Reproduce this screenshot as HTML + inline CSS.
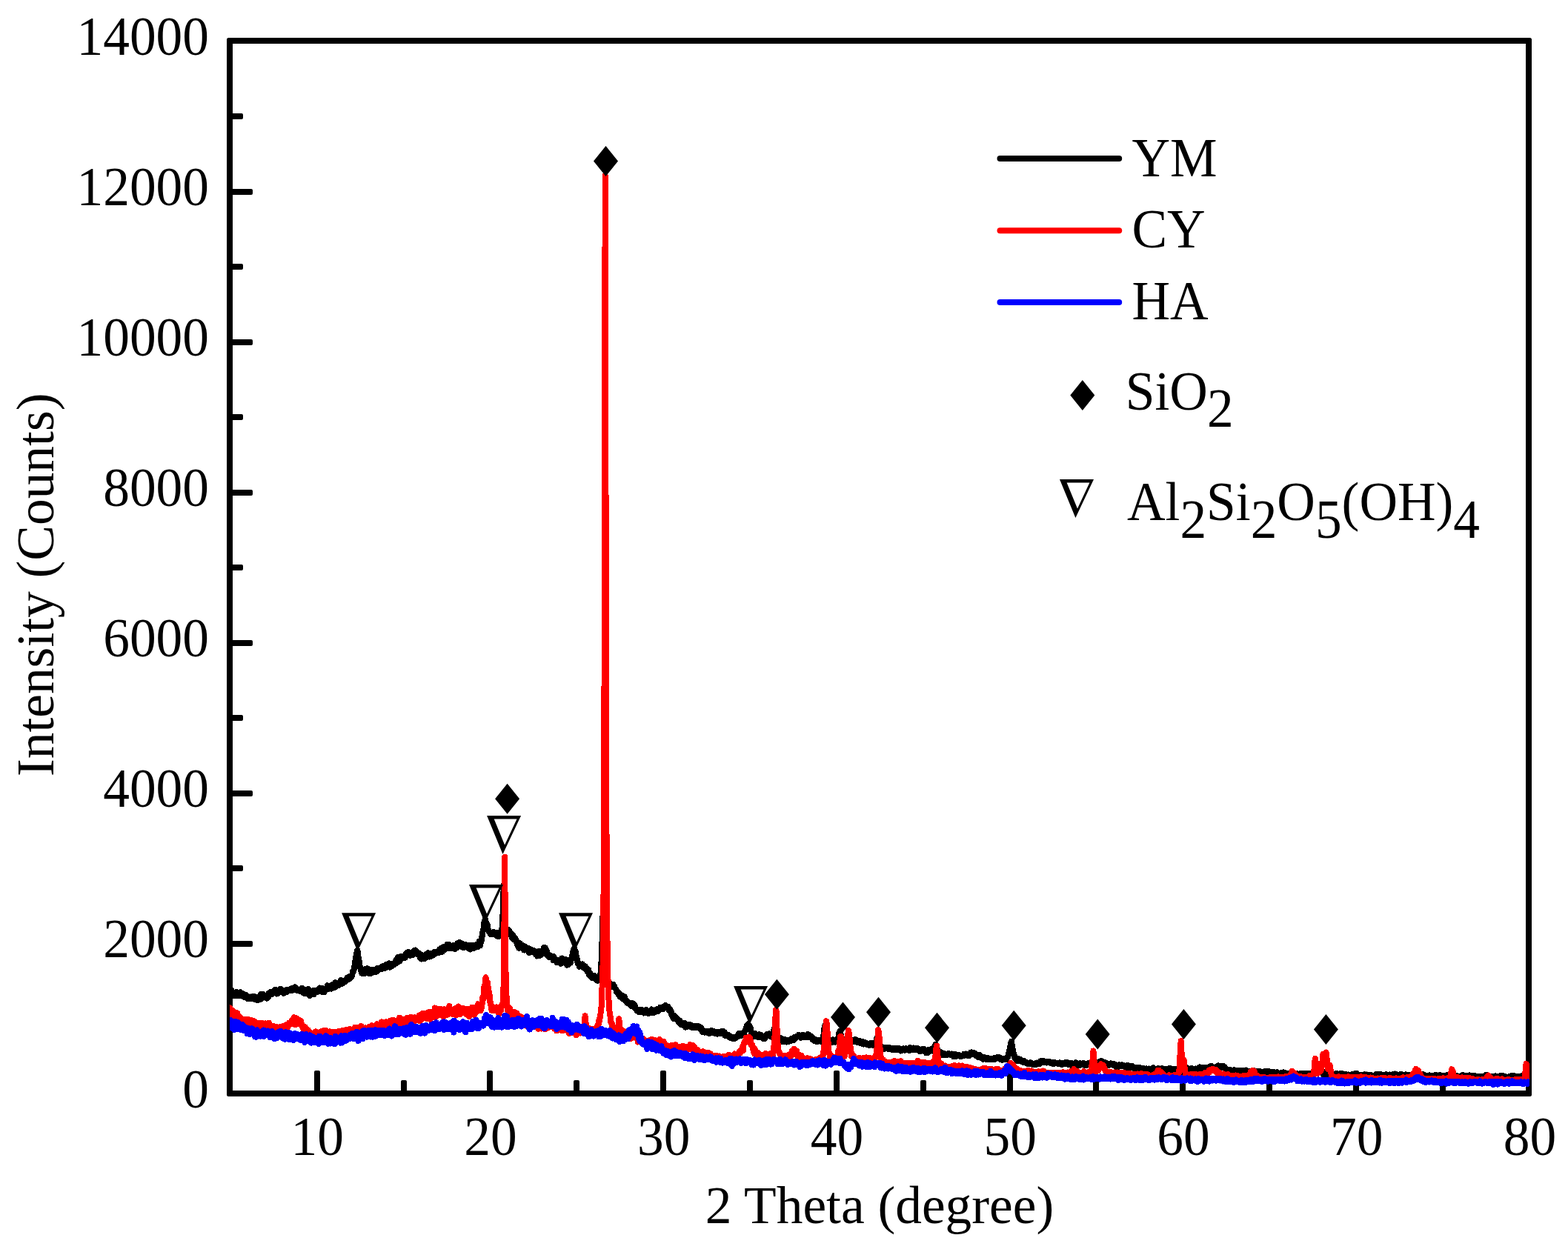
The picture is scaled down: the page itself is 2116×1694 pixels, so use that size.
<!DOCTYPE html>
<html lang="en">
<head>
<meta charset="utf-8">
<title>XRD patterns of YM, CY and HA</title>
<style>
html,body{margin:0;padding:0;background:#fff;}
body{width:2116px;height:1694px;overflow:hidden;}
svg{display:block;}
text{font-family:"Liberation Serif", serif;font-size:71.4px;fill:#000;}
.curve{fill:none;stroke-width:8.0;stroke-linejoin:round;stroke-linecap:round;}
</style>
</head>
<body>
<svg width="2116" height="1694" viewBox="0 0 2116 1694" role="img" aria-label="XRD patterns of YM, CY and HA">
<rect x="0" y="0" width="2116" height="1694" fill="#fff"/>
<g fill="#000">
<path fill-rule="evenodd" d="M308.5,51 H2064.5 Q2067,51 2067,53.5 V1477.5 Q2067,1480 2064.5,1480 H308.5 Q306,1480 306,1477.5 V53.5 Q306,51 308.5,51 Z M314,59 V1472 H2059 V59 Z"/>
<rect x="311" y="1371" width="17" height="8" rx="2"/>
<rect x="311" y="1270" width="30" height="8" rx="2"/>
<rect x="311" y="1168" width="17" height="8" rx="2"/>
<rect x="311" y="1067" width="30" height="8" rx="2"/>
<rect x="311" y="965" width="17" height="8" rx="2"/>
<rect x="311" y="864" width="30" height="8" rx="2"/>
<rect x="311" y="762" width="17" height="8" rx="2"/>
<rect x="311" y="661" width="30" height="8" rx="2"/>
<rect x="311" y="559" width="17" height="8" rx="2"/>
<rect x="311" y="458" width="30" height="8" rx="2"/>
<rect x="311" y="356" width="17" height="8" rx="2"/>
<rect x="311" y="255" width="30" height="8" rx="2"/>
<rect x="311" y="153" width="17" height="8" rx="2"/>
<rect x="424" y="1445" width="8" height="30" rx="2"/>
<rect x="541" y="1458" width="8" height="17" rx="2"/>
<rect x="657" y="1445" width="8" height="30" rx="2"/>
<rect x="774" y="1458" width="8" height="17" rx="2"/>
<rect x="891" y="1445" width="8" height="30" rx="2"/>
<rect x="1008" y="1458" width="8" height="17" rx="2"/>
<rect x="1125" y="1445" width="8" height="30" rx="2"/>
<rect x="1242" y="1458" width="8" height="17" rx="2"/>
<rect x="1359" y="1445" width="8" height="30" rx="2"/>
<rect x="1475" y="1458" width="8" height="17" rx="2"/>
<rect x="1592" y="1445" width="8" height="30" rx="2"/>
<rect x="1709" y="1458" width="8" height="17" rx="2"/>
<rect x="1826" y="1445" width="8" height="30" rx="2"/>
<rect x="1943" y="1458" width="8" height="17" rx="2"/>
</g>
<g text-anchor="end">
<text transform="translate(282.0,1495.3) scale(1,1.035)">0</text>
<text transform="translate(282.0,1292.3) scale(1,1.035)">2000</text>
<text transform="translate(282.0,1089.3) scale(1,1.035)">4000</text>
<text transform="translate(282.0,886.3) scale(1,1.035)">6000</text>
<text transform="translate(282.0,683.3) scale(1,1.035)">8000</text>
<text transform="translate(282.0,480.3) scale(1,1.035)">10000</text>
<text transform="translate(282.0,277.3) scale(1,1.035)">12000</text>
<text transform="translate(282.0,74.3) scale(1,1.035)">14000</text>
</g>
<g text-anchor="middle">
<text transform="translate(428.3,1559.0) scale(1,1.035)">10</text>
<text transform="translate(662.0,1559.0) scale(1,1.035)">20</text>
<text transform="translate(895.7,1559.0) scale(1,1.035)">30</text>
<text transform="translate(1129.5,1559.0) scale(1,1.035)">40</text>
<text transform="translate(1363.2,1559.0) scale(1,1.035)">50</text>
<text transform="translate(1596.9,1559.0) scale(1,1.035)">60</text>
<text transform="translate(1830.7,1559.0) scale(1,1.035)">70</text>
<text transform="translate(2064.4,1559.0) scale(1,1.035)">80</text>
<text transform="translate(1187.0,1651.0) scale(1,1.015)">2 Theta (degree)</text>
<text transform="translate(71.9,789.3) rotate(-90) scale(1,1.015)">Intensity (Counts)</text>
</g>
<clipPath id="plotclip"><rect x="310.0" y="55.0" width="1753.9" height="1421.0"/></clipPath>
<g clip-path="url(#plotclip)" shape-rendering="crispEdges">
<path class="curve" stroke="#000" d="M310.0,1338.7L310.5,1337.3 310.9,1337.5 311.4,1338.6 311.9,1335.6 312.3,1337.4 312.8,1337.8 313.3,1339.2 313.7,1340.5 314.2,1339.0 314.7,1341.0 315.1,1339.2 315.6,1343.0 316.1,1341.8 316.5,1344.3 317.0,1339.8 317.5,1340.6 317.9,1341.9 318.4,1339.3 318.9,1339.0 319.3,1340.8 319.8,1339.4 320.3,1341.6 320.8,1340.0 321.2,1340.4 321.7,1341.8 322.2,1344.4 322.6,1342.2 323.1,1342.2 323.6,1341.7 324.0,1340.0 324.5,1339.3 325.0,1339.9 325.4,1340.6 325.9,1341.9 326.4,1341.0 326.8,1344.5 327.3,1341.0 327.8,1341.4 328.2,1342.9 328.7,1342.2 329.2,1344.4 329.6,1342.6 330.1,1344.1 330.6,1346.3 331.0,1344.2 331.5,1344.0 332.0,1342.7 332.4,1346.6 332.9,1343.7 333.4,1344.8 333.8,1346.2 334.3,1347.9 334.8,1346.8 335.2,1347.1 335.7,1348.1 336.2,1346.8 336.6,1346.7 337.1,1346.2 337.6,1345.7 338.0,1346.5 338.5,1346.9 339.0,1348.3 339.5,1345.5 339.9,1347.7 340.4,1348.1 340.9,1346.7 341.3,1345.4 341.8,1345.3 342.3,1347.1 342.7,1346.7 343.2,1344.8 343.7,1348.1 344.1,1347.7 344.6,1349.3 345.1,1348.7 345.5,1345.6 346.0,1345.5 346.5,1346.2 346.9,1348.1 347.4,1347.2 347.9,1350.1 348.3,1348.6 348.8,1347.3 349.3,1348.2 349.7,1346.9 350.2,1348.2 350.7,1349.2 351.1,1346.7 351.6,1347.4 352.1,1342.3 352.5,1348.3 353.0,1346.3 353.5,1346.4 353.9,1345.6 354.4,1344.1 354.9,1345.8 355.3,1341.9 355.8,1342.7 356.3,1344.6 356.7,1343.4 357.2,1343.5 357.7,1346.0 358.1,1343.9 358.6,1344.5 359.1,1347.0 359.6,1346.9 360.0,1345.1 360.5,1347.6 361.0,1343.3 361.4,1344.8 361.9,1346.5 362.4,1343.9 362.8,1340.5 363.3,1343.2 363.8,1341.6 364.2,1340.3 364.7,1341.7 365.2,1340.6 365.6,1338.9 366.1,1338.9 366.6,1338.7 367.0,1339.9 367.5,1341.8 368.0,1340.4 368.4,1339.0 368.9,1339.8 369.4,1340.3 369.8,1337.3 370.3,1337.6 370.8,1337.4 371.2,1337.2 371.7,1336.0 372.2,1338.6 372.6,1338.3 373.1,1338.3 373.6,1338.8 374.0,1341.5 374.5,1339.8 375.0,1339.1 375.4,1340.3 375.9,1339.7 376.4,1337.1 376.8,1337.6 377.3,1337.6 377.8,1337.9 378.3,1338.8 378.7,1335.0 379.2,1335.9 379.7,1337.3 380.1,1336.7 380.6,1336.4 381.1,1337.5 381.5,1336.4 382.0,1339.2 382.5,1340.3 382.9,1340.8 383.4,1337.1 383.9,1337.2 384.3,1338.7 384.8,1337.3 385.3,1339.1 385.7,1339.4 386.2,1339.4 386.7,1336.5 387.1,1338.4 387.6,1335.9 388.1,1338.3 388.5,1336.4 389.0,1336.8 389.5,1336.0 389.9,1335.7 390.4,1336.4 390.9,1335.6 391.3,1336.5 391.8,1336.4 392.3,1336.4 392.7,1335.8 393.2,1336.3 393.7,1337.0 394.1,1335.1 394.6,1333.7 395.1,1334.3 395.5,1334.9 396.0,1334.3 396.5,1334.8 396.9,1335.0 397.4,1332.8 397.9,1336.2 398.4,1332.3 398.8,1333.3 399.3,1334.8 399.8,1334.8 400.2,1335.2 400.7,1337.1 401.2,1337.3 401.6,1336.9 402.1,1335.4 402.6,1336.4 403.0,1336.8 403.5,1335.6 404.0,1337.5 404.4,1337.1 404.9,1338.1 405.4,1336.5 405.8,1336.3 406.3,1334.7 406.8,1336.4 407.2,1334.2 407.7,1334.8 408.2,1334.3 408.6,1335.8 409.1,1335.5 409.6,1335.4 410.0,1340.6 410.5,1337.5 411.0,1340.7 411.4,1339.1 411.9,1336.8 412.4,1337.1 412.8,1340.8 413.3,1338.8 413.8,1340.8 414.2,1339.4 414.7,1339.5 415.2,1339.2 415.6,1338.6 416.1,1335.2 416.6,1340.3 417.0,1338.4 417.5,1340.4 418.0,1344.1 418.5,1343.2 418.9,1341.0 419.4,1341.6 419.9,1339.4 420.3,1341.8 420.8,1339.6 421.3,1340.1 421.7,1338.3 422.2,1338.7 422.7,1339.3 423.1,1339.5 423.6,1342.0 424.1,1336.6 424.5,1337.8 425.0,1337.6 425.5,1337.9 425.9,1338.8 426.4,1339.0 426.9,1338.6 427.3,1338.0 427.8,1337.8 428.3,1338.8 428.7,1336.9 429.2,1336.9 429.7,1335.8 430.1,1334.9 430.6,1337.4 431.1,1334.1 431.5,1333.6 432.0,1336.6 432.5,1336.7 432.9,1337.5 433.4,1334.0 433.9,1335.0 434.3,1338.7 434.8,1336.9 435.3,1335.1 435.7,1334.1 436.2,1335.5 436.7,1336.4 437.2,1337.7 437.6,1339.4 438.1,1336.4 438.6,1337.2 439.0,1335.3 439.5,1335.2 440.0,1336.0 440.4,1333.9 440.9,1334.9 441.4,1334.8 441.8,1330.3 442.3,1334.4 442.8,1331.4 443.2,1334.3 443.7,1334.7 444.2,1333.0 444.6,1333.8 445.1,1333.1 445.6,1331.7 446.0,1333.8 446.5,1332.7 447.0,1332.4 447.4,1334.6 447.9,1331.5 448.4,1329.4 448.8,1329.9 449.3,1332.9 449.8,1330.1 450.2,1331.1 450.7,1329.8 451.2,1329.6 451.6,1332.9 452.1,1328.9 452.6,1326.2 453.0,1329.1 453.5,1331.8 454.0,1327.7 454.4,1328.9 454.9,1330.2 455.4,1328.4 455.8,1329.0 456.3,1328.0 456.8,1327.3 457.3,1329.4 457.7,1329.6 458.2,1328.8 458.7,1326.8 459.1,1328.7 459.6,1326.9 460.1,1322.9 460.5,1324.3 461.0,1325.8 461.5,1327.3 461.9,1325.2 462.4,1327.5 462.9,1325.8 463.3,1325.7 463.8,1326.5 464.3,1323.7 464.7,1324.6 465.2,1325.6 465.7,1324.1 466.1,1323.4 466.6,1323.3 467.1,1323.3 467.5,1321.4 468.0,1322.6 468.5,1320.2 468.9,1321.1 469.4,1320.4 469.9,1321.9 470.3,1319.1 470.8,1319.9 471.3,1321.7 471.7,1321.5 472.2,1319.0 472.7,1320.3 473.1,1317.8 473.6,1318.6 474.1,1318.4 474.5,1318.2 475.0,1317.0 475.5,1315.1 476.0,1311.2 476.4,1313.0 476.9,1310.8 477.4,1309.3 477.8,1308.3 478.3,1304.4 478.8,1302.7 479.2,1298.7 479.7,1295.2 480.2,1292.4 480.6,1290.4 481.1,1287.3 481.6,1289.0 482.0,1283.3 482.5,1283.3 483.0,1288.0 483.4,1291.2 483.9,1292.7 484.4,1297.2 484.8,1297.8 485.3,1300.7 485.8,1305.9 486.2,1305.4 486.7,1308.6 487.2,1310.9 487.6,1310.3 488.1,1313.6 488.6,1313.8 489.0,1311.8 489.5,1312.4 490.0,1313.4 490.4,1312.0 490.9,1311.9 491.4,1311.1 491.8,1310.6 492.3,1314.2 492.8,1313.6 493.2,1309.0 493.7,1307.7 494.2,1308.5 494.6,1310.2 495.1,1310.9 495.6,1307.2 496.1,1309.9 496.5,1309.5 497.0,1311.3 497.5,1310.8 497.9,1313.0 498.4,1311.5 498.9,1311.2 499.3,1314.5 499.8,1313.6 500.3,1313.5 500.7,1308.6 501.2,1313.0 501.7,1313.0 502.1,1312.4 502.6,1310.5 503.1,1312.2 503.5,1310.4 504.0,1308.6 504.5,1311.3 504.9,1310.7 505.4,1310.9 505.9,1309.3 506.3,1312.1 506.8,1311.0 507.3,1308.4 507.7,1308.6 508.2,1311.7 508.7,1310.1 509.1,1310.3 509.6,1306.7 510.1,1310.3 510.5,1309.6 511.0,1307.0 511.5,1307.1 511.9,1308.4 512.4,1307.3 512.9,1308.3 513.3,1306.7 513.8,1307.0 514.3,1308.2 514.8,1307.7 515.2,1307.9 515.7,1304.4 516.2,1304.3 516.6,1306.7 517.1,1306.5 517.6,1306.0 518.0,1304.2 518.5,1304.8 519.0,1305.1 519.4,1307.2 519.9,1304.2 520.4,1305.3 520.8,1302.3 521.3,1302.5 521.8,1305.9 522.2,1304.1 522.7,1302.4 523.2,1302.8 523.6,1305.1 524.1,1301.9 524.6,1300.9 525.0,1300.6 525.5,1304.0 526.0,1305.6 526.4,1304.0 526.9,1301.7 527.4,1302.5 527.8,1303.2 528.3,1300.8 528.8,1302.1 529.2,1304.1 529.7,1303.1 530.2,1302.4 530.6,1302.8 531.1,1302.1 531.6,1301.9 532.0,1302.2 532.5,1301.0 533.0,1299.5 533.4,1299.2 533.9,1297.6 534.4,1295.7 534.9,1299.9 535.3,1297.6 535.8,1295.1 536.3,1297.0 536.7,1296.4 537.2,1292.0 537.7,1297.3 538.1,1295.0 538.6,1294.0 539.1,1297.7 539.5,1296.6 540.0,1296.4 540.5,1293.0 540.9,1294.1 541.4,1290.8 541.9,1292.8 542.3,1293.7 542.8,1292.4 543.3,1291.5 543.7,1293.1 544.2,1292.3 544.7,1293.3 545.1,1292.7 545.6,1291.4 546.1,1290.7 546.5,1293.1 547.0,1291.5 547.5,1291.0 547.9,1287.7 548.4,1286.3 548.9,1288.6 549.3,1287.3 549.8,1287.2 550.3,1287.7 550.7,1286.6 551.2,1285.0 551.7,1285.2 552.1,1288.0 552.6,1287.6 553.1,1287.8 553.6,1289.8 554.0,1289.0 554.5,1287.2 555.0,1287.9 555.4,1288.0 555.9,1288.0 556.4,1288.8 556.8,1289.1 557.3,1286.5 557.8,1286.0 558.2,1285.4 558.7,1283.6 559.2,1283.0 559.6,1283.2 560.1,1284.5 560.6,1282.5 561.0,1286.0 561.5,1285.8 562.0,1285.0 562.4,1284.3 562.9,1286.3 563.4,1285.3 563.8,1288.6 564.3,1286.5 564.8,1287.2 565.2,1286.5 565.7,1287.7 566.2,1290.0 566.6,1289.4 567.1,1292.7 567.6,1289.5 568.0,1293.8 568.5,1294.5 569.0,1290.4 569.4,1289.1 569.9,1291.3 570.4,1290.4 570.8,1291.0 571.3,1291.6 571.8,1292.1 572.2,1294.3 572.7,1290.9 573.2,1294.0 573.7,1290.2 574.1,1289.8 574.6,1290.1 575.1,1288.2 575.5,1292.1 576.0,1287.8 576.5,1289.5 576.9,1288.6 577.4,1287.2 577.9,1286.3 578.3,1291.1 578.8,1290.1 579.3,1291.5 579.7,1287.5 580.2,1289.8 580.7,1288.6 581.1,1291.0 581.6,1289.8 582.1,1290.1 582.5,1289.3 583.0,1289.7 583.5,1288.1 583.9,1286.8 584.4,1288.3 584.9,1289.2 585.3,1288.5 585.8,1286.6 586.3,1285.2 586.7,1284.8 587.2,1287.8 587.7,1286.4 588.1,1285.4 588.6,1285.9 589.1,1285.9 589.5,1285.9 590.0,1284.9 590.5,1284.2 590.9,1285.5 591.4,1284.2 591.9,1283.4 592.3,1286.2 592.8,1284.2 593.3,1281.5 593.8,1283.3 594.2,1284.5 594.7,1281.3 595.2,1283.6 595.6,1282.9 596.1,1279.8 596.6,1284.8 597.0,1282.3 597.5,1281.6 598.0,1280.8 598.4,1278.4 598.9,1282.5 599.4,1277.9 599.8,1282.3 600.3,1279.6 600.8,1278.4 601.2,1277.5 601.7,1279.7 602.2,1280.0 602.6,1279.3 603.1,1278.3 603.6,1275.0 604.0,1278.8 604.5,1277.2 605.0,1279.8 605.4,1276.4 605.9,1274.9 606.4,1276.7 606.8,1279.1 607.3,1280.0 607.8,1278.4 608.2,1280.0 608.7,1280.2 609.2,1277.2 609.6,1279.9 610.1,1278.9 610.6,1279.4 611.0,1277.5 611.5,1276.2 612.0,1279.3 612.5,1276.4 612.9,1279.9 613.4,1278.2 613.9,1278.6 614.3,1280.8 614.8,1276.2 615.3,1279.0 615.7,1276.8 616.2,1279.6 616.7,1278.9 617.1,1278.8 617.6,1273.3 618.1,1277.2 618.5,1274.4 619.0,1272.7 619.5,1272.4 619.9,1277.0 620.4,1274.2 620.9,1272.2 621.3,1275.5 621.8,1275.3 622.3,1274.4 622.7,1277.0 623.2,1276.2 623.7,1273.9 624.1,1278.7 624.6,1277.6 625.1,1274.9 625.5,1276.9 626.0,1279.1 626.5,1277.0 626.9,1276.6 627.4,1276.0 627.9,1274.7 628.3,1277.1 628.8,1275.5 629.3,1277.4 629.7,1275.9 630.2,1276.4 630.7,1276.4 631.1,1278.5 631.6,1276.3 632.1,1279.7 632.6,1279.3 633.0,1276.0 633.5,1279.2 634.0,1280.0 634.4,1280.6 634.9,1281.4 635.4,1277.2 635.8,1276.4 636.3,1277.6 636.8,1277.2 637.2,1278.9 637.7,1279.8 638.2,1278.7 638.6,1275.8 639.1,1277.9 639.6,1277.5 640.0,1279.7 640.5,1278.0 641.0,1277.2 641.4,1278.2 641.9,1276.4 642.4,1276.7 642.8,1276.6 643.3,1274.8 643.8,1275.0 644.2,1278.4 644.7,1275.5 645.2,1275.1 645.6,1273.8 646.1,1275.2 646.6,1271.0 647.0,1275.3 647.5,1273.9 648.0,1276.5 648.4,1273.6 648.9,1271.3 649.4,1271.4 649.8,1269.3 650.3,1263.8 650.8,1263.1 651.3,1258.2 651.7,1256.8 652.2,1254.6 652.7,1253.7 653.1,1249.0 653.6,1243.8 654.1,1243.9 654.5,1240.8 655.0,1241.2 655.5,1243.2 655.9,1245.4 656.4,1246.4 656.9,1246.5 657.3,1249.8 657.8,1248.6 658.3,1253.2 658.7,1254.7 659.2,1256.5 659.7,1256.7 660.1,1257.8 660.6,1259.0 661.1,1257.6 661.5,1259.8 662.0,1260.7 662.5,1260.4 662.9,1261.0 663.4,1261.2 663.9,1259.8 664.3,1260.1 664.8,1259.9 665.3,1261.1 665.7,1259.4 666.2,1258.1 666.7,1260.5 667.1,1259.8 667.6,1261.4 668.1,1261.1 668.5,1260.5 669.0,1260.8 669.5,1259.3 669.9,1262.9 670.4,1258.7 670.9,1259.9 671.4,1263.7 671.8,1261.8 672.3,1261.3 672.8,1264.1 673.2,1259.5 673.7,1261.5 674.2,1262.3 674.6,1260.8 675.1,1260.7 675.6,1258.5 676.0,1258.6 676.5,1257.6 677.0,1256.3 677.4,1254.3 677.9,1245.3 678.4,1237.8 678.8,1224.3 679.3,1208.7 679.8,1194.9 680.2,1209.5 680.7,1224.8 681.2,1235.3 681.6,1247.4 682.1,1250.9 682.6,1258.4 683.0,1259.1 683.5,1258.5 684.0,1255.8 684.4,1257.5 684.9,1257.4 685.4,1257.2 685.8,1256.9 686.3,1255.1 686.8,1258.5 687.2,1258.2 687.7,1256.5 688.2,1259.8 688.6,1261.8 689.1,1259.3 689.6,1260.7 690.1,1261.5 690.5,1265.0 691.0,1265.9 691.5,1266.2 691.9,1262.0 692.4,1266.1 692.9,1266.9 693.3,1264.9 693.8,1268.4 694.3,1267.6 694.7,1268.5 695.2,1266.0 695.7,1267.7 696.1,1268.4 696.6,1269.9 697.1,1270.0 697.5,1273.6 698.0,1274.6 698.5,1275.8 698.9,1275.5 699.4,1277.8 699.9,1276.4 700.3,1279.6 700.8,1277.3 701.3,1279.6 701.7,1273.2 702.2,1277.5 702.7,1276.8 703.1,1276.0 703.6,1277.9 704.1,1276.3 704.5,1278.8 705.0,1277.6 705.5,1276.0 705.9,1278.0 706.4,1280.9 706.9,1280.5 707.3,1282.5 707.8,1278.8 708.3,1279.6 708.7,1280.5 709.2,1278.1 709.7,1278.9 710.2,1279.6 710.6,1279.6 711.1,1281.2 711.6,1280.5 712.0,1282.3 712.5,1281.4 713.0,1279.7 713.4,1282.5 713.9,1285.8 714.4,1281.9 714.8,1285.8 715.3,1283.3 715.8,1284.6 716.2,1284.5 716.7,1281.5 717.2,1284.1 717.6,1283.7 718.1,1284.0 718.6,1283.6 719.0,1283.3 719.5,1285.5 720.0,1285.4 720.4,1284.9 720.9,1285.1 721.4,1283.4 721.8,1284.4 722.3,1284.7 722.8,1284.4 723.2,1288.7 723.7,1288.3 724.2,1287.5 724.6,1287.7 725.1,1290.5 725.6,1288.0 726.0,1288.7 726.5,1287.0 727.0,1284.2 727.4,1288.0 727.9,1285.3 728.4,1286.5 728.9,1287.1 729.3,1289.6 729.8,1286.6 730.3,1285.9 730.7,1288.4 731.2,1287.3 731.7,1284.2 732.1,1285.1 732.6,1286.2 733.1,1282.1 733.5,1283.9 734.0,1279.1 734.5,1278.9 734.9,1278.7 735.4,1279.7 735.9,1279.6 736.3,1281.3 736.8,1283.2 737.3,1282.4 737.7,1282.9 738.2,1289.0 738.7,1288.2 739.1,1288.0 739.6,1287.9 740.1,1289.7 740.5,1289.9 741.0,1291.9 741.5,1290.9 741.9,1289.7 742.4,1289.5 742.9,1289.8 743.3,1292.2 743.8,1290.8 744.3,1290.5 744.7,1291.7 745.2,1293.0 745.7,1292.1 746.1,1293.5 746.6,1296.4 747.1,1291.1 747.5,1296.0 748.0,1294.6 748.5,1295.6 749.0,1296.6 749.4,1296.7 749.9,1296.1 750.4,1295.6 750.8,1296.5 751.3,1295.4 751.8,1299.3 752.2,1296.0 752.7,1295.7 753.2,1296.1 753.6,1296.3 754.1,1296.8 754.6,1299.1 755.0,1296.1 755.5,1296.8 756.0,1296.4 756.4,1298.6 756.9,1300.8 757.4,1296.9 757.8,1297.0 758.3,1293.5 758.8,1295.6 759.2,1297.1 759.7,1297.4 760.2,1298.4 760.6,1295.0 761.1,1296.5 761.6,1296.8 762.0,1299.5 762.5,1298.4 763.0,1298.9 763.4,1295.0 763.9,1297.3 764.4,1297.9 764.8,1299.3 765.3,1302.7 765.8,1301.1 766.2,1298.9 766.7,1300.4 767.2,1302.3 767.6,1299.5 768.1,1300.1 768.6,1298.6 769.1,1299.3 769.5,1295.3 770.0,1299.6 770.5,1296.9 770.9,1295.0 771.4,1293.4 771.9,1290.7 772.3,1289.6 772.8,1287.6 773.3,1284.0 773.7,1282.6 774.2,1282.4 774.7,1281.8 775.1,1280.0 775.6,1282.8 776.1,1284.0 776.5,1283.8 777.0,1286.0 777.5,1292.2 777.9,1290.3 778.4,1291.8 778.9,1295.9 779.3,1299.2 779.8,1299.9 780.3,1301.5 780.7,1301.7 781.2,1301.1 781.7,1302.8 782.1,1304.8 782.6,1302.0 783.1,1302.2 783.5,1301.6 784.0,1303.7 784.5,1301.7 784.9,1302.3 785.4,1304.7 785.9,1301.4 786.3,1303.2 786.8,1303.0 787.3,1306.2 787.8,1304.0 788.2,1303.3 788.7,1305.8 789.2,1307.0 789.6,1307.5 790.1,1304.5 790.6,1307.2 791.0,1308.4 791.5,1307.0 792.0,1308.7 792.4,1308.3 792.9,1311.7 793.4,1311.2 793.8,1310.7 794.3,1308.7 794.8,1313.3 795.2,1316.2 795.7,1313.9 796.2,1313.3 796.6,1314.6 797.1,1314.8 797.6,1316.8 798.0,1319.2 798.5,1319.8 799.0,1319.0 799.4,1316.5 799.9,1317.9 800.4,1318.4 800.8,1318.9 801.3,1318.1 801.8,1317.9 802.2,1317.0 802.7,1319.1 803.2,1320.9 803.6,1318.8 804.1,1319.8 804.6,1322.7 805.0,1322.5 805.5,1322.0 806.0,1323.0 806.4,1323.7 806.9,1320.1 807.4,1322.7 807.9,1320.7 808.3,1319.7 808.8,1321.5 809.3,1322.4 809.7,1321.0 810.2,1315.8 810.7,1312.1 811.1,1304.7 811.6,1296.5 812.1,1286.0 812.5,1271.3 813.0,1247.2 813.5,1236.5 813.9,1248.3 814.4,1268.9 814.9,1286.5 815.3,1300.3 815.8,1309.3 816.3,1315.5 816.7,1320.9 817.2,1322.1 817.7,1322.2 818.1,1321.5 818.6,1325.5 819.1,1327.1 819.5,1325.3 820.0,1327.4 820.5,1328.7 820.9,1330.2 821.4,1326.1 821.9,1331.0 822.3,1326.0 822.8,1329.8 823.3,1332.7 823.7,1329.6 824.2,1331.4 824.7,1328.2 825.1,1330.2 825.6,1329.6 826.1,1330.6 826.6,1330.1 827.0,1329.8 827.5,1328.6 828.0,1330.0 828.4,1330.6 828.9,1331.1 829.4,1333.4 829.8,1333.3 830.3,1333.9 830.8,1335.3 831.2,1335.3 831.7,1338.0 832.2,1337.9 832.6,1339.3 833.1,1337.8 833.6,1338.5 834.0,1339.1 834.5,1340.6 835.0,1342.7 835.4,1342.6 835.9,1341.1 836.4,1343.0 836.8,1345.6 837.3,1342.7 837.8,1344.0 838.2,1345.1 838.7,1345.9 839.2,1345.0 839.6,1343.7 840.1,1345.7 840.6,1348.0 841.0,1347.6 841.5,1348.0 842.0,1348.2 842.4,1348.4 842.9,1345.0 843.4,1348.1 843.8,1350.9 844.3,1350.1 844.8,1350.9 845.2,1351.3 845.7,1350.7 846.2,1353.4 846.7,1352.4 847.1,1354.1 847.6,1354.4 848.1,1352.9 848.5,1354.8 849.0,1355.1 849.5,1355.7 849.9,1353.9 850.4,1353.9 850.9,1355.4 851.3,1356.7 851.8,1356.4 852.3,1358.2 852.7,1355.1 853.2,1358.1 853.7,1354.4 854.1,1357.0 854.6,1355.5 855.1,1356.8 855.5,1355.9 856.0,1356.9 856.5,1359.9 856.9,1357.5 857.4,1361.0 857.9,1361.0 858.3,1361.4 858.8,1361.5 859.3,1363.5 859.7,1362.9 860.2,1364.6 860.7,1363.6 861.1,1364.3 861.6,1365.7 862.1,1363.0 862.5,1364.8 863.0,1365.9 863.5,1363.9 863.9,1363.8 864.4,1363.4 864.9,1364.0 865.4,1362.7 865.8,1363.0 866.3,1365.3 866.8,1365.8 867.2,1366.0 867.7,1365.4 868.2,1365.2 868.6,1366.4 869.1,1367.4 869.6,1364.7 870.0,1364.5 870.5,1364.8 871.0,1366.7 871.4,1366.0 871.9,1363.0 872.4,1364.7 872.8,1363.7 873.3,1365.8 873.8,1366.3 874.2,1364.6 874.7,1366.9 875.2,1367.9 875.6,1367.3 876.1,1366.4 876.6,1366.3 877.0,1366.3 877.5,1366.3 878.0,1366.6 878.4,1364.8 878.9,1364.6 879.4,1362.5 879.8,1364.4 880.3,1365.6 880.8,1367.2 881.2,1367.2 881.7,1366.5 882.2,1367.0 882.6,1366.2 883.1,1366.6 883.6,1364.8 884.0,1363.7 884.5,1365.7 885.0,1363.6 885.5,1364.9 885.9,1362.9 886.4,1364.4 886.9,1362.2 887.3,1364.3 887.8,1364.7 888.3,1364.8 888.7,1363.1 889.2,1362.6 889.7,1362.8 890.1,1361.1 890.6,1361.0 891.1,1359.6 891.5,1361.4 892.0,1359.6 892.5,1361.7 892.9,1359.7 893.4,1360.0 893.9,1361.9 894.3,1359.5 894.8,1359.2 895.3,1361.9 895.7,1359.4 896.2,1360.1 896.7,1359.2 897.1,1358.4 897.6,1357.6 898.1,1357.0 898.5,1359.2 899.0,1358.0 899.5,1358.8 899.9,1359.3 900.4,1359.9 900.9,1359.7 901.3,1358.6 901.8,1360.2 902.3,1362.4 902.7,1360.6 903.2,1362.3 903.7,1364.2 904.2,1362.4 904.6,1364.3 905.1,1364.7 905.6,1365.1 906.0,1367.9 906.5,1370.2 907.0,1371.3 907.4,1370.8 907.9,1372.4 908.4,1374.2 908.8,1374.1 909.3,1375.0 909.8,1370.7 910.2,1373.9 910.7,1374.4 911.2,1374.6 911.6,1372.9 912.1,1373.4 912.6,1374.5 913.0,1376.0 913.5,1376.3 914.0,1376.3 914.4,1377.0 914.9,1375.7 915.4,1378.1 915.8,1380.0 916.3,1380.0 916.8,1378.8 917.2,1377.3 917.7,1380.3 918.2,1381.4 918.6,1382.4 919.1,1382.9 919.6,1382.1 920.0,1381.5 920.5,1382.2 921.0,1381.9 921.4,1382.5 921.9,1381.1 922.4,1384.1 922.8,1383.8 923.3,1381.6 923.8,1381.1 924.3,1381.9 924.7,1382.7 925.2,1386.7 925.7,1384.6 926.1,1383.0 926.6,1383.5 927.1,1383.2 927.5,1385.7 928.0,1385.7 928.5,1384.3 928.9,1385.2 929.4,1384.2 929.9,1383.6 930.3,1383.3 930.8,1382.8 931.3,1384.9 931.7,1383.9 932.2,1385.7 932.7,1384.8 933.1,1386.1 933.6,1384.6 934.1,1384.5 934.5,1385.5 935.0,1387.3 935.5,1385.2 935.9,1384.8 936.4,1384.8 936.9,1385.9 937.3,1386.3 937.8,1385.8 938.3,1387.1 938.7,1386.7 939.2,1385.1 939.7,1386.6 940.1,1386.0 940.6,1387.0 941.1,1386.4 941.5,1384.7 942.0,1387.0 942.5,1387.0 942.9,1387.6 943.4,1385.3 943.9,1386.2 944.4,1387.5 944.8,1387.9 945.3,1387.3 945.8,1386.8 946.2,1389.4 946.7,1387.9 947.2,1389.5 947.6,1389.7 948.1,1392.9 948.6,1390.9 949.0,1391.0 949.5,1391.3 950.0,1392.3 950.4,1391.9 950.9,1392.6 951.4,1393.5 951.8,1393.0 952.3,1392.1 952.8,1393.2 953.2,1392.2 953.7,1393.6 954.2,1392.2 954.6,1392.7 955.1,1393.8 955.6,1393.1 956.0,1392.5 956.5,1393.0 957.0,1394.9 957.4,1393.0 957.9,1394.7 958.4,1393.0 958.8,1391.8 959.3,1392.7 959.8,1393.2 960.2,1393.5 960.7,1391.0 961.2,1392.9 961.6,1393.2 962.1,1391.6 962.6,1391.6 963.1,1393.9 963.5,1392.6 964.0,1392.9 964.5,1393.6 964.9,1392.8 965.4,1395.0 965.9,1393.0 966.3,1394.0 966.8,1394.7 967.3,1393.9 967.7,1394.1 968.2,1395.5 968.7,1393.1 969.1,1394.6 969.6,1393.6 970.1,1394.5 970.5,1394.8 971.0,1394.1 971.5,1393.4 971.9,1394.0 972.4,1393.5 972.9,1394.8 973.3,1393.9 973.8,1393.8 974.3,1394.4 974.7,1394.4 975.2,1391.6 975.7,1393.3 976.1,1393.7 976.6,1395.1 977.1,1393.8 977.5,1393.0 978.0,1394.8 978.5,1397.7 978.9,1397.0 979.4,1395.9 979.9,1397.1 980.3,1397.7 980.8,1397.0 981.3,1398.2 981.7,1397.6 982.2,1396.7 982.7,1398.2 983.2,1398.8 983.6,1398.6 984.1,1397.6 984.6,1399.7 985.0,1400.6 985.5,1400.5 986.0,1399.9 986.4,1400.4 986.9,1399.3 987.4,1400.2 987.8,1399.8 988.3,1399.8 988.8,1400.2 989.2,1400.7 989.7,1402.3 990.2,1401.1 990.6,1400.2 991.1,1400.8 991.6,1402.0 992.0,1400.9 992.5,1399.9 993.0,1400.3 993.4,1399.4 993.9,1399.4 994.4,1399.1 994.8,1399.6 995.3,1398.5 995.8,1399.0 996.2,1396.5 996.7,1395.1 997.2,1398.6 997.6,1397.0 998.1,1395.5 998.6,1395.4 999.0,1395.8 999.5,1396.0 1000.0,1396.1 1000.4,1394.9 1000.9,1396.8 1001.4,1397.5 1001.9,1396.9 1002.3,1396.5 1002.8,1396.4 1003.3,1394.7 1003.7,1395.3 1004.2,1395.2 1004.7,1392.9 1005.1,1392.3 1005.6,1390.2 1006.1,1389.8 1006.5,1389.1 1007.0,1387.1 1007.5,1387.6 1007.9,1384.4 1008.4,1385.0 1008.9,1383.6 1009.3,1382.4 1009.8,1382.0 1010.3,1384.3 1010.7,1384.2 1011.2,1384.7 1011.7,1385.1 1012.1,1386.9 1012.6,1387.1 1013.1,1390.4 1013.5,1392.1 1014.0,1393.6 1014.5,1395.7 1014.9,1393.6 1015.4,1395.1 1015.9,1396.3 1016.3,1396.5 1016.8,1397.4 1017.3,1396.3 1017.7,1398.9 1018.2,1396.8 1018.7,1398.1 1019.1,1395.0 1019.6,1396.9 1020.1,1397.4 1020.5,1397.4 1021.0,1397.6 1021.5,1398.0 1022.0,1399.8 1022.4,1399.9 1022.9,1397.7 1023.4,1397.2 1023.8,1396.7 1024.3,1397.8 1024.8,1398.3 1025.2,1396.4 1025.7,1399.9 1026.2,1397.3 1026.6,1396.7 1027.1,1399.1 1027.6,1399.3 1028.0,1399.9 1028.5,1401.1 1029.0,1401.3 1029.4,1400.7 1029.9,1402.2 1030.4,1402.4 1030.8,1402.2 1031.3,1400.7 1031.8,1401.6 1032.2,1401.8 1032.7,1399.5 1033.2,1399.9 1033.6,1397.8 1034.1,1397.9 1034.6,1398.2 1035.0,1396.2 1035.5,1398.4 1036.0,1396.2 1036.4,1396.1 1036.9,1396.1 1037.4,1397.0 1037.8,1397.6 1038.3,1395.5 1038.8,1397.2 1039.2,1396.9 1039.7,1397.6 1040.2,1398.3 1040.7,1399.2 1041.1,1399.5 1041.6,1397.8 1042.1,1399.2 1042.5,1397.8 1043.0,1397.7 1043.5,1396.6 1043.9,1391.0 1044.4,1391.3 1044.9,1388.2 1045.3,1387.5 1045.8,1387.7 1046.3,1389.4 1046.7,1395.6 1047.2,1396.5 1047.7,1400.1 1048.1,1401.4 1048.6,1402.0 1049.1,1402.5 1049.5,1401.5 1050.0,1401.5 1050.5,1402.6 1050.9,1401.6 1051.4,1400.1 1051.9,1402.2 1052.3,1401.9 1052.8,1401.7 1053.3,1400.8 1053.7,1401.6 1054.2,1402.6 1054.7,1404.9 1055.1,1403.5 1055.6,1404.5 1056.1,1405.3 1056.5,1406.4 1057.0,1405.6 1057.5,1405.1 1057.9,1405.7 1058.4,1406.3 1058.9,1405.9 1059.3,1403.1 1059.8,1404.3 1060.3,1405.6 1060.8,1405.2 1061.2,1403.8 1061.7,1406.5 1062.2,1404.9 1062.6,1405.7 1063.1,1406.0 1063.6,1406.1 1064.0,1404.7 1064.5,1405.6 1065.0,1405.6 1065.4,1404.2 1065.9,1403.4 1066.4,1404.6 1066.8,1404.8 1067.3,1403.1 1067.8,1403.6 1068.2,1402.1 1068.7,1402.2 1069.2,1403.1 1069.6,1402.3 1070.1,1402.5 1070.6,1404.2 1071.0,1401.2 1071.5,1402.2 1072.0,1400.1 1072.4,1401.4 1072.9,1401.8 1073.4,1401.3 1073.8,1400.9 1074.3,1399.3 1074.8,1399.3 1075.2,1398.6 1075.7,1399.6 1076.2,1399.0 1076.6,1398.6 1077.1,1398.4 1077.6,1399.0 1078.0,1396.7 1078.5,1397.2 1079.0,1398.1 1079.5,1399.2 1079.9,1398.3 1080.4,1397.7 1080.9,1400.9 1081.3,1400.0 1081.8,1399.1 1082.3,1397.8 1082.7,1398.0 1083.2,1396.6 1083.7,1398.5 1084.1,1398.0 1084.6,1397.1 1085.1,1398.5 1085.5,1398.7 1086.0,1400.3 1086.5,1398.4 1086.9,1398.6 1087.4,1398.3 1087.9,1400.3 1088.3,1399.3 1088.8,1398.7 1089.3,1399.0 1089.7,1398.3 1090.2,1396.1 1090.7,1399.0 1091.1,1397.9 1091.6,1397.3 1092.1,1399.9 1092.5,1397.1 1093.0,1398.1 1093.5,1398.1 1093.9,1398.6 1094.4,1400.3 1094.9,1399.4 1095.3,1399.2 1095.8,1401.8 1096.3,1403.1 1096.7,1402.8 1097.2,1402.3 1097.7,1402.0 1098.1,1403.6 1098.6,1404.2 1099.1,1402.4 1099.6,1405.1 1100.0,1403.9 1100.5,1403.5 1101.0,1403.3 1101.4,1404.2 1101.9,1405.4 1102.4,1404.8 1102.8,1406.2 1103.3,1404.7 1103.8,1404.5 1104.2,1405.0 1104.7,1404.1 1105.2,1404.2 1105.6,1404.8 1106.1,1404.6 1106.6,1405.0 1107.0,1404.3 1107.5,1403.8 1108.0,1405.8 1108.4,1403.5 1108.9,1403.6 1109.4,1404.0 1109.8,1403.9 1110.3,1404.3 1110.8,1401.4 1111.2,1398.7 1111.7,1394.2 1112.2,1391.0 1112.6,1385.6 1113.1,1384.2 1113.6,1386.1 1114.0,1389.9 1114.5,1393.0 1115.0,1395.6 1115.4,1398.4 1115.9,1403.9 1116.4,1404.6 1116.8,1405.7 1117.3,1404.1 1117.8,1403.9 1118.2,1404.6 1118.7,1403.7 1119.2,1405.0 1119.7,1407.0 1120.1,1405.8 1120.6,1406.5 1121.1,1406.4 1121.5,1405.5 1122.0,1405.7 1122.5,1403.6 1122.9,1406.0 1123.4,1407.1 1123.9,1403.4 1124.3,1405.1 1124.8,1404.5 1125.3,1405.6 1125.7,1405.3 1126.2,1405.6 1126.7,1406.6 1127.1,1405.5 1127.6,1404.7 1128.1,1405.0 1128.5,1405.9 1129.0,1404.6 1129.5,1404.0 1129.9,1405.1 1130.4,1402.2 1130.9,1401.5 1131.3,1401.2 1131.8,1397.5 1132.3,1393.9 1132.7,1393.9 1133.2,1392.1 1133.7,1393.5 1134.1,1394.6 1134.6,1395.8 1135.1,1397.7 1135.5,1400.2 1136.0,1401.9 1136.5,1404.5 1136.9,1405.1 1137.4,1404.6 1137.9,1405.8 1138.4,1405.8 1138.8,1404.5 1139.3,1405.2 1139.8,1403.6 1140.2,1403.4 1140.7,1402.8 1141.2,1404.6 1141.6,1404.1 1142.1,1404.6 1142.6,1405.9 1143.0,1404.4 1143.5,1403.8 1144.0,1405.1 1144.4,1403.4 1144.9,1404.4 1145.4,1406.4 1145.8,1405.8 1146.3,1405.2 1146.8,1405.1 1147.2,1405.7 1147.7,1405.2 1148.2,1405.3 1148.6,1404.2 1149.1,1406.2 1149.6,1405.4 1150.0,1403.8 1150.5,1404.6 1151.0,1405.6 1151.4,1404.5 1151.9,1404.7 1152.4,1405.3 1152.8,1405.9 1153.3,1404.4 1153.8,1403.3 1154.2,1405.0 1154.7,1404.9 1155.2,1404.4 1155.6,1403.6 1156.1,1406.0 1156.6,1404.8 1157.0,1405.0 1157.5,1407.1 1158.0,1405.2 1158.5,1406.0 1158.9,1407.3 1159.4,1407.5 1159.9,1406.8 1160.3,1405.0 1160.8,1407.5 1161.3,1406.0 1161.7,1407.3 1162.2,1407.6 1162.7,1406.6 1163.1,1405.9 1163.6,1405.8 1164.1,1407.7 1164.5,1409.3 1165.0,1408.8 1165.5,1409.3 1165.9,1408.1 1166.4,1408.9 1166.9,1406.7 1167.3,1408.6 1167.8,1409.3 1168.3,1409.3 1168.7,1409.3 1169.2,1408.8 1169.7,1409.0 1170.1,1409.2 1170.6,1408.6 1171.1,1410.4 1171.5,1410.4 1172.0,1409.4 1172.5,1410.0 1172.9,1411.0 1173.4,1409.3 1173.9,1408.5 1174.3,1409.7 1174.8,1408.2 1175.3,1408.5 1175.7,1409.4 1176.2,1408.4 1176.7,1407.8 1177.2,1409.8 1177.6,1409.6 1178.1,1409.5 1178.6,1411.4 1179.0,1410.4 1179.5,1411.3 1180.0,1411.6 1180.4,1412.0 1180.9,1411.7 1181.4,1411.0 1181.8,1408.1 1182.3,1405.9 1182.8,1402.0 1183.2,1401.4 1183.7,1400.3 1184.2,1401.5 1184.6,1404.0 1185.1,1406.1 1185.6,1409.8 1186.0,1410.4 1186.5,1411.1 1187.0,1412.9 1187.4,1414.0 1187.9,1413.3 1188.4,1412.6 1188.8,1412.5 1189.3,1414.6 1189.8,1413.4 1190.2,1412.8 1190.7,1413.8 1191.2,1414.9 1191.6,1414.1 1192.1,1413.9 1192.6,1415.8 1193.0,1415.2 1193.5,1414.4 1194.0,1415.5 1194.4,1414.2 1194.9,1414.3 1195.4,1415.2 1195.8,1414.5 1196.3,1414.8 1196.8,1414.8 1197.3,1414.9 1197.7,1415.1 1198.2,1413.8 1198.7,1415.6 1199.1,1415.2 1199.6,1413.8 1200.1,1415.0 1200.5,1415.0 1201.0,1415.6 1201.5,1415.2 1201.9,1414.6 1202.4,1416.1 1202.9,1416.5 1203.3,1416.6 1203.8,1414.9 1204.3,1416.9 1204.7,1416.6 1205.2,1416.4 1205.7,1417.3 1206.1,1414.9 1206.6,1416.4 1207.1,1416.9 1207.5,1416.3 1208.0,1415.1 1208.5,1417.4 1208.9,1415.2 1209.4,1416.3 1209.9,1415.8 1210.3,1416.7 1210.8,1415.6 1211.3,1415.0 1211.7,1416.6 1212.2,1417.0 1212.7,1416.8 1213.1,1414.8 1213.6,1415.6 1214.1,1417.5 1214.5,1417.2 1215.0,1416.6 1215.5,1417.5 1216.0,1418.4 1216.4,1416.6 1216.9,1415.9 1217.4,1417.1 1217.8,1417.6 1218.3,1417.5 1218.8,1416.2 1219.2,1415.5 1219.7,1416.3 1220.2,1415.8 1220.6,1417.1 1221.1,1417.5 1221.6,1416.9 1222.0,1416.5 1222.5,1415.2 1223.0,1416.0 1223.4,1416.5 1223.9,1416.3 1224.4,1416.1 1224.8,1415.9 1225.3,1416.4 1225.8,1416.4 1226.2,1416.1 1226.7,1416.5 1227.2,1416.2 1227.6,1417.9 1228.1,1416.3 1228.6,1414.1 1229.0,1415.7 1229.5,1415.3 1230.0,1414.6 1230.4,1414.6 1230.9,1416.3 1231.4,1415.4 1231.8,1415.8 1232.3,1416.9 1232.8,1414.5 1233.2,1415.4 1233.7,1416.0 1234.2,1415.0 1234.6,1416.7 1235.1,1416.3 1235.6,1415.1 1236.1,1414.9 1236.5,1415.6 1237.0,1415.5 1237.5,1414.7 1237.9,1415.6 1238.4,1415.2 1238.9,1415.3 1239.3,1417.4 1239.8,1417.3 1240.3,1418.1 1240.7,1417.4 1241.2,1417.8 1241.7,1419.0 1242.1,1418.4 1242.6,1418.0 1243.1,1417.5 1243.5,1417.2 1244.0,1416.9 1244.5,1416.4 1244.9,1416.8 1245.4,1417.2 1245.9,1418.4 1246.3,1417.2 1246.8,1416.1 1247.3,1417.4 1247.7,1416.9 1248.2,1417.4 1248.7,1418.7 1249.1,1417.3 1249.6,1419.1 1250.1,1421.4 1250.5,1419.9 1251.0,1418.4 1251.5,1418.1 1251.9,1419.7 1252.4,1420.8 1252.9,1418.3 1253.3,1416.9 1253.8,1418.5 1254.3,1419.5 1254.8,1417.7 1255.2,1418.4 1255.7,1418.3 1256.2,1416.5 1256.6,1417.9 1257.1,1416.7 1257.6,1418.2 1258.0,1415.8 1258.5,1418.5 1259.0,1417.4 1259.4,1417.7 1259.9,1417.6 1260.4,1416.6 1260.8,1414.9 1261.3,1412.2 1261.8,1411.7 1262.2,1412.0 1262.7,1409.6 1263.2,1411.0 1263.6,1411.7 1264.1,1414.2 1264.6,1414.8 1265.0,1417.0 1265.5,1418.0 1266.0,1419.5 1266.4,1421.1 1266.9,1420.0 1267.4,1420.1 1267.8,1421.0 1268.3,1420.9 1268.8,1420.5 1269.2,1419.8 1269.7,1420.5 1270.2,1421.2 1270.6,1420.9 1271.1,1421.8 1271.6,1422.3 1272.0,1422.3 1272.5,1422.9 1273.0,1424.3 1273.4,1422.6 1273.9,1422.0 1274.4,1422.6 1274.9,1423.3 1275.3,1424.3 1275.8,1422.8 1276.3,1422.8 1276.7,1422.7 1277.2,1423.1 1277.7,1423.4 1278.1,1423.8 1278.6,1423.2 1279.1,1422.3 1279.5,1422.1 1280.0,1423.0 1280.5,1423.2 1280.9,1423.3 1281.4,1423.1 1281.9,1423.6 1282.3,1423.9 1282.8,1422.7 1283.3,1422.6 1283.7,1423.3 1284.2,1424.3 1284.7,1422.5 1285.1,1424.3 1285.6,1422.9 1286.1,1423.2 1286.5,1423.5 1287.0,1426.3 1287.5,1423.2 1287.9,1423.9 1288.4,1423.2 1288.9,1425.6 1289.3,1422.9 1289.8,1423.4 1290.3,1426.0 1290.7,1425.1 1291.2,1424.2 1291.7,1424.8 1292.1,1425.2 1292.6,1425.4 1293.1,1425.3 1293.5,1423.7 1294.0,1424.1 1294.5,1424.9 1295.0,1424.7 1295.4,1425.9 1295.9,1426.0 1296.4,1426.2 1296.8,1425.9 1297.3,1425.6 1297.8,1425.2 1298.2,1425.2 1298.7,1424.6 1299.2,1425.0 1299.6,1424.2 1300.1,1424.7 1300.6,1424.4 1301.0,1422.9 1301.5,1425.0 1302.0,1423.8 1302.4,1422.7 1302.9,1422.8 1303.4,1422.5 1303.8,1423.0 1304.3,1423.4 1304.8,1423.2 1305.2,1424.5 1305.7,1425.0 1306.2,1424.7 1306.6,1423.7 1307.1,1424.1 1307.6,1424.1 1308.0,1425.0 1308.5,1423.2 1309.0,1422.6 1309.4,1421.8 1309.9,1420.8 1310.4,1422.1 1310.8,1421.1 1311.3,1420.5 1311.8,1421.8 1312.2,1421.0 1312.7,1421.6 1313.2,1420.9 1313.7,1422.9 1314.1,1422.0 1314.6,1423.0 1315.1,1421.3 1315.5,1422.7 1316.0,1423.7 1316.5,1424.2 1316.9,1424.1 1317.4,1424.6 1317.9,1424.7 1318.3,1425.7 1318.8,1423.9 1319.3,1423.8 1319.7,1425.3 1320.2,1424.9 1320.7,1427.0 1321.1,1426.1 1321.6,1425.0 1322.1,1425.7 1322.5,1424.2 1323.0,1425.9 1323.5,1425.6 1323.9,1427.8 1324.4,1427.3 1324.9,1428.6 1325.3,1428.6 1325.8,1428.9 1326.3,1429.2 1326.7,1427.7 1327.2,1429.7 1327.7,1426.9 1328.1,1428.7 1328.6,1428.7 1329.1,1428.0 1329.5,1428.7 1330.0,1427.7 1330.5,1429.6 1330.9,1428.0 1331.4,1430.3 1331.9,1429.6 1332.3,1429.6 1332.8,1429.4 1333.3,1428.1 1333.8,1428.9 1334.2,1430.3 1334.7,1429.5 1335.2,1429.8 1335.6,1429.7 1336.1,1429.8 1336.6,1429.1 1337.0,1429.7 1337.5,1429.1 1338.0,1429.8 1338.4,1430.0 1338.9,1430.0 1339.4,1429.5 1339.8,1428.8 1340.3,1428.5 1340.8,1428.4 1341.2,1428.6 1341.7,1430.1 1342.2,1430.2 1342.6,1429.8 1343.1,1428.8 1343.6,1428.2 1344.0,1429.2 1344.5,1429.0 1345.0,1427.7 1345.4,1428.4 1345.9,1427.0 1346.4,1428.3 1346.8,1427.6 1347.3,1428.4 1347.8,1427.5 1348.2,1427.1 1348.7,1427.3 1349.2,1429.2 1349.6,1428.4 1350.1,1429.4 1350.6,1430.2 1351.0,1429.5 1351.5,1429.8 1352.0,1429.8 1352.5,1430.6 1352.9,1429.0 1353.4,1429.6 1353.9,1429.6 1354.3,1429.9 1354.8,1430.2 1355.3,1430.1 1355.7,1430.2 1356.2,1428.7 1356.7,1429.2 1357.1,1429.6 1357.6,1430.1 1358.1,1428.2 1358.5,1427.7 1359.0,1426.7 1359.5,1426.3 1359.9,1427.1 1360.4,1425.1 1360.9,1424.4 1361.3,1421.4 1361.8,1420.7 1362.3,1417.4 1362.7,1415.0 1363.2,1413.2 1363.7,1410.0 1364.1,1408.2 1364.6,1407.1 1365.1,1405.7 1365.5,1408.9 1366.0,1411.6 1366.5,1414.9 1366.9,1417.6 1367.4,1420.6 1367.9,1422.2 1368.3,1425.2 1368.8,1424.4 1369.3,1427.8 1369.7,1428.7 1370.2,1428.9 1370.7,1430.1 1371.1,1429.0 1371.6,1430.3 1372.1,1430.4 1372.6,1431.8 1373.0,1431.3 1373.5,1428.7 1374.0,1430.0 1374.4,1430.4 1374.9,1430.6 1375.4,1431.8 1375.8,1430.2 1376.3,1430.6 1376.8,1430.3 1377.2,1430.3 1377.7,1432.4 1378.2,1431.7 1378.6,1432.7 1379.1,1432.2 1379.6,1433.2 1380.0,1432.8 1380.5,1433.7 1381.0,1432.9 1381.4,1433.4 1381.9,1431.8 1382.4,1432.8 1382.8,1433.8 1383.3,1433.4 1383.8,1434.6 1384.2,1434.3 1384.7,1433.8 1385.2,1434.2 1385.6,1435.1 1386.1,1434.7 1386.6,1435.0 1387.0,1435.1 1387.5,1434.9 1388.0,1436.2 1388.4,1435.0 1388.9,1435.9 1389.4,1434.9 1389.8,1434.6 1390.3,1434.3 1390.8,1435.9 1391.3,1436.0 1391.7,1434.6 1392.2,1436.1 1392.7,1436.5 1393.1,1436.6 1393.6,1436.1 1394.1,1436.0 1394.5,1436.7 1395.0,1437.3 1395.5,1436.0 1395.9,1437.0 1396.4,1435.5 1396.9,1436.2 1397.3,1435.9 1397.8,1435.1 1398.3,1435.7 1398.7,1435.0 1399.2,1436.5 1399.7,1434.5 1400.1,1435.1 1400.6,1435.8 1401.1,1435.2 1401.5,1435.9 1402.0,1434.6 1402.5,1436.2 1402.9,1434.3 1403.4,1434.5 1403.9,1434.2 1404.3,1432.5 1404.8,1433.4 1405.3,1432.4 1405.7,1432.2 1406.2,1433.1 1406.7,1433.5 1407.1,1432.9 1407.6,1433.2 1408.1,1433.6 1408.5,1434.0 1409.0,1432.2 1409.5,1434.1 1409.9,1433.8 1410.4,1434.3 1410.9,1434.2 1411.4,1433.3 1411.8,1434.3 1412.3,1434.3 1412.8,1434.5 1413.2,1433.8 1413.7,1432.9 1414.2,1433.0 1414.6,1433.9 1415.1,1434.1 1415.6,1433.4 1416.0,1433.7 1416.5,1433.3 1417.0,1433.3 1417.4,1434.4 1417.9,1433.8 1418.4,1434.1 1418.8,1435.4 1419.3,1434.7 1419.8,1435.2 1420.2,1435.5 1420.7,1433.9 1421.2,1435.2 1421.6,1434.9 1422.1,1434.7 1422.6,1434.8 1423.0,1435.8 1423.5,1434.9 1424.0,1434.3 1424.4,1434.6 1424.9,1435.3 1425.4,1435.3 1425.8,1435.4 1426.3,1435.5 1426.8,1434.7 1427.2,1434.7 1427.7,1435.5 1428.2,1434.8 1428.6,1435.8 1429.1,1435.9 1429.6,1435.8 1430.1,1434.4 1430.5,1435.5 1431.0,1434.9 1431.5,1435.7 1431.9,1436.7 1432.4,1436.8 1432.9,1437.1 1433.3,1435.3 1433.8,1435.0 1434.3,1435.7 1434.7,1436.1 1435.2,1435.2 1435.7,1435.4 1436.1,1435.3 1436.6,1436.0 1437.1,1435.3 1437.5,1434.9 1438.0,1434.2 1438.5,1436.0 1438.9,1435.6 1439.4,1435.1 1439.9,1434.7 1440.3,1435.8 1440.8,1435.3 1441.3,1434.5 1441.7,1436.7 1442.2,1435.0 1442.7,1436.1 1443.1,1435.0 1443.6,1436.5 1444.1,1435.1 1444.5,1436.3 1445.0,1435.0 1445.5,1435.0 1445.9,1437.7 1446.4,1436.8 1446.9,1435.5 1447.3,1436.0 1447.8,1437.1 1448.3,1435.8 1448.7,1437.1 1449.2,1435.7 1449.7,1435.9 1450.2,1435.7 1450.6,1435.5 1451.1,1435.0 1451.6,1436.2 1452.0,1434.3 1452.5,1435.5 1453.0,1437.7 1453.4,1436.6 1453.9,1436.7 1454.4,1437.6 1454.8,1437.0 1455.3,1438.5 1455.8,1435.9 1456.2,1437.7 1456.7,1437.2 1457.2,1437.6 1457.6,1437.7 1458.1,1435.4 1458.6,1436.6 1459.0,1436.0 1459.5,1436.1 1460.0,1435.6 1460.4,1435.5 1460.9,1436.0 1461.4,1435.6 1461.8,1436.5 1462.3,1436.5 1462.8,1436.7 1463.2,1435.5 1463.7,1437.6 1464.2,1436.3 1464.6,1436.2 1465.1,1436.7 1465.6,1438.4 1466.0,1436.1 1466.5,1435.9 1467.0,1436.1 1467.4,1436.5 1467.9,1435.8 1468.4,1436.5 1468.8,1437.0 1469.3,1435.2 1469.8,1437.0 1470.3,1436.4 1470.7,1435.2 1471.2,1437.3 1471.7,1436.4 1472.1,1435.7 1472.6,1435.1 1473.1,1435.2 1473.5,1435.6 1474.0,1436.3 1474.5,1435.4 1474.9,1434.5 1475.4,1435.0 1475.9,1434.2 1476.3,1434.5 1476.8,1434.4 1477.3,1435.0 1477.7,1433.9 1478.2,1434.3 1478.7,1435.4 1479.1,1434.1 1479.6,1435.6 1480.1,1435.1 1480.5,1434.2 1481.0,1434.8 1481.5,1435.3 1481.9,1435.2 1482.4,1434.2 1482.9,1433.4 1483.3,1434.3 1483.8,1434.3 1484.3,1432.9 1484.7,1434.0 1485.2,1433.4 1485.7,1432.3 1486.1,1433.0 1486.6,1433.5 1487.1,1433.7 1487.5,1432.5 1488.0,1433.3 1488.5,1434.5 1489.0,1434.9 1489.4,1433.6 1489.9,1433.9 1490.4,1434.4 1490.8,1434.9 1491.3,1436.6 1491.8,1434.3 1492.2,1436.3 1492.7,1435.2 1493.2,1436.2 1493.6,1436.4 1494.1,1436.4 1494.6,1436.5 1495.0,1436.2 1495.5,1436.0 1496.0,1437.7 1496.4,1437.9 1496.9,1437.5 1497.4,1436.5 1497.8,1436.1 1498.3,1436.6 1498.8,1435.4 1499.2,1436.1 1499.7,1436.4 1500.2,1436.9 1500.6,1436.8 1501.1,1436.4 1501.6,1436.5 1502.0,1436.6 1502.5,1436.7 1503.0,1437.2 1503.4,1436.3 1503.9,1438.3 1504.4,1437.8 1504.8,1436.6 1505.3,1436.9 1505.8,1439.7 1506.2,1439.0 1506.7,1439.3 1507.2,1439.3 1507.6,1438.3 1508.1,1439.6 1508.6,1439.2 1509.1,1439.8 1509.5,1439.6 1510.0,1439.5 1510.5,1438.8 1510.9,1437.3 1511.4,1437.7 1511.9,1438.1 1512.3,1437.8 1512.8,1437.6 1513.3,1437.8 1513.7,1437.5 1514.2,1438.4 1514.7,1439.3 1515.1,1437.9 1515.6,1438.6 1516.1,1438.7 1516.5,1439.1 1517.0,1439.5 1517.5,1438.4 1517.9,1438.9 1518.4,1438.9 1518.9,1440.5 1519.3,1440.0 1519.8,1440.5 1520.3,1438.8 1520.7,1440.1 1521.2,1439.1 1521.7,1438.0 1522.1,1439.6 1522.6,1439.9 1523.1,1441.1 1523.5,1439.4 1524.0,1440.9 1524.5,1440.4 1524.9,1439.8 1525.4,1439.9 1525.9,1439.5 1526.3,1440.4 1526.8,1440.5 1527.3,1441.1 1527.8,1438.7 1528.2,1440.6 1528.7,1440.7 1529.2,1441.5 1529.6,1441.1 1530.1,1441.2 1530.6,1442.7 1531.0,1440.5 1531.5,1441.7 1532.0,1441.7 1532.4,1442.4 1532.9,1442.2 1533.4,1440.7 1533.8,1441.7 1534.3,1442.1 1534.8,1440.9 1535.2,1442.0 1535.7,1441.4 1536.2,1441.1 1536.6,1442.4 1537.1,1442.0 1537.6,1442.3 1538.0,1440.9 1538.5,1441.8 1539.0,1441.5 1539.4,1441.8 1539.9,1441.5 1540.4,1441.7 1540.8,1444.0 1541.3,1443.1 1541.8,1442.4 1542.2,1442.9 1542.7,1442.0 1543.2,1442.7 1543.6,1443.9 1544.1,1443.4 1544.6,1443.2 1545.0,1442.6 1545.5,1442.7 1546.0,1443.4 1546.4,1443.2 1546.9,1442.5 1547.4,1443.8 1547.9,1443.9 1548.3,1442.9 1548.8,1442.9 1549.3,1443.5 1549.7,1444.0 1550.2,1444.1 1550.7,1442.4 1551.1,1442.4 1551.6,1443.8 1552.1,1444.3 1552.5,1442.7 1553.0,1443.6 1553.5,1443.2 1553.9,1443.8 1554.4,1442.2 1554.9,1442.1 1555.3,1442.8 1555.8,1441.8 1556.3,1441.3 1556.7,1443.3 1557.2,1443.6 1557.7,1444.0 1558.1,1443.4 1558.6,1442.7 1559.1,1442.6 1559.5,1443.2 1560.0,1442.8 1560.5,1443.4 1560.9,1443.5 1561.4,1443.0 1561.9,1443.8 1562.3,1443.3 1562.8,1443.2 1563.3,1441.8 1563.7,1442.8 1564.2,1443.5 1564.7,1443.1 1565.1,1443.1 1565.6,1442.7 1566.1,1443.2 1566.6,1442.9 1567.0,1444.0 1567.5,1443.6 1568.0,1442.0 1568.4,1443.8 1568.9,1443.4 1569.4,1443.7 1569.8,1443.1 1570.3,1442.9 1570.8,1443.1 1571.2,1443.2 1571.7,1443.8 1572.2,1442.7 1572.6,1444.4 1573.1,1443.5 1573.6,1443.7 1574.0,1443.9 1574.5,1444.3 1575.0,1443.1 1575.4,1443.8 1575.9,1443.0 1576.4,1444.1 1576.8,1443.0 1577.3,1443.1 1577.8,1442.7 1578.2,1441.7 1578.7,1442.6 1579.2,1443.2 1579.6,1442.7 1580.1,1443.4 1580.6,1442.8 1581.0,1443.5 1581.5,1444.4 1582.0,1444.9 1582.4,1443.9 1582.9,1444.7 1583.4,1443.4 1583.8,1443.4 1584.3,1443.6 1584.8,1444.1 1585.2,1444.0 1585.7,1443.2 1586.2,1444.1 1586.7,1443.0 1587.1,1443.3 1587.6,1444.2 1588.1,1443.5 1588.5,1443.6 1589.0,1443.1 1589.5,1444.1 1589.9,1444.9 1590.4,1444.5 1590.9,1445.0 1591.3,1443.9 1591.8,1444.4 1592.3,1444.1 1592.7,1444.2 1593.2,1444.7 1593.7,1443.8 1594.1,1443.6 1594.6,1443.5 1595.1,1443.9 1595.5,1443.0 1596.0,1442.6 1596.5,1443.6 1596.9,1443.4 1597.4,1444.9 1597.9,1443.8 1598.3,1443.6 1598.8,1443.2 1599.3,1445.7 1599.7,1443.2 1600.2,1443.2 1600.7,1444.5 1601.1,1443.9 1601.6,1444.2 1602.1,1443.5 1602.5,1441.4 1603.0,1443.0 1603.5,1443.3 1603.9,1443.1 1604.4,1444.1 1604.9,1443.9 1605.4,1443.7 1605.8,1442.8 1606.3,1442.7 1606.8,1442.9 1607.2,1443.6 1607.7,1442.1 1608.2,1442.1 1608.6,1443.6 1609.1,1444.6 1609.6,1443.7 1610.0,1443.2 1610.5,1445.3 1611.0,1444.2 1611.4,1443.1 1611.9,1443.4 1612.4,1443.3 1612.8,1443.1 1613.3,1442.6 1613.8,1443.5 1614.2,1443.1 1614.7,1444.1 1615.2,1442.6 1615.6,1442.5 1616.1,1443.6 1616.6,1442.8 1617.0,1442.6 1617.5,1441.6 1618.0,1442.9 1618.4,1441.5 1618.9,1440.5 1619.4,1441.0 1619.8,1441.9 1620.3,1440.6 1620.8,1441.7 1621.2,1442.9 1621.7,1441.9 1622.2,1440.7 1622.6,1442.8 1623.1,1443.2 1623.6,1441.8 1624.0,1442.4 1624.5,1441.8 1625.0,1442.5 1625.5,1443.0 1625.9,1440.8 1626.4,1442.2 1626.9,1441.9 1627.3,1442.4 1627.8,1442.9 1628.3,1441.9 1628.7,1441.5 1629.2,1443.0 1629.7,1444.2 1630.1,1443.1 1630.6,1441.3 1631.1,1441.0 1631.5,1440.5 1632.0,1440.9 1632.5,1440.2 1632.9,1440.6 1633.4,1440.2 1633.9,1439.8 1634.3,1438.9 1634.8,1439.3 1635.3,1438.9 1635.7,1440.7 1636.2,1440.9 1636.7,1440.7 1637.1,1440.5 1637.6,1440.5 1638.1,1440.6 1638.5,1441.6 1639.0,1442.1 1639.5,1440.7 1639.9,1440.8 1640.4,1440.5 1640.9,1440.0 1641.3,1440.3 1641.8,1440.0 1642.3,1440.3 1642.7,1440.4 1643.2,1439.2 1643.7,1438.9 1644.1,1438.4 1644.6,1439.4 1645.1,1440.6 1645.6,1439.3 1646.0,1439.4 1646.5,1440.0 1647.0,1439.4 1647.4,1439.8 1647.9,1439.6 1648.4,1439.0 1648.8,1440.6 1649.3,1440.7 1649.8,1440.0 1650.2,1440.4 1650.7,1440.4 1651.2,1439.1 1651.6,1440.7 1652.1,1441.8 1652.6,1440.5 1653.0,1440.4 1653.5,1442.0 1654.0,1443.2 1654.4,1443.1 1654.9,1444.3 1655.4,1443.7 1655.8,1444.5 1656.3,1445.3 1656.8,1445.6 1657.2,1446.1 1657.7,1444.7 1658.2,1445.3 1658.6,1444.0 1659.1,1444.6 1659.6,1444.6 1660.0,1444.3 1660.5,1445.1 1661.0,1445.1 1661.4,1444.7 1661.9,1446.2 1662.4,1445.6 1662.8,1445.6 1663.3,1445.9 1663.8,1444.7 1664.3,1444.5 1664.7,1445.3 1665.2,1445.3 1665.7,1444.3 1666.1,1445.8 1666.6,1445.0 1667.1,1446.4 1667.5,1444.8 1668.0,1445.8 1668.5,1445.5 1668.9,1445.6 1669.4,1446.0 1669.9,1445.5 1670.3,1446.6 1670.8,1445.5 1671.3,1445.3 1671.7,1446.1 1672.2,1445.0 1672.7,1444.9 1673.1,1445.0 1673.6,1445.4 1674.1,1446.0 1674.5,1447.3 1675.0,1446.3 1675.5,1445.3 1675.9,1445.6 1676.4,1447.4 1676.9,1446.0 1677.3,1445.6 1677.8,1445.9 1678.3,1446.2 1678.7,1444.6 1679.2,1444.9 1679.7,1445.1 1680.1,1445.6 1680.6,1445.7 1681.1,1446.2 1681.5,1444.5 1682.0,1446.0 1682.5,1445.6 1682.9,1445.8 1683.4,1445.7 1683.9,1446.3 1684.4,1446.6 1684.8,1447.1 1685.3,1447.4 1685.8,1447.7 1686.2,1448.8 1686.7,1447.4 1687.2,1448.3 1687.6,1448.0 1688.1,1447.9 1688.6,1446.1 1689.0,1446.8 1689.5,1446.5 1690.0,1446.0 1690.4,1446.4 1690.9,1445.9 1691.4,1446.1 1691.8,1446.4 1692.3,1447.4 1692.8,1446.5 1693.2,1445.5 1693.7,1446.5 1694.2,1448.2 1694.6,1446.4 1695.1,1446.9 1695.6,1446.1 1696.0,1446.3 1696.5,1446.1 1697.0,1446.1 1697.4,1446.9 1697.9,1447.4 1698.4,1447.2 1698.8,1446.4 1699.3,1446.5 1699.8,1446.7 1700.2,1446.4 1700.7,1447.3 1701.2,1446.8 1701.6,1448.2 1702.1,1446.7 1702.6,1446.9 1703.1,1447.7 1703.5,1447.0 1704.0,1447.7 1704.5,1448.0 1704.9,1448.2 1705.4,1448.0 1705.9,1448.4 1706.3,1446.9 1706.8,1446.8 1707.3,1446.7 1707.7,1445.9 1708.2,1446.9 1708.7,1446.1 1709.1,1447.5 1709.6,1446.7 1710.1,1446.4 1710.5,1447.7 1711.0,1447.3 1711.5,1446.9 1711.9,1447.9 1712.4,1447.4 1712.9,1446.3 1713.3,1447.5 1713.8,1447.6 1714.3,1448.3 1714.7,1447.6 1715.2,1448.4 1715.7,1447.7 1716.1,1448.5 1716.6,1447.6 1717.1,1447.0 1717.5,1447.6 1718.0,1447.1 1718.5,1447.5 1718.9,1447.3 1719.4,1447.1 1719.9,1447.8 1720.3,1448.0 1720.8,1448.6 1721.3,1447.6 1721.7,1448.9 1722.2,1448.8 1722.7,1448.8 1723.2,1447.3 1723.6,1447.2 1724.1,1448.4 1724.6,1448.3 1725.0,1448.3 1725.5,1449.7 1726.0,1448.8 1726.4,1448.8 1726.9,1449.0 1727.4,1449.4 1727.8,1449.6 1728.3,1450.7 1728.8,1450.0 1729.2,1448.2 1729.7,1449.6 1730.2,1448.3 1730.6,1448.3 1731.1,1448.0 1731.6,1447.9 1732.0,1447.4 1732.5,1448.1 1733.0,1448.2 1733.4,1447.8 1733.9,1448.6 1734.4,1447.9 1734.8,1448.2 1735.3,1448.7 1735.8,1448.9 1736.2,1448.9 1736.7,1450.1 1737.2,1448.8 1737.6,1449.8 1738.1,1449.3 1738.6,1448.8 1739.0,1449.4 1739.5,1450.1 1740.0,1450.2 1740.4,1449.9 1740.9,1449.5 1741.4,1448.9 1741.9,1447.9 1742.3,1448.4 1742.8,1448.0 1743.3,1449.0 1743.7,1448.9 1744.2,1448.6 1744.7,1448.0 1745.1,1448.8 1745.6,1448.2 1746.1,1449.3 1746.5,1448.6 1747.0,1449.1 1747.5,1448.9 1747.9,1448.8 1748.4,1449.4 1748.9,1449.4 1749.3,1448.8 1749.8,1449.9 1750.3,1449.8 1750.7,1449.5 1751.2,1449.5 1751.7,1449.4 1752.1,1450.0 1752.6,1450.3 1753.1,1450.0 1753.5,1450.5 1754.0,1450.0 1754.5,1449.3 1754.9,1449.3 1755.4,1449.0 1755.9,1449.4 1756.3,1450.8 1756.8,1448.9 1757.3,1450.4 1757.7,1449.1 1758.2,1449.8 1758.7,1449.1 1759.1,1449.3 1759.6,1449.1 1760.1,1449.3 1760.5,1449.7 1761.0,1450.1 1761.5,1449.1 1762.0,1450.2 1762.4,1449.9 1762.9,1449.3 1763.4,1449.8 1763.8,1450.9 1764.3,1450.0 1764.8,1449.4 1765.2,1450.0 1765.7,1450.2 1766.2,1450.8 1766.6,1450.3 1767.1,1449.2 1767.6,1450.1 1768.0,1449.8 1768.5,1449.3 1769.0,1449.9 1769.4,1449.1 1769.9,1450.4 1770.4,1449.2 1770.8,1449.9 1771.3,1450.0 1771.8,1450.7 1772.2,1449.1 1772.7,1449.5 1773.2,1449.5 1773.6,1449.3 1774.1,1448.9 1774.6,1449.0 1775.0,1449.6 1775.5,1448.7 1776.0,1448.9 1776.4,1449.1 1776.9,1448.3 1777.4,1448.4 1777.8,1449.1 1778.3,1447.1 1778.8,1447.4 1779.2,1445.7 1779.7,1446.4 1780.2,1445.3 1780.7,1443.7 1781.1,1443.2 1781.6,1443.2 1782.1,1442.8 1782.5,1442.5 1783.0,1443.3 1783.5,1444.6 1783.9,1444.8 1784.4,1446.1 1784.9,1446.5 1785.3,1448.0 1785.8,1450.4 1786.3,1450.0 1786.7,1448.9 1787.2,1449.9 1787.7,1449.2 1788.1,1450.1 1788.6,1450.1 1789.1,1450.1 1789.5,1450.1 1790.0,1450.0 1790.5,1450.2 1790.9,1449.9 1791.4,1450.4 1791.9,1449.5 1792.3,1450.4 1792.8,1451.3 1793.3,1451.0 1793.7,1450.4 1794.2,1449.7 1794.7,1449.9 1795.1,1449.9 1795.6,1450.3 1796.1,1450.8 1796.5,1450.5 1797.0,1449.5 1797.5,1449.9 1797.9,1450.3 1798.4,1450.4 1798.9,1451.4 1799.3,1450.3 1799.8,1450.6 1800.3,1450.1 1800.8,1450.4 1801.2,1449.7 1801.7,1450.4 1802.2,1450.2 1802.6,1451.4 1803.1,1449.4 1803.6,1449.6 1804.0,1448.9 1804.5,1449.6 1805.0,1450.2 1805.4,1450.0 1805.9,1450.3 1806.4,1450.2 1806.8,1450.0 1807.3,1449.6 1807.8,1450.6 1808.2,1449.9 1808.7,1450.2 1809.2,1450.7 1809.6,1450.2 1810.1,1449.2 1810.6,1450.3 1811.0,1451.2 1811.5,1449.4 1812.0,1450.3 1812.4,1449.4 1812.9,1450.2 1813.4,1450.4 1813.8,1450.1 1814.3,1450.2 1814.8,1451.0 1815.2,1449.6 1815.7,1451.1 1816.2,1450.4 1816.6,1451.2 1817.1,1451.5 1817.6,1451.1 1818.0,1450.9 1818.5,1451.0 1819.0,1451.1 1819.4,1450.6 1819.9,1451.4 1820.4,1452.0 1820.9,1451.8 1821.3,1451.7 1821.8,1451.2 1822.3,1451.2 1822.7,1450.6 1823.2,1450.5 1823.7,1451.1 1824.1,1450.7 1824.6,1450.2 1825.1,1450.6 1825.5,1451.0 1826.0,1451.0 1826.5,1451.1 1826.9,1451.8 1827.4,1450.8 1827.9,1451.6 1828.3,1451.5 1828.8,1451.0 1829.3,1451.7 1829.7,1452.0 1830.2,1451.1 1830.7,1452.7 1831.1,1451.8 1831.6,1451.7 1832.1,1451.6 1832.5,1451.6 1833.0,1451.2 1833.5,1451.2 1833.9,1452.0 1834.4,1450.7 1834.9,1451.8 1835.3,1452.2 1835.8,1451.8 1836.3,1452.9 1836.7,1450.8 1837.2,1451.5 1837.7,1453.2 1838.1,1452.7 1838.6,1452.8 1839.1,1451.9 1839.6,1452.2 1840.0,1451.8 1840.5,1450.6 1841.0,1450.3 1841.4,1450.6 1841.9,1450.4 1842.4,1451.2 1842.8,1450.6 1843.3,1450.6 1843.8,1451.2 1844.2,1451.0 1844.7,1450.6 1845.2,1452.5 1845.6,1452.2 1846.1,1452.8 1846.6,1451.5 1847.0,1451.1 1847.5,1452.4 1848.0,1451.8 1848.4,1451.5 1848.9,1451.4 1849.4,1453.0 1849.8,1451.6 1850.3,1451.3 1850.8,1451.9 1851.2,1451.7 1851.7,1451.5 1852.2,1451.7 1852.6,1451.7 1853.1,1452.2 1853.6,1452.0 1854.0,1451.9 1854.5,1451.5 1855.0,1451.9 1855.4,1451.2 1855.9,1451.4 1856.4,1450.7 1856.8,1451.2 1857.3,1450.2 1857.8,1450.9 1858.2,1450.8 1858.7,1451.2 1859.2,1451.9 1859.7,1451.7 1860.1,1452.1 1860.6,1450.1 1861.1,1451.0 1861.5,1451.2 1862.0,1451.9 1862.5,1452.2 1862.9,1451.3 1863.4,1450.2 1863.9,1451.9 1864.3,1451.7 1864.8,1452.1 1865.3,1451.5 1865.7,1451.3 1866.2,1450.7 1866.7,1451.9 1867.1,1451.3 1867.6,1452.6 1868.1,1452.8 1868.5,1451.6 1869.0,1451.3 1869.5,1450.7 1869.9,1450.9 1870.4,1450.8 1870.9,1452.2 1871.3,1450.3 1871.8,1451.7 1872.3,1451.7 1872.7,1451.6 1873.2,1452.3 1873.7,1451.2 1874.1,1451.4 1874.6,1451.9 1875.1,1451.2 1875.5,1450.5 1876.0,1450.9 1876.5,1451.0 1876.9,1451.7 1877.4,1451.4 1877.9,1451.3 1878.4,1450.9 1878.8,1451.7 1879.3,1451.0 1879.8,1450.2 1880.2,1451.0 1880.7,1451.1 1881.2,1450.9 1881.6,1450.5 1882.1,1450.5 1882.6,1449.6 1883.0,1450.7 1883.5,1451.9 1884.0,1449.7 1884.4,1451.7 1884.9,1451.3 1885.4,1451.5 1885.8,1452.3 1886.3,1452.1 1886.8,1452.7 1887.2,1451.0 1887.7,1452.2 1888.2,1451.4 1888.6,1450.9 1889.1,1450.4 1889.6,1451.6 1890.0,1451.7 1890.5,1451.7 1891.0,1450.8 1891.4,1452.4 1891.9,1450.3 1892.4,1450.9 1892.8,1452.0 1893.3,1451.6 1893.8,1451.8 1894.2,1452.1 1894.7,1452.2 1895.2,1451.7 1895.6,1452.1 1896.1,1450.7 1896.6,1451.0 1897.0,1450.5 1897.5,1450.9 1898.0,1451.9 1898.5,1450.8 1898.9,1450.6 1899.4,1451.0 1899.9,1451.1 1900.3,1452.0 1900.8,1451.5 1901.3,1451.6 1901.7,1450.9 1902.2,1451.0 1902.7,1450.7 1903.1,1452.3 1903.6,1451.4 1904.1,1451.7 1904.5,1452.0 1905.0,1451.6 1905.5,1452.5 1905.9,1452.1 1906.4,1452.7 1906.9,1452.7 1907.3,1452.0 1907.8,1452.5 1908.3,1452.1 1908.7,1452.3 1909.2,1452.2 1909.7,1452.3 1910.1,1452.1 1910.6,1451.5 1911.1,1452.0 1911.5,1452.0 1912.0,1451.8 1912.5,1451.4 1912.9,1451.7 1913.4,1451.8 1913.9,1451.8 1914.3,1451.1 1914.8,1451.3 1915.3,1451.7 1915.7,1452.1 1916.2,1451.9 1916.7,1452.9 1917.2,1451.5 1917.6,1452.1 1918.1,1451.5 1918.6,1451.3 1919.0,1451.2 1919.5,1451.3 1920.0,1451.5 1920.4,1450.2 1920.9,1451.0 1921.4,1451.0 1921.8,1451.1 1922.3,1451.2 1922.8,1451.8 1923.2,1452.0 1923.7,1451.9 1924.2,1452.5 1924.6,1452.2 1925.1,1451.7 1925.6,1453.1 1926.0,1453.1 1926.5,1453.5 1927.0,1453.5 1927.4,1452.9 1927.9,1452.7 1928.4,1453.5 1928.8,1453.3 1929.3,1451.4 1929.8,1452.1 1930.2,1452.9 1930.7,1452.1 1931.2,1452.5 1931.6,1452.7 1932.1,1452.8 1932.6,1451.8 1933.0,1452.0 1933.5,1453.0 1934.0,1452.7 1934.4,1451.6 1934.9,1452.1 1935.4,1452.4 1935.8,1452.1 1936.3,1451.5 1936.8,1450.9 1937.3,1450.7 1937.7,1451.1 1938.2,1451.8 1938.7,1451.4 1939.1,1451.6 1939.6,1452.5 1940.1,1451.9 1940.5,1451.6 1941.0,1451.7 1941.5,1452.4 1941.9,1452.3 1942.4,1451.9 1942.9,1451.1 1943.3,1451.8 1943.8,1451.3 1944.3,1452.3 1944.7,1452.1 1945.2,1451.7 1945.7,1452.0 1946.1,1452.7 1946.6,1452.7 1947.1,1452.7 1947.5,1453.2 1948.0,1452.9 1948.5,1453.1 1948.9,1452.2 1949.4,1452.7 1949.9,1453.0 1950.3,1452.1 1950.8,1452.0 1951.3,1452.9 1951.7,1451.8 1952.2,1451.8 1952.7,1452.5 1953.1,1451.1 1953.6,1452.9 1954.1,1453.3 1954.5,1452.0 1955.0,1452.1 1955.5,1452.2 1956.0,1451.6 1956.4,1452.2 1956.9,1452.3 1957.4,1452.2 1957.8,1452.6 1958.3,1452.4 1958.8,1452.6 1959.2,1452.3 1959.7,1452.2 1960.2,1452.7 1960.6,1452.6 1961.1,1452.1 1961.6,1452.5 1962.0,1452.1 1962.5,1452.3 1963.0,1451.8 1963.4,1451.2 1963.9,1451.9 1964.4,1452.6 1964.8,1452.2 1965.3,1453.0 1965.8,1452.8 1966.2,1453.0 1966.7,1452.4 1967.2,1453.3 1967.6,1453.6 1968.1,1453.9 1968.6,1453.2 1969.0,1453.6 1969.5,1453.4 1970.0,1453.0 1970.4,1452.7 1970.9,1453.1 1971.4,1453.6 1971.8,1452.7 1972.3,1452.0 1972.8,1452.2 1973.2,1452.0 1973.7,1451.8 1974.2,1451.9 1974.6,1451.1 1975.1,1452.8 1975.6,1452.0 1976.1,1452.4 1976.5,1452.6 1977.0,1452.6 1977.5,1452.7 1977.9,1452.7 1978.4,1451.6 1978.9,1452.1 1979.3,1452.7 1979.8,1452.2 1980.3,1452.5 1980.7,1452.0 1981.2,1452.2 1981.7,1453.6 1982.1,1452.4 1982.6,1451.7 1983.1,1452.2 1983.5,1451.6 1984.0,1453.4 1984.5,1452.9 1984.9,1452.0 1985.4,1453.3 1985.9,1452.6 1986.3,1452.1 1986.8,1453.3 1987.3,1453.1 1987.7,1453.2 1988.2,1452.9 1988.7,1452.0 1989.1,1452.7 1989.6,1452.1 1990.1,1453.0 1990.5,1452.4 1991.0,1453.1 1991.5,1453.0 1991.9,1453.1 1992.4,1454.1 1992.9,1453.5 1993.3,1454.5 1993.8,1452.6 1994.3,1453.9 1994.7,1452.7 1995.2,1452.9 1995.7,1453.1 1996.2,1453.6 1996.6,1453.3 1997.1,1454.3 1997.6,1453.0 1998.0,1454.3 1998.5,1454.1 1999.0,1454.7 1999.4,1452.8 1999.9,1453.8 2000.4,1453.7 2000.8,1454.2 2001.3,1453.0 2001.8,1452.6 2002.2,1452.5 2002.7,1452.6 2003.2,1452.2 2003.6,1452.5 2004.1,1452.0 2004.6,1453.2 2005.0,1451.3 2005.5,1451.7 2006.0,1452.4 2006.4,1452.6 2006.9,1451.1 2007.4,1452.0 2007.8,1452.9 2008.3,1452.8 2008.8,1453.1 2009.2,1452.6 2009.7,1452.7 2010.2,1453.3 2010.6,1452.9 2011.1,1453.5 2011.6,1453.4 2012.0,1454.7 2012.5,1454.4 2013.0,1454.8 2013.4,1454.6 2013.9,1453.2 2014.4,1454.6 2014.9,1453.5 2015.3,1454.4 2015.8,1454.0 2016.3,1453.7 2016.7,1453.8 2017.2,1453.4 2017.7,1452.5 2018.1,1453.2 2018.6,1453.6 2019.1,1454.9 2019.5,1454.1 2020.0,1454.0 2020.5,1454.2 2020.9,1453.6 2021.4,1454.5 2021.9,1453.0 2022.3,1453.2 2022.8,1454.4 2023.3,1453.4 2023.7,1453.0 2024.2,1454.0 2024.7,1453.4 2025.1,1453.3 2025.6,1453.2 2026.1,1451.7 2026.5,1453.0 2027.0,1453.3 2027.5,1452.7 2027.9,1453.6 2028.4,1453.7 2028.9,1452.4 2029.3,1453.7 2029.8,1453.3 2030.3,1454.5 2030.7,1454.1 2031.2,1454.3 2031.7,1453.9 2032.1,1453.6 2032.6,1454.9 2033.1,1454.1 2033.5,1453.9 2034.0,1453.7 2034.5,1455.0 2035.0,1454.8 2035.4,1454.2 2035.9,1454.7 2036.4,1453.5 2036.8,1454.1 2037.3,1453.1 2037.8,1453.9 2038.2,1452.8 2038.7,1453.0 2039.2,1452.7 2039.6,1452.9 2040.1,1452.1 2040.6,1452.4 2041.0,1452.5 2041.5,1453.2 2042.0,1452.5 2042.4,1452.5 2042.9,1452.2 2043.4,1453.4 2043.8,1452.7 2044.3,1453.6 2044.8,1453.2 2045.2,1453.3 2045.7,1453.5 2046.2,1453.1 2046.6,1453.9 2047.1,1453.4 2047.6,1454.0 2048.0,1454.4 2048.5,1453.5 2049.0,1453.9 2049.4,1453.8 2049.9,1454.5 2050.4,1453.0 2050.8,1453.2 2051.3,1453.1 2051.8,1453.4 2052.2,1453.8 2052.7,1453.0 2053.2,1453.7 2053.7,1452.3 2054.1,1453.3 2054.6,1453.4 2055.1,1453.6 2055.5,1453.5 2056.0,1453.8 2056.5,1453.6 2056.9,1453.6 2057.4,1453.9 2057.9,1452.5 2058.3,1453.1 2058.8,1453.0 2059.3,1453.6 2059.7,1453.2 2060.2,1453.3 2060.7,1452.8 2061.1,1453.1 2061.6,1454.3 2062.1,1452.9 2062.5,1452.9 2063.0,1453.4"/>
<path class="curve" stroke="#f00" d="M310.0,1364.8L310.5,1360.4 310.9,1369.0 311.4,1366.0 311.9,1362.9 312.3,1369.8 312.8,1369.7 313.3,1363.5 313.7,1370.9 314.2,1366.6 314.7,1366.0 315.1,1371.1 315.6,1367.5 316.1,1366.0 316.5,1368.7 317.0,1369.6 317.5,1371.1 317.9,1369.5 318.4,1372.7 318.9,1373.4 319.3,1373.0 319.8,1373.5 320.3,1367.3 320.8,1375.1 321.2,1372.4 321.7,1371.2 322.2,1375.4 322.6,1371.8 323.1,1376.8 323.6,1381.3 324.0,1380.0 324.5,1376.2 325.0,1373.9 325.4,1377.9 325.9,1376.7 326.4,1379.9 326.8,1375.8 327.3,1376.2 327.8,1376.7 328.2,1381.2 328.7,1381.1 329.2,1377.9 329.6,1380.5 330.1,1377.4 330.6,1379.5 331.0,1376.3 331.5,1379.5 332.0,1378.4 332.4,1379.9 332.9,1378.9 333.4,1378.4 333.8,1382.5 334.3,1377.9 334.8,1375.7 335.2,1380.7 335.7,1377.6 336.2,1379.0 336.6,1381.0 337.1,1378.7 337.6,1378.6 338.0,1380.3 338.5,1383.7 339.0,1376.8 339.5,1382.2 339.9,1382.0 340.4,1381.8 340.9,1381.5 341.3,1377.6 341.8,1380.8 342.3,1379.8 342.7,1382.0 343.2,1381.4 343.7,1379.0 344.1,1379.0 344.6,1379.7 345.1,1385.2 345.5,1385.5 346.0,1385.4 346.5,1383.7 346.9,1383.8 347.4,1384.5 347.9,1385.3 348.3,1383.5 348.8,1385.6 349.3,1385.7 349.7,1381.5 350.2,1380.9 350.7,1383.0 351.1,1383.0 351.6,1384.4 352.1,1387.5 352.5,1383.3 353.0,1389.8 353.5,1381.9 353.9,1384.7 354.4,1380.9 354.9,1382.8 355.3,1385.3 355.8,1387.2 356.3,1387.0 356.7,1382.6 357.2,1385.4 357.7,1389.7 358.1,1381.4 358.6,1382.0 359.1,1385.5 359.6,1384.5 360.0,1384.8 360.5,1384.2 361.0,1387.4 361.4,1386.6 361.9,1385.4 362.4,1389.2 362.8,1380.6 363.3,1387.9 363.8,1385.3 364.2,1386.0 364.7,1385.5 365.2,1387.1 365.6,1384.8 366.1,1386.8 366.6,1388.1 367.0,1387.5 367.5,1388.7 368.0,1387.2 368.4,1387.5 368.9,1386.4 369.4,1385.3 369.8,1386.7 370.3,1388.2 370.8,1388.0 371.2,1388.3 371.7,1387.6 372.2,1387.4 372.6,1386.7 373.1,1388.4 373.6,1386.4 374.0,1387.4 374.5,1386.4 375.0,1390.8 375.4,1388.5 375.9,1388.7 376.4,1390.1 376.8,1387.5 377.3,1391.1 377.8,1387.8 378.3,1391.4 378.7,1385.6 379.2,1389.9 379.7,1386.7 380.1,1389.8 380.6,1387.2 381.1,1389.4 381.5,1386.2 382.0,1385.3 382.5,1390.5 382.9,1391.6 383.4,1387.9 383.9,1386.1 384.3,1384.5 384.8,1385.0 385.3,1386.3 385.7,1387.3 386.2,1383.1 386.7,1382.9 387.1,1388.8 387.6,1385.4 388.1,1386.4 388.5,1383.4 389.0,1385.6 389.5,1381.9 389.9,1380.7 390.4,1382.2 390.9,1383.0 391.3,1382.7 391.8,1381.9 392.3,1382.6 392.7,1382.1 393.2,1380.8 393.7,1379.5 394.1,1377.2 394.6,1382.5 395.1,1378.2 395.5,1380.0 396.0,1379.4 396.5,1377.1 396.9,1373.2 397.4,1381.1 397.9,1380.5 398.4,1383.4 398.8,1376.0 399.3,1379.5 399.8,1378.7 400.2,1374.4 400.7,1377.7 401.2,1378.2 401.6,1376.4 402.1,1381.3 402.6,1382.2 403.0,1377.8 403.5,1380.3 404.0,1378.8 404.4,1376.8 404.9,1380.4 405.4,1381.9 405.8,1377.8 406.3,1380.6 406.8,1381.9 407.2,1384.3 407.7,1383.8 408.2,1384.9 408.6,1385.6 409.1,1388.1 409.6,1389.4 410.0,1386.3 410.5,1388.1 411.0,1385.7 411.4,1385.9 411.9,1390.0 412.4,1387.5 412.8,1388.2 413.3,1388.6 413.8,1390.4 414.2,1391.1 414.7,1390.2 415.2,1395.4 415.6,1392.8 416.1,1390.4 416.6,1394.2 417.0,1397.8 417.5,1396.8 418.0,1397.4 418.5,1396.1 418.9,1393.9 419.4,1399.1 419.9,1394.2 420.3,1398.6 420.8,1401.6 421.3,1401.0 421.7,1397.0 422.2,1397.9 422.7,1400.8 423.1,1399.7 423.6,1399.8 424.1,1394.3 424.5,1396.6 425.0,1400.5 425.5,1398.3 425.9,1396.0 426.4,1392.4 426.9,1395.3 427.3,1396.4 427.8,1397.8 428.3,1397.2 428.7,1394.2 429.2,1397.4 429.7,1396.1 430.1,1400.3 430.6,1398.7 431.1,1396.8 431.5,1395.5 432.0,1393.3 432.5,1396.8 432.9,1396.8 433.4,1392.4 433.9,1394.4 434.3,1397.5 434.8,1394.0 435.3,1392.5 435.7,1393.0 436.2,1398.4 436.7,1393.0 437.2,1391.2 437.6,1395.2 438.1,1393.7 438.6,1394.4 439.0,1393.5 439.5,1392.3 440.0,1400.7 440.4,1391.0 440.9,1392.4 441.4,1395.1 441.8,1398.3 442.3,1393.2 442.8,1396.9 443.2,1392.6 443.7,1393.8 444.2,1394.2 444.6,1393.9 445.1,1397.5 445.6,1392.4 446.0,1395.0 446.5,1396.2 447.0,1393.0 447.4,1393.2 447.9,1394.0 448.4,1396.5 448.8,1397.8 449.3,1392.6 449.8,1394.3 450.2,1394.3 450.7,1395.5 451.2,1397.0 451.6,1393.6 452.1,1393.3 452.6,1397.6 453.0,1392.7 453.5,1394.5 454.0,1395.2 454.4,1396.2 454.9,1393.5 455.4,1394.2 455.8,1394.6 456.3,1394.7 456.8,1396.9 457.3,1392.2 457.7,1397.8 458.2,1396.3 458.7,1395.7 459.1,1396.3 459.6,1399.0 460.1,1395.8 460.5,1400.9 461.0,1398.0 461.5,1396.0 461.9,1393.2 462.4,1391.2 462.9,1396.3 463.3,1397.7 463.8,1390.9 464.3,1392.6 464.7,1394.8 465.2,1394.8 465.7,1394.7 466.1,1391.6 466.6,1391.4 467.1,1390.1 467.5,1393.4 468.0,1396.5 468.5,1398.7 468.9,1393.0 469.4,1391.9 469.9,1395.7 470.3,1397.1 470.8,1398.0 471.3,1394.9 471.7,1394.0 472.2,1389.1 472.7,1391.5 473.1,1391.5 473.6,1390.4 474.1,1394.3 474.5,1392.0 475.0,1390.8 475.5,1389.6 476.0,1394.6 476.4,1394.0 476.9,1395.4 477.4,1391.9 477.8,1393.4 478.3,1394.2 478.8,1394.0 479.2,1386.5 479.7,1397.9 480.2,1391.9 480.6,1389.4 481.1,1390.2 481.6,1391.2 482.0,1392.8 482.5,1395.7 483.0,1387.3 483.4,1391.3 483.9,1392.5 484.4,1389.0 484.8,1392.8 485.3,1390.2 485.8,1392.4 486.2,1391.8 486.7,1393.2 487.2,1389.6 487.6,1384.9 488.1,1386.9 488.6,1391.8 489.0,1391.6 489.5,1389.7 490.0,1391.1 490.4,1389.0 490.9,1390.9 491.4,1392.4 491.8,1388.0 492.3,1390.0 492.8,1389.9 493.2,1387.4 493.7,1391.0 494.2,1394.0 494.6,1388.9 495.1,1393.9 495.6,1390.1 496.1,1389.4 496.5,1390.8 497.0,1388.4 497.5,1388.2 497.9,1386.0 498.4,1386.6 498.9,1388.1 499.3,1390.1 499.8,1389.7 500.3,1386.3 500.7,1387.4 501.2,1385.5 501.7,1384.1 502.1,1388.2 502.6,1387.8 503.1,1389.1 503.5,1387.1 504.0,1389.9 504.5,1385.8 504.9,1385.9 505.4,1387.4 505.9,1389.3 506.3,1388.5 506.8,1386.2 507.3,1387.7 507.7,1389.4 508.2,1388.4 508.7,1382.3 509.1,1390.3 509.6,1385.7 510.1,1387.6 510.5,1385.2 511.0,1384.7 511.5,1386.6 511.9,1384.3 512.4,1387.5 512.9,1382.3 513.3,1385.9 513.8,1386.5 514.3,1388.7 514.8,1379.4 515.2,1387.3 515.7,1385.9 516.2,1382.1 516.6,1386.6 517.1,1383.2 517.6,1381.1 518.0,1383.1 518.5,1383.5 519.0,1383.0 519.4,1385.1 519.9,1382.2 520.4,1385.8 520.8,1379.4 521.3,1384.4 521.8,1382.7 522.2,1384.4 522.7,1384.6 523.2,1381.1 523.6,1382.1 524.1,1386.5 524.6,1385.6 525.0,1383.1 525.5,1378.8 526.0,1382.5 526.4,1384.5 526.9,1382.5 527.4,1377.6 527.8,1379.4 528.3,1383.3 528.8,1382.9 529.2,1383.1 529.7,1382.1 530.2,1376.7 530.6,1381.0 531.1,1377.1 531.6,1383.1 532.0,1381.5 532.5,1380.8 533.0,1380.3 533.4,1384.2 533.9,1380.7 534.4,1381.3 534.9,1379.7 535.3,1382.0 535.8,1379.6 536.3,1379.8 536.7,1379.7 537.2,1380.5 537.7,1383.3 538.1,1375.9 538.6,1377.7 539.1,1373.6 539.5,1381.7 540.0,1384.5 540.5,1376.7 540.9,1379.8 541.4,1384.2 541.9,1376.3 542.3,1380.0 542.8,1380.0 543.3,1376.2 543.7,1378.3 544.2,1383.3 544.7,1377.9 545.1,1376.5 545.6,1377.6 546.1,1379.5 546.5,1378.2 547.0,1382.4 547.5,1379.0 547.9,1376.9 548.4,1376.4 548.9,1377.0 549.3,1374.2 549.8,1380.1 550.3,1379.1 550.7,1378.5 551.2,1380.6 551.7,1376.3 552.1,1382.1 552.6,1374.3 553.1,1373.4 553.6,1376.2 554.0,1373.3 554.5,1372.9 555.0,1377.2 555.4,1375.3 555.9,1378.0 556.4,1377.0 556.8,1374.2 557.3,1374.0 557.8,1377.0 558.2,1378.2 558.7,1376.0 559.2,1374.0 559.6,1373.4 560.1,1375.3 560.6,1376.6 561.0,1377.0 561.5,1377.6 562.0,1377.3 562.4,1376.4 562.9,1375.1 563.4,1373.3 563.8,1374.7 564.3,1373.6 564.8,1374.9 565.2,1376.8 565.7,1370.5 566.2,1372.6 566.6,1378.3 567.1,1374.2 567.6,1376.3 568.0,1376.8 568.5,1370.1 569.0,1372.8 569.4,1371.1 569.9,1368.1 570.4,1372.3 570.8,1370.9 571.3,1373.2 571.8,1373.2 572.2,1371.6 572.7,1372.9 573.2,1372.6 573.7,1373.9 574.1,1369.8 574.6,1367.6 575.1,1369.7 575.5,1370.3 576.0,1369.0 576.5,1374.9 576.9,1370.1 577.4,1366.8 577.9,1371.7 578.3,1370.7 578.8,1370.7 579.3,1370.7 579.7,1365.6 580.2,1374.4 580.7,1375.8 581.1,1367.5 581.6,1372.1 582.1,1370.8 582.5,1370.7 583.0,1371.0 583.5,1368.0 583.9,1370.5 584.4,1368.0 584.9,1365.9 585.3,1369.4 585.8,1368.4 586.3,1368.6 586.7,1360.4 587.2,1369.1 587.7,1373.4 588.1,1368.0 588.6,1372.3 589.1,1366.3 589.5,1365.1 590.0,1366.2 590.5,1368.8 590.9,1365.7 591.4,1367.2 591.9,1362.0 592.3,1364.0 592.8,1370.1 593.3,1367.2 593.8,1364.9 594.2,1364.4 594.7,1365.3 595.2,1364.8 595.6,1362.1 596.1,1366.1 596.6,1366.4 597.0,1364.1 597.5,1364.3 598.0,1367.5 598.4,1372.4 598.9,1364.0 599.4,1362.7 599.8,1362.2 600.3,1364.0 600.8,1370.3 601.2,1367.5 601.7,1362.8 602.2,1368.3 602.6,1365.7 603.1,1363.6 603.6,1369.3 604.0,1367.3 604.5,1369.6 605.0,1362.5 605.4,1364.3 605.9,1367.8 606.4,1358.0 606.8,1362.6 607.3,1365.2 607.8,1364.2 608.2,1365.9 608.7,1363.9 609.2,1364.3 609.6,1363.2 610.1,1363.7 610.6,1369.0 611.0,1369.2 611.5,1366.0 612.0,1362.4 612.5,1363.1 612.9,1362.6 613.4,1362.2 613.9,1366.4 614.3,1362.6 614.8,1364.0 615.3,1370.3 615.7,1361.0 616.2,1367.7 616.7,1363.7 617.1,1366.6 617.6,1360.6 618.1,1363.3 618.5,1360.3 619.0,1358.5 619.5,1365.3 619.9,1364.0 620.4,1369.5 620.9,1361.8 621.3,1364.2 621.8,1365.1 622.3,1364.1 622.7,1364.3 623.2,1366.3 623.7,1367.4 624.1,1360.5 624.6,1364.3 625.1,1363.8 625.5,1364.2 626.0,1367.3 626.5,1366.1 626.9,1367.8 627.4,1367.9 627.9,1361.9 628.3,1362.3 628.8,1368.4 629.3,1363.4 629.7,1369.4 630.2,1362.4 630.7,1366.5 631.1,1363.5 631.6,1361.6 632.1,1368.6 632.6,1365.9 633.0,1371.8 633.5,1363.5 634.0,1361.8 634.4,1364.3 634.9,1364.4 635.4,1362.3 635.8,1361.9 636.3,1362.7 636.8,1363.8 637.2,1359.6 637.7,1365.4 638.2,1367.0 638.6,1360.9 639.1,1365.6 639.6,1365.2 640.0,1370.0 640.5,1364.4 641.0,1364.4 641.4,1364.8 641.9,1363.7 642.4,1362.7 642.8,1359.2 643.3,1366.0 643.8,1362.1 644.2,1362.4 644.7,1361.9 645.2,1355.3 645.6,1361.2 646.1,1364.4 646.6,1362.0 647.0,1362.8 647.5,1360.3 648.0,1364.5 648.4,1357.0 648.9,1360.8 649.4,1362.3 649.8,1358.8 650.3,1356.0 650.8,1354.9 651.3,1346.6 651.7,1345.7 652.2,1347.2 652.7,1347.9 653.1,1338.2 653.6,1330.5 654.1,1330.7 654.5,1329.4 655.0,1320.6 655.5,1319.3 655.9,1324.6 656.4,1322.4 656.9,1325.1 657.3,1325.5 657.8,1325.6 658.3,1327.1 658.7,1334.8 659.2,1336.4 659.7,1338.4 660.1,1343.5 660.6,1342.3 661.1,1351.6 661.5,1351.6 662.0,1355.2 662.5,1356.9 662.9,1359.8 663.4,1363.6 663.9,1359.5 664.3,1359.8 664.8,1362.8 665.3,1361.6 665.7,1361.1 666.2,1361.2 666.7,1359.5 667.1,1364.5 667.6,1361.2 668.1,1363.2 668.5,1362.1 669.0,1363.5 669.5,1362.7 669.9,1359.4 670.4,1360.9 670.9,1360.4 671.4,1362.5 671.8,1363.0 672.3,1364.6 672.8,1363.1 673.2,1367.9 673.7,1367.9 674.2,1361.1 674.6,1359.6 675.1,1361.6 675.6,1364.0 676.0,1364.1 676.5,1359.1 677.0,1357.3 677.4,1356.3 677.9,1354.9 678.4,1357.5 678.8,1343.8 679.3,1337.0 679.8,1324.7 680.2,1286.0 680.7,1220.6 681.2,1156.8 681.6,1217.4 682.1,1286.7 682.6,1317.1 683.0,1335.2 683.5,1343.9 684.0,1358.6 684.4,1355.5 684.9,1358.5 685.4,1365.5 685.8,1361.7 686.3,1368.0 686.8,1360.8 687.2,1361.9 687.7,1365.6 688.2,1360.9 688.6,1366.0 689.1,1371.2 689.6,1369.1 690.1,1366.6 690.5,1367.5 691.0,1366.9 691.5,1367.2 691.9,1365.5 692.4,1369.7 692.9,1365.6 693.3,1367.8 693.8,1373.2 694.3,1367.3 694.7,1371.7 695.2,1369.0 695.7,1367.5 696.1,1367.8 696.6,1373.5 697.1,1367.2 697.5,1368.0 698.0,1370.1 698.5,1371.1 698.9,1369.9 699.4,1379.1 699.9,1379.9 700.3,1372.0 700.8,1373.9 701.3,1378.0 701.7,1377.9 702.2,1379.7 702.7,1372.9 703.1,1372.3 703.6,1380.2 704.1,1377.2 704.5,1381.8 705.0,1377.6 705.5,1380.3 705.9,1379.5 706.4,1382.5 706.9,1377.8 707.3,1375.4 707.8,1382.4 708.3,1376.5 708.7,1380.3 709.2,1378.0 709.7,1380.9 710.2,1377.2 710.6,1384.0 711.1,1377.8 711.6,1385.1 712.0,1382.8 712.5,1385.1 713.0,1382.0 713.4,1379.5 713.9,1379.8 714.4,1382.6 714.8,1378.9 715.3,1385.7 715.8,1380.9 716.2,1384.7 716.7,1386.1 717.2,1379.5 717.6,1381.0 718.1,1381.9 718.6,1386.0 719.0,1385.0 719.5,1379.5 720.0,1382.1 720.4,1382.5 720.9,1382.0 721.4,1382.8 721.8,1384.3 722.3,1384.2 722.8,1380.2 723.2,1386.3 723.7,1386.2 724.2,1385.9 724.6,1384.6 725.1,1381.8 725.6,1383.6 726.0,1382.2 726.5,1388.7 727.0,1380.5 727.4,1386.4 727.9,1385.9 728.4,1388.4 728.9,1384.5 729.3,1384.6 729.8,1385.2 730.3,1386.6 730.7,1388.5 731.2,1386.0 731.7,1378.8 732.1,1385.2 732.6,1385.5 733.1,1384.5 733.5,1383.2 734.0,1385.6 734.5,1385.3 734.9,1385.3 735.4,1389.1 735.9,1383.5 736.3,1384.5 736.8,1381.9 737.3,1384.3 737.7,1383.3 738.2,1384.5 738.7,1385.2 739.1,1387.0 739.6,1387.4 740.1,1380.0 740.5,1385.5 741.0,1381.5 741.5,1381.2 741.9,1384.8 742.4,1385.9 742.9,1385.6 743.3,1384.0 743.8,1382.3 744.3,1383.7 744.7,1384.9 745.2,1382.1 745.7,1382.7 746.1,1385.5 746.6,1386.5 747.1,1384.5 747.5,1386.1 748.0,1388.3 748.5,1387.4 749.0,1387.2 749.4,1384.1 749.9,1387.0 750.4,1384.8 750.8,1387.0 751.3,1391.4 751.8,1385.8 752.2,1389.3 752.7,1385.7 753.2,1387.2 753.6,1386.0 754.1,1382.1 754.6,1385.9 755.0,1389.1 755.5,1389.2 756.0,1387.7 756.4,1386.6 756.9,1390.6 757.4,1387.4 757.8,1390.4 758.3,1391.4 758.8,1390.5 759.2,1386.5 759.7,1388.4 760.2,1386.6 760.6,1390.7 761.1,1384.2 761.6,1389.6 762.0,1386.9 762.5,1385.5 763.0,1386.6 763.4,1387.7 763.9,1388.9 764.4,1387.6 764.8,1391.2 765.3,1391.6 765.8,1391.1 766.2,1391.8 766.7,1387.0 767.2,1386.5 767.6,1390.5 768.1,1395.2 768.6,1388.0 769.1,1393.2 769.5,1391.8 770.0,1390.0 770.5,1386.8 770.9,1390.6 771.4,1389.9 771.9,1389.3 772.3,1394.0 772.8,1387.7 773.3,1394.5 773.7,1389.7 774.2,1393.5 774.7,1389.7 775.1,1389.6 775.6,1390.7 776.1,1390.4 776.5,1386.6 777.0,1387.4 777.5,1397.1 777.9,1391.8 778.4,1391.2 778.9,1392.2 779.3,1395.4 779.8,1389.8 780.3,1390.3 780.7,1389.6 781.2,1390.5 781.7,1394.1 782.1,1390.7 782.6,1392.0 783.1,1387.6 783.5,1392.8 784.0,1394.5 784.5,1392.5 784.9,1386.3 785.4,1389.8 785.9,1385.9 786.3,1387.4 786.8,1392.0 787.3,1392.5 787.8,1385.7 788.2,1387.0 788.7,1383.7 789.2,1375.4 789.6,1371.3 790.1,1378.2 790.6,1380.8 791.0,1391.4 791.5,1388.2 792.0,1389.4 792.4,1391.6 792.9,1393.4 793.4,1393.9 793.8,1388.6 794.3,1388.2 794.8,1392.4 795.2,1387.9 795.7,1388.9 796.2,1393.2 796.6,1391.4 797.1,1393.3 797.6,1393.3 798.0,1390.1 798.5,1393.8 799.0,1389.3 799.4,1388.8 799.9,1394.0 800.4,1388.8 800.8,1395.2 801.3,1390.7 801.8,1388.7 802.2,1394.3 802.7,1388.4 803.2,1390.2 803.6,1390.1 804.1,1389.5 804.6,1388.4 805.0,1387.6 805.5,1387.1 806.0,1384.7 806.4,1385.4 806.9,1385.5 807.4,1381.5 807.9,1382.5 808.3,1376.8 808.8,1378.7 809.3,1374.5 809.7,1371.8 810.2,1373.0 810.7,1365.1 811.1,1360.5 811.6,1359.9 812.1,1343.0 812.5,1333.5 813.0,1320.1 813.5,1303.7 813.9,1275.4 814.4,1224.7 814.9,1149.8 815.3,1024.1 815.8,797.5 816.3,454.6 816.7,236.9 817.2,459.5 817.7,795.1 818.1,1010.0 818.6,1151.6 819.1,1228.6 819.5,1269.5 820.0,1305.7 820.5,1321.8 820.9,1335.8 821.4,1348.3 821.9,1357.0 822.3,1362.1 822.8,1368.6 823.3,1370.2 823.7,1372.9 824.2,1379.4 824.7,1379.9 825.1,1381.6 825.6,1380.2 826.1,1386.0 826.6,1386.7 827.0,1387.3 827.5,1388.8 828.0,1385.9 828.4,1388.2 828.9,1392.2 829.4,1394.9 829.8,1388.8 830.3,1391.4 830.8,1390.1 831.2,1387.4 831.7,1392.2 832.2,1392.2 832.6,1397.6 833.1,1391.1 833.6,1395.1 834.0,1387.6 834.5,1392.6 835.0,1386.3 835.4,1375.3 835.9,1381.2 836.4,1385.8 836.8,1388.2 837.3,1390.0 837.8,1397.0 838.2,1393.9 838.7,1395.1 839.2,1395.6 839.6,1391.8 840.1,1392.3 840.6,1394.5 841.0,1391.4 841.5,1394.1 842.0,1394.8 842.4,1398.9 842.9,1392.5 843.4,1396.0 843.8,1398.1 844.3,1396.7 844.8,1393.9 845.2,1398.2 845.7,1399.7 846.2,1396.2 846.7,1401.5 847.1,1400.0 847.6,1394.9 848.1,1398.2 848.5,1395.5 849.0,1394.8 849.5,1396.4 849.9,1398.1 850.4,1396.5 850.9,1397.7 851.3,1401.8 851.8,1394.2 852.3,1396.5 852.7,1397.3 853.2,1401.1 853.7,1392.2 854.1,1394.1 854.6,1398.0 855.1,1394.8 855.5,1394.6 856.0,1393.9 856.5,1393.2 856.9,1395.0 857.4,1396.2 857.9,1394.4 858.3,1395.4 858.8,1399.0 859.3,1400.0 859.7,1401.0 860.2,1402.9 860.7,1406.6 861.1,1401.8 861.6,1403.1 862.1,1398.9 862.5,1403.5 863.0,1401.6 863.5,1403.4 863.9,1404.1 864.4,1404.2 864.9,1402.3 865.4,1401.9 865.8,1401.9 866.3,1404.0 866.8,1403.9 867.2,1402.4 867.7,1405.1 868.2,1402.0 868.6,1404.0 869.1,1404.9 869.6,1404.5 870.0,1404.8 870.5,1404.0 871.0,1404.1 871.4,1407.2 871.9,1405.9 872.4,1405.4 872.8,1409.3 873.3,1406.1 873.8,1406.7 874.2,1409.0 874.7,1409.7 875.2,1406.4 875.6,1404.6 876.1,1406.0 876.6,1407.7 877.0,1406.5 877.5,1405.7 878.0,1403.5 878.4,1407.5 878.9,1409.9 879.4,1402.9 879.8,1407.5 880.3,1405.3 880.8,1409.0 881.2,1403.9 881.7,1406.7 882.2,1409.2 882.6,1406.5 883.1,1405.9 883.6,1406.2 884.0,1407.9 884.5,1406.6 885.0,1404.2 885.5,1410.7 885.9,1407.1 886.4,1406.5 886.9,1407.8 887.3,1407.6 887.8,1407.2 888.3,1409.5 888.7,1410.4 889.2,1407.2 889.7,1410.4 890.1,1403.2 890.6,1406.1 891.1,1409.0 891.5,1407.0 892.0,1405.9 892.5,1409.0 892.9,1406.5 893.4,1409.4 893.9,1406.7 894.3,1410.1 894.8,1411.5 895.3,1408.7 895.7,1405.8 896.2,1409.6 896.7,1411.0 897.1,1410.6 897.6,1412.6 898.1,1414.1 898.5,1411.0 899.0,1414.9 899.5,1413.8 899.9,1413.1 900.4,1411.5 900.9,1412.9 901.3,1411.3 901.8,1413.0 902.3,1414.4 902.7,1412.7 903.2,1416.4 903.7,1412.1 904.2,1414.9 904.6,1415.4 905.1,1416.3 905.6,1416.0 906.0,1415.4 906.5,1410.6 907.0,1413.4 907.4,1412.8 907.9,1413.1 908.4,1415.9 908.8,1414.4 909.3,1412.8 909.8,1412.0 910.2,1413.5 910.7,1414.3 911.2,1413.7 911.6,1410.3 912.1,1416.1 912.6,1411.9 913.0,1413.9 913.5,1413.5 914.0,1412.7 914.4,1413.4 914.9,1412.9 915.4,1413.4 915.8,1413.3 916.3,1414.3 916.8,1416.6 917.2,1413.9 917.7,1414.7 918.2,1414.2 918.6,1413.0 919.1,1417.0 919.6,1415.4 920.0,1413.2 920.5,1418.8 921.0,1412.2 921.4,1414.9 921.9,1413.4 922.4,1413.8 922.8,1412.2 923.3,1413.2 923.8,1414.7 924.3,1413.4 924.7,1416.3 925.2,1415.9 925.7,1417.7 926.1,1416.9 926.6,1414.3 927.1,1416.1 927.5,1416.2 928.0,1414.9 928.5,1413.2 928.9,1416.3 929.4,1413.9 929.9,1414.0 930.3,1414.4 930.8,1415.6 931.3,1410.1 931.7,1414.1 932.2,1415.9 932.7,1415.1 933.1,1414.3 933.6,1413.3 934.1,1413.6 934.5,1410.9 935.0,1416.1 935.5,1416.4 935.9,1417.8 936.4,1417.3 936.9,1412.7 937.3,1417.4 937.8,1417.5 938.3,1417.3 938.7,1420.0 939.2,1417.8 939.7,1419.8 940.1,1416.9 940.6,1419.6 941.1,1417.0 941.5,1419.0 942.0,1417.5 942.5,1419.9 942.9,1418.9 943.4,1419.5 943.9,1419.8 944.4,1423.5 944.8,1420.9 945.3,1420.6 945.8,1423.4 946.2,1420.5 946.7,1421.0 947.2,1423.3 947.6,1422.9 948.1,1424.6 948.6,1423.3 949.0,1419.3 949.5,1421.8 950.0,1423.5 950.4,1424.1 950.9,1422.6 951.4,1422.2 951.8,1423.0 952.3,1421.7 952.8,1423.7 953.2,1423.0 953.7,1422.8 954.2,1422.4 954.6,1423.8 955.1,1420.6 955.6,1425.3 956.0,1423.4 956.5,1426.1 957.0,1427.1 957.4,1425.0 957.9,1425.6 958.4,1424.5 958.8,1422.4 959.3,1425.4 959.8,1426.1 960.2,1425.3 960.7,1428.0 961.2,1426.2 961.6,1424.8 962.1,1425.4 962.6,1425.1 963.1,1426.4 963.5,1425.0 964.0,1424.8 964.5,1430.0 964.9,1427.4 965.4,1424.6 965.9,1427.0 966.3,1424.8 966.8,1425.9 967.3,1427.8 967.7,1426.0 968.2,1425.9 968.7,1430.6 969.1,1428.4 969.6,1425.6 970.1,1425.5 970.5,1426.9 971.0,1427.1 971.5,1428.4 971.9,1426.7 972.4,1427.0 972.9,1427.8 973.3,1429.1 973.8,1428.0 974.3,1427.2 974.7,1428.9 975.2,1426.6 975.7,1430.8 976.1,1426.1 976.6,1427.1 977.1,1429.4 977.5,1427.0 978.0,1426.1 978.5,1429.0 978.9,1427.7 979.4,1426.4 979.9,1428.7 980.3,1429.0 980.8,1427.8 981.3,1426.2 981.7,1427.1 982.2,1427.7 982.7,1424.4 983.2,1426.2 983.6,1423.9 984.1,1430.4 984.6,1430.6 985.0,1426.3 985.5,1429.0 986.0,1427.8 986.4,1428.2 986.9,1427.2 987.4,1427.0 987.8,1426.4 988.3,1425.8 988.8,1425.7 989.2,1425.1 989.7,1428.5 990.2,1426.9 990.6,1428.9 991.1,1427.0 991.6,1422.4 992.0,1423.3 992.5,1426.8 993.0,1425.4 993.4,1425.5 993.9,1427.8 994.4,1425.5 994.8,1425.6 995.3,1424.9 995.8,1424.3 996.2,1423.9 996.7,1424.4 997.2,1421.5 997.6,1419.7 998.1,1421.3 998.6,1422.0 999.0,1418.6 999.5,1418.2 1000.0,1420.1 1000.4,1417.4 1000.9,1416.2 1001.4,1417.0 1001.9,1413.6 1002.3,1412.1 1002.8,1418.4 1003.3,1413.3 1003.7,1408.0 1004.2,1407.5 1004.7,1406.6 1005.1,1406.9 1005.6,1406.6 1006.1,1404.0 1006.5,1404.1 1007.0,1400.6 1007.5,1402.0 1007.9,1401.7 1008.4,1403.7 1008.9,1403.6 1009.3,1402.9 1009.8,1404.3 1010.3,1399.8 1010.7,1406.4 1011.2,1405.6 1011.7,1405.1 1012.1,1401.1 1012.6,1408.5 1013.1,1405.2 1013.5,1410.6 1014.0,1411.0 1014.5,1411.8 1014.9,1410.6 1015.4,1410.5 1015.9,1413.6 1016.3,1416.8 1016.8,1416.4 1017.3,1420.6 1017.7,1419.9 1018.2,1422.3 1018.7,1416.1 1019.1,1421.9 1019.6,1420.3 1020.1,1421.0 1020.5,1419.4 1021.0,1421.2 1021.5,1423.3 1022.0,1424.9 1022.4,1420.8 1022.9,1422.8 1023.4,1423.6 1023.8,1424.3 1024.3,1422.5 1024.8,1425.4 1025.2,1428.1 1025.7,1423.7 1026.2,1424.0 1026.6,1425.2 1027.1,1426.7 1027.6,1427.0 1028.0,1423.7 1028.5,1425.6 1029.0,1427.5 1029.4,1426.3 1029.9,1425.3 1030.4,1424.8 1030.8,1426.4 1031.3,1426.1 1031.8,1425.3 1032.2,1425.6 1032.7,1428.0 1033.2,1424.3 1033.6,1422.1 1034.1,1426.3 1034.6,1428.1 1035.0,1427.3 1035.5,1425.9 1036.0,1427.6 1036.4,1424.7 1036.9,1425.2 1037.4,1424.9 1037.8,1425.9 1038.3,1423.5 1038.8,1426.5 1039.2,1428.5 1039.7,1427.2 1040.2,1425.8 1040.7,1422.3 1041.1,1421.4 1041.6,1423.2 1042.1,1425.7 1042.5,1423.1 1043.0,1424.5 1043.5,1418.2 1043.9,1418.2 1044.4,1412.3 1044.9,1408.5 1045.3,1401.5 1045.8,1394.5 1046.3,1375.3 1046.7,1369.2 1047.2,1363.2 1047.7,1365.7 1048.1,1380.4 1048.6,1389.2 1049.1,1400.4 1049.5,1408.0 1050.0,1411.1 1050.5,1417.2 1050.9,1419.0 1051.4,1420.7 1051.9,1421.0 1052.3,1423.0 1052.8,1424.3 1053.3,1424.4 1053.7,1425.2 1054.2,1424.1 1054.7,1425.7 1055.1,1426.2 1055.6,1427.0 1056.1,1426.0 1056.5,1426.5 1057.0,1428.2 1057.5,1425.6 1057.9,1425.3 1058.4,1425.4 1058.9,1425.0 1059.3,1426.2 1059.8,1430.0 1060.3,1426.6 1060.8,1424.7 1061.2,1431.1 1061.7,1428.8 1062.2,1426.9 1062.6,1428.3 1063.1,1425.5 1063.6,1428.3 1064.0,1424.1 1064.5,1426.3 1065.0,1426.4 1065.4,1426.7 1065.9,1427.2 1066.4,1424.0 1066.8,1425.2 1067.3,1422.0 1067.8,1423.7 1068.2,1425.4 1068.7,1419.0 1069.2,1422.0 1069.6,1423.0 1070.1,1419.0 1070.6,1419.5 1071.0,1419.9 1071.5,1416.0 1072.0,1418.5 1072.4,1416.1 1072.9,1417.9 1073.4,1418.1 1073.8,1421.4 1074.3,1420.2 1074.8,1419.2 1075.2,1418.6 1075.7,1424.3 1076.2,1423.9 1076.6,1425.9 1077.1,1427.8 1077.6,1425.3 1078.0,1428.1 1078.5,1426.5 1079.0,1427.2 1079.5,1427.2 1079.9,1427.5 1080.4,1424.3 1080.9,1427.6 1081.3,1424.6 1081.8,1428.5 1082.3,1431.1 1082.7,1427.4 1083.2,1430.4 1083.7,1429.0 1084.1,1428.5 1084.6,1429.8 1085.1,1428.4 1085.5,1428.5 1086.0,1430.5 1086.5,1430.0 1086.9,1430.8 1087.4,1430.9 1087.9,1428.8 1088.3,1432.0 1088.8,1429.3 1089.3,1429.1 1089.7,1428.2 1090.2,1431.9 1090.7,1431.9 1091.1,1431.6 1091.6,1432.6 1092.1,1430.8 1092.5,1428.6 1093.0,1432.5 1093.5,1431.2 1093.9,1432.5 1094.4,1432.1 1094.9,1432.8 1095.3,1434.4 1095.8,1430.4 1096.3,1433.6 1096.7,1430.7 1097.2,1432.9 1097.7,1433.7 1098.1,1432.4 1098.6,1431.6 1099.1,1432.6 1099.6,1433.7 1100.0,1432.6 1100.5,1433.0 1101.0,1430.2 1101.4,1431.7 1101.9,1433.1 1102.4,1431.1 1102.8,1431.6 1103.3,1431.3 1103.8,1432.0 1104.2,1429.5 1104.7,1429.9 1105.2,1431.9 1105.6,1432.1 1106.1,1433.7 1106.6,1434.4 1107.0,1430.9 1107.5,1427.4 1108.0,1430.6 1108.4,1427.9 1108.9,1427.7 1109.4,1430.6 1109.8,1428.9 1110.3,1425.2 1110.8,1423.2 1111.2,1423.2 1111.7,1416.1 1112.2,1412.6 1112.6,1409.3 1113.1,1402.2 1113.6,1391.1 1114.0,1386.3 1114.5,1383.3 1115.0,1378.3 1115.4,1379.0 1115.9,1383.2 1116.4,1388.9 1116.8,1398.7 1117.3,1405.6 1117.8,1407.9 1118.2,1416.6 1118.7,1420.8 1119.2,1422.7 1119.7,1421.4 1120.1,1426.8 1120.6,1429.8 1121.1,1428.8 1121.5,1426.7 1122.0,1429.5 1122.5,1429.4 1122.9,1428.8 1123.4,1425.8 1123.9,1429.3 1124.3,1427.6 1124.8,1427.3 1125.3,1429.4 1125.7,1426.7 1126.2,1428.6 1126.7,1427.5 1127.1,1429.1 1127.6,1429.1 1128.1,1428.3 1128.5,1429.3 1129.0,1427.0 1129.5,1430.3 1129.9,1426.4 1130.4,1427.1 1130.9,1424.9 1131.3,1418.3 1131.8,1420.5 1132.3,1416.3 1132.7,1414.4 1133.2,1405.5 1133.7,1406.1 1134.1,1398.9 1134.6,1399.0 1135.1,1399.4 1135.5,1403.0 1136.0,1405.5 1136.5,1411.3 1136.9,1416.7 1137.4,1422.1 1137.9,1422.4 1138.4,1424.3 1138.8,1420.9 1139.3,1422.5 1139.8,1425.8 1140.2,1422.0 1140.7,1419.1 1141.2,1420.7 1141.6,1420.0 1142.1,1415.1 1142.6,1408.3 1143.0,1404.5 1143.5,1400.5 1144.0,1398.1 1144.4,1395.8 1144.9,1390.8 1145.4,1396.0 1145.8,1394.6 1146.3,1398.5 1146.8,1404.2 1147.2,1412.8 1147.7,1412.8 1148.2,1417.8 1148.6,1420.3 1149.1,1426.1 1149.6,1423.8 1150.0,1424.8 1150.5,1426.2 1151.0,1427.2 1151.4,1428.5 1151.9,1428.3 1152.4,1425.1 1152.8,1427.2 1153.3,1430.5 1153.8,1428.9 1154.2,1429.2 1154.7,1429.0 1155.2,1429.2 1155.6,1430.7 1156.1,1428.7 1156.6,1429.7 1157.0,1429.8 1157.5,1429.7 1158.0,1430.4 1158.5,1433.0 1158.9,1431.9 1159.4,1428.8 1159.9,1427.7 1160.3,1429.1 1160.8,1433.0 1161.3,1429.9 1161.7,1433.1 1162.2,1430.1 1162.7,1431.7 1163.1,1430.9 1163.6,1429.5 1164.1,1428.5 1164.5,1430.4 1165.0,1429.4 1165.5,1430.3 1165.9,1428.2 1166.4,1429.6 1166.9,1431.7 1167.3,1431.3 1167.8,1428.6 1168.3,1428.9 1168.7,1429.5 1169.2,1427.5 1169.7,1431.9 1170.1,1432.1 1170.6,1428.5 1171.1,1428.0 1171.5,1428.8 1172.0,1431.0 1172.5,1432.0 1172.9,1429.2 1173.4,1428.4 1173.9,1428.2 1174.3,1430.6 1174.8,1429.1 1175.3,1430.0 1175.7,1430.2 1176.2,1430.6 1176.7,1430.2 1177.2,1430.9 1177.6,1429.4 1178.1,1431.3 1178.6,1429.4 1179.0,1428.1 1179.5,1428.2 1180.0,1428.0 1180.4,1429.5 1180.9,1426.5 1181.4,1427.8 1181.8,1427.2 1182.3,1423.5 1182.8,1420.7 1183.2,1416.3 1183.7,1412.8 1184.2,1409.5 1184.6,1399.2 1185.1,1389.8 1185.6,1391.9 1186.0,1394.4 1186.5,1399.2 1187.0,1408.5 1187.4,1412.9 1187.9,1417.5 1188.4,1426.1 1188.8,1426.3 1189.3,1430.4 1189.8,1430.2 1190.2,1432.1 1190.7,1432.2 1191.2,1434.1 1191.6,1430.2 1192.1,1432.8 1192.6,1433.3 1193.0,1434.6 1193.5,1434.1 1194.0,1434.6 1194.4,1433.0 1194.9,1434.6 1195.4,1434.6 1195.8,1435.1 1196.3,1433.4 1196.8,1433.9 1197.3,1435.8 1197.7,1438.7 1198.2,1434.7 1198.7,1435.2 1199.1,1433.7 1199.6,1435.4 1200.1,1434.9 1200.5,1436.0 1201.0,1436.8 1201.5,1437.2 1201.9,1435.5 1202.4,1434.1 1202.9,1434.6 1203.3,1434.8 1203.8,1435.5 1204.3,1435.4 1204.7,1435.4 1205.2,1433.1 1205.7,1437.7 1206.1,1433.7 1206.6,1434.4 1207.1,1432.1 1207.5,1433.5 1208.0,1434.6 1208.5,1432.5 1208.9,1434.5 1209.4,1433.2 1209.9,1435.5 1210.3,1433.2 1210.8,1433.6 1211.3,1435.4 1211.7,1435.3 1212.2,1433.9 1212.7,1433.8 1213.1,1437.0 1213.6,1433.7 1214.1,1435.9 1214.5,1434.8 1215.0,1435.8 1215.5,1432.2 1216.0,1435.3 1216.4,1436.0 1216.9,1434.3 1217.4,1437.0 1217.8,1435.3 1218.3,1436.5 1218.8,1436.1 1219.2,1436.9 1219.7,1437.3 1220.2,1437.5 1220.6,1434.7 1221.1,1437.3 1221.6,1437.5 1222.0,1439.1 1222.5,1436.9 1223.0,1435.5 1223.4,1437.5 1223.9,1436.1 1224.4,1436.2 1224.8,1435.1 1225.3,1438.3 1225.8,1434.6 1226.2,1438.9 1226.7,1435.5 1227.2,1436.2 1227.6,1436.1 1228.1,1436.4 1228.6,1435.2 1229.0,1437.0 1229.5,1436.7 1230.0,1435.4 1230.4,1436.0 1230.9,1436.4 1231.4,1436.5 1231.8,1435.4 1232.3,1436.2 1232.8,1435.6 1233.2,1438.4 1233.7,1437.6 1234.2,1435.8 1234.6,1437.8 1235.1,1434.7 1235.6,1435.4 1236.1,1434.8 1236.5,1435.7 1237.0,1436.9 1237.5,1435.4 1237.9,1435.4 1238.4,1433.7 1238.9,1431.6 1239.3,1436.2 1239.8,1437.6 1240.3,1436.2 1240.7,1435.7 1241.2,1437.4 1241.7,1438.2 1242.1,1436.9 1242.6,1436.4 1243.1,1435.4 1243.5,1435.0 1244.0,1436.6 1244.5,1434.1 1244.9,1437.6 1245.4,1435.0 1245.9,1439.3 1246.3,1439.0 1246.8,1436.7 1247.3,1433.6 1247.7,1437.2 1248.2,1435.1 1248.7,1436.3 1249.1,1435.2 1249.6,1436.7 1250.1,1438.2 1250.5,1435.4 1251.0,1436.3 1251.5,1438.4 1251.9,1434.7 1252.4,1435.2 1252.9,1437.3 1253.3,1435.6 1253.8,1435.7 1254.3,1436.9 1254.8,1436.6 1255.2,1435.4 1255.7,1437.2 1256.2,1435.7 1256.6,1434.4 1257.1,1436.8 1257.6,1435.3 1258.0,1436.1 1258.5,1438.2 1259.0,1438.7 1259.4,1438.9 1259.9,1434.4 1260.4,1432.1 1260.8,1433.4 1261.3,1429.8 1261.8,1428.9 1262.2,1425.5 1262.7,1423.8 1263.2,1416.1 1263.6,1416.0 1264.1,1411.6 1264.6,1417.6 1265.0,1419.1 1265.5,1426.3 1266.0,1427.4 1266.4,1429.4 1266.9,1434.8 1267.4,1435.5 1267.8,1438.3 1268.3,1436.2 1268.8,1436.6 1269.2,1438.6 1269.7,1437.0 1270.2,1438.1 1270.6,1435.8 1271.1,1439.9 1271.6,1438.8 1272.0,1441.0 1272.5,1438.1 1273.0,1440.0 1273.4,1440.9 1273.9,1438.6 1274.4,1439.1 1274.9,1438.8 1275.3,1440.5 1275.8,1438.5 1276.3,1439.3 1276.7,1442.2 1277.2,1439.5 1277.7,1439.7 1278.1,1440.4 1278.6,1440.0 1279.1,1443.4 1279.5,1443.4 1280.0,1440.4 1280.5,1440.8 1280.9,1440.1 1281.4,1440.9 1281.9,1439.8 1282.3,1441.1 1282.8,1440.4 1283.3,1442.2 1283.7,1440.0 1284.2,1441.9 1284.7,1439.4 1285.1,1440.2 1285.6,1442.4 1286.1,1441.3 1286.5,1443.4 1287.0,1438.5 1287.5,1440.5 1287.9,1441.6 1288.4,1438.4 1288.9,1440.4 1289.3,1438.3 1289.8,1439.7 1290.3,1440.2 1290.7,1439.2 1291.2,1441.9 1291.7,1440.7 1292.1,1441.2 1292.6,1441.3 1293.1,1442.3 1293.5,1440.4 1294.0,1441.7 1294.5,1438.3 1295.0,1441.0 1295.4,1440.7 1295.9,1440.3 1296.4,1440.9 1296.8,1443.1 1297.3,1441.8 1297.8,1438.8 1298.2,1440.4 1298.7,1438.5 1299.2,1439.3 1299.6,1439.7 1300.1,1441.5 1300.6,1440.6 1301.0,1440.3 1301.5,1441.0 1302.0,1439.9 1302.4,1441.4 1302.9,1440.9 1303.4,1443.8 1303.8,1441.7 1304.3,1441.7 1304.8,1440.0 1305.2,1441.1 1305.7,1440.2 1306.2,1442.8 1306.6,1440.5 1307.1,1441.0 1307.6,1441.5 1308.0,1442.0 1308.5,1442.5 1309.0,1440.9 1309.4,1442.3 1309.9,1443.8 1310.4,1442.5 1310.8,1441.6 1311.3,1443.0 1311.8,1442.3 1312.2,1443.4 1312.7,1442.5 1313.2,1443.1 1313.7,1443.3 1314.1,1444.3 1314.6,1443.4 1315.1,1446.9 1315.5,1442.8 1316.0,1444.6 1316.5,1443.6 1316.9,1444.4 1317.4,1444.2 1317.9,1446.0 1318.3,1444.2 1318.8,1444.0 1319.3,1444.7 1319.7,1445.3 1320.2,1445.3 1320.7,1444.1 1321.1,1444.4 1321.6,1445.7 1322.1,1444.5 1322.5,1444.2 1323.0,1446.3 1323.5,1445.6 1323.9,1445.2 1324.4,1445.0 1324.9,1446.4 1325.3,1446.1 1325.8,1445.6 1326.3,1442.5 1326.7,1444.4 1327.2,1444.5 1327.7,1442.0 1328.1,1443.6 1328.6,1447.0 1329.1,1444.2 1329.5,1445.8 1330.0,1443.5 1330.5,1444.4 1330.9,1442.3 1331.4,1444.3 1331.9,1446.1 1332.3,1443.5 1332.8,1445.1 1333.3,1445.0 1333.8,1444.0 1334.2,1445.3 1334.7,1443.3 1335.2,1444.7 1335.6,1444.6 1336.1,1443.0 1336.6,1442.8 1337.0,1443.9 1337.5,1442.8 1338.0,1444.5 1338.4,1443.7 1338.9,1444.9 1339.4,1445.8 1339.8,1447.5 1340.3,1446.4 1340.8,1444.1 1341.2,1445.1 1341.7,1445.1 1342.2,1445.5 1342.6,1444.0 1343.1,1444.8 1343.6,1445.2 1344.0,1443.4 1344.5,1445.1 1345.0,1446.6 1345.4,1446.1 1345.9,1447.0 1346.4,1442.8 1346.8,1444.2 1347.3,1443.5 1347.8,1445.7 1348.2,1444.0 1348.7,1444.8 1349.2,1446.8 1349.6,1445.7 1350.1,1445.5 1350.6,1445.8 1351.0,1445.5 1351.5,1447.3 1352.0,1444.6 1352.5,1445.9 1352.9,1446.4 1353.4,1445.8 1353.9,1445.7 1354.3,1445.5 1354.8,1445.8 1355.3,1444.8 1355.7,1444.9 1356.2,1442.5 1356.7,1444.5 1357.1,1445.1 1357.6,1445.5 1358.1,1444.6 1358.5,1446.4 1359.0,1443.2 1359.5,1442.4 1359.9,1439.9 1360.4,1442.2 1360.9,1442.4 1361.3,1439.9 1361.8,1437.8 1362.3,1440.9 1362.7,1438.4 1363.2,1439.8 1363.7,1438.1 1364.1,1434.8 1364.6,1440.8 1365.1,1436.1 1365.5,1437.4 1366.0,1437.7 1366.5,1437.2 1366.9,1436.9 1367.4,1439.6 1367.9,1441.7 1368.3,1441.2 1368.8,1439.8 1369.3,1440.6 1369.7,1440.6 1370.2,1443.1 1370.7,1444.0 1371.1,1444.7 1371.6,1446.0 1372.1,1444.8 1372.6,1446.1 1373.0,1443.1 1373.5,1443.9 1374.0,1445.7 1374.4,1444.3 1374.9,1446.0 1375.4,1446.4 1375.8,1444.9 1376.3,1446.3 1376.8,1446.9 1377.2,1446.8 1377.7,1448.6 1378.2,1445.5 1378.6,1445.7 1379.1,1446.2 1379.6,1447.0 1380.0,1446.5 1380.5,1447.7 1381.0,1447.1 1381.4,1446.5 1381.9,1445.9 1382.4,1446.1 1382.8,1447.1 1383.3,1447.4 1383.8,1446.4 1384.2,1447.7 1384.7,1448.4 1385.2,1446.8 1385.6,1445.6 1386.1,1447.2 1386.6,1446.5 1387.0,1447.0 1387.5,1447.3 1388.0,1444.7 1388.4,1446.7 1388.9,1446.2 1389.4,1447.6 1389.8,1447.5 1390.3,1446.6 1390.8,1448.1 1391.3,1448.9 1391.7,1447.2 1392.2,1445.4 1392.7,1445.5 1393.1,1446.5 1393.6,1448.8 1394.1,1448.3 1394.5,1449.7 1395.0,1447.6 1395.5,1446.8 1395.9,1446.8 1396.4,1447.2 1396.9,1448.3 1397.3,1447.5 1397.8,1447.9 1398.3,1447.0 1398.7,1447.7 1399.2,1447.4 1399.7,1448.9 1400.1,1448.1 1400.6,1448.4 1401.1,1448.8 1401.5,1446.2 1402.0,1449.7 1402.5,1448.6 1402.9,1448.0 1403.4,1447.7 1403.9,1448.2 1404.3,1448.0 1404.8,1448.4 1405.3,1446.5 1405.7,1448.7 1406.2,1448.3 1406.7,1446.9 1407.1,1449.1 1407.6,1448.0 1408.1,1445.5 1408.5,1450.2 1409.0,1447.7 1409.5,1449.3 1409.9,1448.4 1410.4,1450.0 1410.9,1447.6 1411.4,1449.2 1411.8,1448.2 1412.3,1448.5 1412.8,1450.8 1413.2,1449.0 1413.7,1449.6 1414.2,1449.9 1414.6,1447.6 1415.1,1449.1 1415.6,1448.7 1416.0,1449.4 1416.5,1448.3 1417.0,1450.3 1417.4,1451.9 1417.9,1448.8 1418.4,1448.6 1418.8,1449.0 1419.3,1450.6 1419.8,1447.8 1420.2,1448.3 1420.7,1449.5 1421.2,1450.4 1421.6,1449.2 1422.1,1449.7 1422.6,1450.7 1423.0,1448.0 1423.5,1448.4 1424.0,1449.4 1424.4,1451.3 1424.9,1449.0 1425.4,1449.9 1425.8,1449.3 1426.3,1448.4 1426.8,1448.8 1427.2,1449.7 1427.7,1450.5 1428.2,1447.6 1428.6,1448.8 1429.1,1450.6 1429.6,1451.4 1430.1,1448.9 1430.5,1450.1 1431.0,1448.9 1431.5,1449.4 1431.9,1449.4 1432.4,1449.7 1432.9,1450.2 1433.3,1447.8 1433.8,1451.4 1434.3,1450.6 1434.7,1447.3 1435.2,1448.6 1435.7,1451.1 1436.1,1449.9 1436.6,1451.9 1437.1,1449.2 1437.5,1450.8 1438.0,1449.4 1438.5,1449.4 1438.9,1448.8 1439.4,1450.8 1439.9,1449.8 1440.3,1447.5 1440.8,1448.1 1441.3,1449.0 1441.7,1449.5 1442.2,1449.1 1442.7,1449.6 1443.1,1448.3 1443.6,1448.3 1444.1,1446.9 1444.5,1448.6 1445.0,1450.5 1445.5,1447.6 1445.9,1445.7 1446.4,1446.4 1446.9,1446.4 1447.3,1446.4 1447.8,1445.3 1448.3,1446.7 1448.7,1445.0 1449.2,1443.2 1449.7,1443.8 1450.2,1444.3 1450.6,1444.4 1451.1,1447.8 1451.6,1445.7 1452.0,1445.6 1452.5,1446.9 1453.0,1447.3 1453.4,1448.5 1453.9,1448.8 1454.4,1446.2 1454.8,1447.4 1455.3,1449.9 1455.8,1449.6 1456.2,1450.0 1456.7,1448.8 1457.2,1449.8 1457.6,1448.2 1458.1,1450.0 1458.6,1450.4 1459.0,1449.1 1459.5,1449.6 1460.0,1448.6 1460.4,1449.6 1460.9,1448.2 1461.4,1448.6 1461.8,1449.3 1462.3,1449.3 1462.8,1446.0 1463.2,1448.4 1463.7,1448.3 1464.2,1450.4 1464.6,1448.5 1465.1,1448.2 1465.6,1449.5 1466.0,1449.5 1466.5,1449.1 1467.0,1449.1 1467.4,1448.7 1467.9,1447.4 1468.4,1448.3 1468.8,1448.1 1469.3,1448.8 1469.8,1448.6 1470.3,1448.6 1470.7,1449.5 1471.2,1448.1 1471.7,1447.5 1472.1,1445.8 1472.6,1444.2 1473.1,1440.7 1473.5,1437.6 1474.0,1434.0 1474.5,1430.5 1474.9,1421.9 1475.4,1418.5 1475.9,1423.0 1476.3,1427.4 1476.8,1435.3 1477.3,1439.2 1477.7,1442.0 1478.2,1444.2 1478.7,1444.3 1479.1,1446.8 1479.6,1445.8 1480.1,1445.5 1480.5,1445.2 1481.0,1443.0 1481.5,1445.3 1481.9,1445.4 1482.4,1443.3 1482.9,1443.5 1483.3,1440.1 1483.8,1441.6 1484.3,1439.8 1484.7,1437.4 1485.2,1437.6 1485.7,1437.7 1486.1,1436.3 1486.6,1436.6 1487.1,1438.2 1487.5,1437.8 1488.0,1438.0 1488.5,1437.8 1489.0,1437.9 1489.4,1442.1 1489.9,1441.3 1490.4,1442.5 1490.8,1442.1 1491.3,1445.1 1491.8,1444.2 1492.2,1446.0 1492.7,1448.3 1493.2,1446.9 1493.6,1447.8 1494.1,1447.3 1494.6,1448.2 1495.0,1449.5 1495.5,1447.0 1496.0,1448.9 1496.4,1448.5 1496.9,1449.5 1497.4,1447.9 1497.8,1448.8 1498.3,1447.8 1498.8,1446.9 1499.2,1449.2 1499.7,1449.0 1500.2,1447.7 1500.6,1449.2 1501.1,1448.3 1501.6,1449.7 1502.0,1450.2 1502.5,1447.8 1503.0,1448.1 1503.4,1449.2 1503.9,1448.7 1504.4,1447.4 1504.8,1449.7 1505.3,1449.2 1505.8,1448.1 1506.2,1448.5 1506.7,1449.9 1507.2,1451.1 1507.6,1447.5 1508.1,1447.9 1508.6,1448.4 1509.1,1448.1 1509.5,1448.2 1510.0,1448.1 1510.5,1448.6 1510.9,1450.2 1511.4,1449.6 1511.9,1450.3 1512.3,1449.1 1512.8,1450.0 1513.3,1448.6 1513.7,1448.0 1514.2,1450.5 1514.7,1451.5 1515.1,1450.2 1515.6,1449.4 1516.1,1449.2 1516.5,1449.5 1517.0,1449.1 1517.5,1450.4 1517.9,1448.3 1518.4,1450.9 1518.9,1449.9 1519.3,1450.4 1519.8,1450.5 1520.3,1452.2 1520.7,1449.4 1521.2,1449.5 1521.7,1449.9 1522.1,1450.3 1522.6,1451.1 1523.1,1449.6 1523.5,1450.1 1524.0,1452.6 1524.5,1448.7 1524.9,1450.8 1525.4,1449.4 1525.9,1451.5 1526.3,1452.4 1526.8,1450.7 1527.3,1451.7 1527.8,1449.9 1528.2,1449.7 1528.7,1452.4 1529.2,1450.4 1529.6,1451.4 1530.1,1450.3 1530.6,1451.5 1531.0,1449.7 1531.5,1451.0 1532.0,1451.0 1532.4,1451.9 1532.9,1450.3 1533.4,1450.4 1533.8,1450.0 1534.3,1450.7 1534.8,1450.1 1535.2,1450.6 1535.7,1449.5 1536.2,1449.7 1536.6,1450.9 1537.1,1450.6 1537.6,1449.9 1538.0,1450.2 1538.5,1450.0 1539.0,1451.3 1539.4,1449.5 1539.9,1453.4 1540.4,1450.2 1540.8,1449.2 1541.3,1451.4 1541.8,1451.0 1542.2,1451.0 1542.7,1450.7 1543.2,1451.7 1543.6,1450.4 1544.1,1451.0 1544.6,1451.8 1545.0,1450.3 1545.5,1450.2 1546.0,1452.9 1546.4,1451.1 1546.9,1452.2 1547.4,1450.6 1547.9,1451.3 1548.3,1452.1 1548.8,1450.4 1549.3,1452.5 1549.7,1451.5 1550.2,1451.0 1550.7,1453.5 1551.1,1453.1 1551.6,1452.5 1552.1,1453.1 1552.5,1452.9 1553.0,1454.4 1553.5,1454.7 1553.9,1452.9 1554.4,1452.7 1554.9,1451.3 1555.3,1451.2 1555.8,1452.4 1556.3,1452.5 1556.7,1451.3 1557.2,1452.1 1557.7,1451.8 1558.1,1451.1 1558.6,1451.8 1559.1,1449.6 1559.5,1450.4 1560.0,1449.5 1560.5,1448.5 1560.9,1448.0 1561.4,1448.9 1561.9,1447.3 1562.3,1445.3 1562.8,1447.3 1563.3,1446.6 1563.7,1445.1 1564.2,1444.8 1564.7,1447.7 1565.1,1448.1 1565.6,1446.6 1566.1,1446.9 1566.6,1446.8 1567.0,1449.6 1567.5,1447.4 1568.0,1449.9 1568.4,1450.7 1568.9,1450.5 1569.4,1452.2 1569.8,1453.0 1570.3,1450.0 1570.8,1452.7 1571.2,1451.9 1571.7,1453.2 1572.2,1452.2 1572.6,1453.1 1573.1,1452.4 1573.6,1452.4 1574.0,1452.5 1574.5,1452.7 1575.0,1454.7 1575.4,1453.6 1575.9,1454.5 1576.4,1454.1 1576.8,1452.7 1577.3,1455.0 1577.8,1451.2 1578.2,1452.8 1578.7,1453.5 1579.2,1452.9 1579.6,1453.7 1580.1,1452.3 1580.6,1452.7 1581.0,1453.3 1581.5,1451.8 1582.0,1453.8 1582.4,1452.9 1582.9,1452.3 1583.4,1452.1 1583.8,1452.3 1584.3,1452.9 1584.8,1451.2 1585.2,1453.4 1585.7,1452.2 1586.2,1453.2 1586.7,1452.9 1587.1,1452.6 1587.6,1451.7 1588.1,1451.5 1588.5,1450.6 1589.0,1450.8 1589.5,1450.4 1589.9,1450.2 1590.4,1449.7 1590.9,1447.7 1591.3,1446.1 1591.8,1439.3 1592.3,1429.0 1592.7,1419.8 1593.2,1411.5 1593.7,1405.1 1594.1,1406.9 1594.6,1422.6 1595.1,1429.3 1595.5,1435.0 1596.0,1436.1 1596.5,1432.5 1596.9,1429.9 1597.4,1430.9 1597.9,1431.6 1598.3,1438.4 1598.8,1442.8 1599.3,1445.6 1599.7,1450.5 1600.2,1450.5 1600.7,1449.9 1601.1,1452.0 1601.6,1451.7 1602.1,1450.2 1602.5,1452.7 1603.0,1453.2 1603.5,1451.1 1603.9,1451.8 1604.4,1451.5 1604.9,1452.4 1605.4,1453.6 1605.8,1454.0 1606.3,1453.2 1606.8,1452.6 1607.2,1450.0 1607.7,1451.3 1608.2,1452.2 1608.6,1452.3 1609.1,1450.2 1609.6,1452.3 1610.0,1453.1 1610.5,1449.9 1611.0,1451.2 1611.4,1450.4 1611.9,1452.6 1612.4,1452.9 1612.8,1453.2 1613.3,1450.8 1613.8,1450.5 1614.2,1449.8 1614.7,1452.2 1615.2,1451.1 1615.6,1452.3 1616.1,1452.8 1616.6,1451.3 1617.0,1451.2 1617.5,1452.5 1618.0,1452.0 1618.4,1451.5 1618.9,1450.0 1619.4,1451.9 1619.8,1451.1 1620.3,1451.0 1620.8,1451.2 1621.2,1450.1 1621.7,1451.0 1622.2,1450.0 1622.6,1452.6 1623.1,1450.9 1623.6,1451.2 1624.0,1450.5 1624.5,1451.4 1625.0,1450.3 1625.5,1449.3 1625.9,1448.8 1626.4,1448.0 1626.9,1448.9 1627.3,1449.5 1627.8,1448.1 1628.3,1449.5 1628.7,1448.4 1629.2,1447.9 1629.7,1447.6 1630.1,1447.3 1630.6,1447.3 1631.1,1446.3 1631.5,1448.0 1632.0,1444.4 1632.5,1445.9 1632.9,1445.4 1633.4,1445.7 1633.9,1444.3 1634.3,1444.0 1634.8,1443.5 1635.3,1443.9 1635.7,1444.6 1636.2,1444.3 1636.7,1442.6 1637.1,1443.4 1637.6,1444.7 1638.1,1444.1 1638.5,1444.0 1639.0,1444.5 1639.5,1445.3 1639.9,1445.2 1640.4,1446.0 1640.9,1445.8 1641.3,1444.2 1641.8,1447.3 1642.3,1445.5 1642.7,1445.8 1643.2,1448.4 1643.7,1447.6 1644.1,1447.7 1644.6,1449.2 1645.1,1449.2 1645.6,1450.7 1646.0,1448.5 1646.5,1448.2 1647.0,1450.7 1647.4,1449.8 1647.9,1451.1 1648.4,1450.6 1648.8,1452.1 1649.3,1450.6 1649.8,1452.9 1650.2,1451.4 1650.7,1450.7 1651.2,1449.4 1651.6,1452.6 1652.1,1452.2 1652.6,1450.0 1653.0,1454.4 1653.5,1450.4 1654.0,1451.2 1654.4,1452.6 1654.9,1451.1 1655.4,1451.9 1655.8,1453.5 1656.3,1451.9 1656.8,1452.8 1657.2,1450.1 1657.7,1452.5 1658.2,1451.6 1658.6,1452.1 1659.1,1452.9 1659.6,1451.4 1660.0,1452.7 1660.5,1453.4 1661.0,1452.3 1661.4,1452.9 1661.9,1452.8 1662.4,1452.8 1662.8,1451.7 1663.3,1453.1 1663.8,1451.6 1664.3,1452.7 1664.7,1452.5 1665.2,1453.0 1665.7,1452.7 1666.1,1454.1 1666.6,1452.1 1667.1,1452.7 1667.5,1451.5 1668.0,1453.4 1668.5,1452.5 1668.9,1454.0 1669.4,1453.1 1669.9,1453.4 1670.3,1453.9 1670.8,1453.7 1671.3,1452.5 1671.7,1453.5 1672.2,1453.2 1672.7,1453.0 1673.1,1453.1 1673.6,1454.6 1674.1,1454.5 1674.5,1454.8 1675.0,1453.3 1675.5,1454.1 1675.9,1453.4 1676.4,1453.6 1676.9,1453.7 1677.3,1454.4 1677.8,1453.4 1678.3,1454.0 1678.7,1452.0 1679.2,1454.4 1679.7,1454.7 1680.1,1451.7 1680.6,1452.8 1681.1,1453.2 1681.5,1454.8 1682.0,1453.9 1682.5,1453.4 1682.9,1453.0 1683.4,1453.7 1683.9,1452.4 1684.4,1452.9 1684.8,1452.0 1685.3,1451.6 1685.8,1451.4 1686.2,1449.8 1686.7,1450.5 1687.2,1451.5 1687.6,1446.9 1688.1,1446.8 1688.6,1446.9 1689.0,1446.9 1689.5,1445.3 1690.0,1445.8 1690.4,1446.0 1690.9,1445.5 1691.4,1446.2 1691.8,1445.1 1692.3,1447.6 1692.8,1446.4 1693.2,1447.4 1693.7,1449.5 1694.2,1450.4 1694.6,1450.6 1695.1,1451.5 1695.6,1452.0 1696.0,1452.2 1696.5,1452.0 1697.0,1453.1 1697.4,1452.0 1697.9,1453.7 1698.4,1455.3 1698.8,1454.2 1699.3,1455.3 1699.8,1455.7 1700.2,1454.1 1700.7,1454.0 1701.2,1454.5 1701.6,1454.9 1702.1,1455.1 1702.6,1455.5 1703.1,1454.8 1703.5,1455.1 1704.0,1454.0 1704.5,1454.2 1704.9,1455.8 1705.4,1455.8 1705.9,1454.8 1706.3,1454.0 1706.8,1454.3 1707.3,1455.0 1707.7,1455.8 1708.2,1455.3 1708.7,1455.8 1709.1,1455.1 1709.6,1455.4 1710.1,1456.0 1710.5,1454.7 1711.0,1454.6 1711.5,1455.1 1711.9,1457.2 1712.4,1455.1 1712.9,1455.2 1713.3,1456.1 1713.8,1455.9 1714.3,1454.2 1714.7,1455.2 1715.2,1456.1 1715.7,1455.4 1716.1,1455.9 1716.6,1453.7 1717.1,1455.9 1717.5,1454.9 1718.0,1456.7 1718.5,1455.0 1718.9,1454.6 1719.4,1455.8 1719.9,1454.8 1720.3,1455.8 1720.8,1454.3 1721.3,1454.1 1721.7,1454.8 1722.2,1454.9 1722.7,1454.8 1723.2,1456.4 1723.6,1454.3 1724.1,1454.6 1724.6,1454.1 1725.0,1453.6 1725.5,1455.8 1726.0,1455.9 1726.4,1455.2 1726.9,1456.1 1727.4,1454.6 1727.8,1454.2 1728.3,1454.4 1728.8,1454.7 1729.2,1454.5 1729.7,1454.3 1730.2,1455.2 1730.6,1454.9 1731.1,1455.4 1731.6,1454.8 1732.0,1454.3 1732.5,1456.6 1733.0,1454.6 1733.4,1454.6 1733.9,1453.6 1734.4,1453.3 1734.8,1455.1 1735.3,1455.2 1735.8,1455.0 1736.2,1455.7 1736.7,1454.1 1737.2,1454.8 1737.6,1455.5 1738.1,1455.8 1738.6,1453.0 1739.0,1453.2 1739.5,1452.7 1740.0,1453.4 1740.4,1453.9 1740.9,1451.7 1741.4,1451.4 1741.9,1449.9 1742.3,1449.7 1742.8,1448.1 1743.3,1448.9 1743.7,1445.9 1744.2,1448.0 1744.7,1446.8 1745.1,1447.6 1745.6,1447.9 1746.1,1451.8 1746.5,1448.1 1747.0,1451.0 1747.5,1450.4 1747.9,1451.0 1748.4,1451.3 1748.9,1450.9 1749.3,1451.3 1749.8,1451.8 1750.3,1453.2 1750.7,1454.3 1751.2,1454.0 1751.7,1455.4 1752.1,1454.6 1752.6,1454.7 1753.1,1454.6 1753.5,1454.4 1754.0,1455.8 1754.5,1454.7 1754.9,1453.7 1755.4,1453.0 1755.9,1454.7 1756.3,1453.4 1756.8,1455.5 1757.3,1456.1 1757.7,1454.8 1758.2,1454.2 1758.7,1454.6 1759.1,1455.6 1759.6,1455.3 1760.1,1454.1 1760.5,1455.5 1761.0,1453.9 1761.5,1454.5 1762.0,1455.3 1762.4,1454.4 1762.9,1455.2 1763.4,1453.9 1763.8,1454.8 1764.3,1453.7 1764.8,1454.4 1765.2,1455.0 1765.7,1454.1 1766.2,1453.1 1766.6,1453.7 1767.1,1452.0 1767.6,1453.8 1768.0,1454.3 1768.5,1453.9 1769.0,1453.4 1769.4,1453.3 1769.9,1454.9 1770.4,1452.6 1770.8,1454.8 1771.3,1454.0 1771.8,1453.7 1772.2,1452.5 1772.7,1451.0 1773.2,1446.9 1773.6,1442.3 1774.1,1436.1 1774.6,1430.6 1775.0,1428.7 1775.5,1432.1 1776.0,1435.0 1776.4,1441.2 1776.9,1445.7 1777.4,1447.8 1777.8,1449.1 1778.3,1448.5 1778.8,1446.8 1779.2,1441.5 1779.7,1440.1 1780.2,1438.2 1780.7,1442.2 1781.1,1442.9 1781.6,1444.2 1782.1,1444.6 1782.5,1445.8 1783.0,1444.0 1783.5,1441.0 1783.9,1436.9 1784.4,1433.7 1784.9,1426.0 1785.3,1423.1 1785.8,1424.7 1786.3,1427.8 1786.7,1433.6 1787.2,1432.7 1787.7,1434.8 1788.1,1429.3 1788.6,1425.9 1789.1,1422.3 1789.5,1420.5 1790.0,1423.5 1790.5,1428.2 1790.9,1435.5 1791.4,1438.2 1791.9,1442.8 1792.3,1441.5 1792.8,1441.4 1793.3,1439.6 1793.7,1437.5 1794.2,1437.5 1794.7,1438.7 1795.1,1439.9 1795.6,1444.3 1796.1,1446.3 1796.5,1449.8 1797.0,1451.0 1797.5,1453.3 1797.9,1454.2 1798.4,1454.7 1798.9,1454.6 1799.3,1454.4 1799.8,1453.7 1800.3,1453.5 1800.8,1454.8 1801.2,1453.6 1801.7,1454.1 1802.2,1453.9 1802.6,1454.2 1803.1,1454.7 1803.6,1453.9 1804.0,1454.5 1804.5,1454.7 1805.0,1453.8 1805.4,1454.4 1805.9,1454.8 1806.4,1454.5 1806.8,1453.1 1807.3,1454.1 1807.8,1456.6 1808.2,1453.8 1808.7,1454.5 1809.2,1454.3 1809.6,1454.7 1810.1,1454.8 1810.6,1454.8 1811.0,1455.4 1811.5,1454.5 1812.0,1454.4 1812.4,1455.1 1812.9,1455.7 1813.4,1454.8 1813.8,1454.0 1814.3,1456.6 1814.8,1455.1 1815.2,1455.5 1815.7,1455.2 1816.2,1454.0 1816.6,1455.4 1817.1,1455.1 1817.6,1455.3 1818.0,1455.6 1818.5,1455.1 1819.0,1453.5 1819.4,1454.5 1819.9,1454.5 1820.4,1453.6 1820.9,1454.7 1821.3,1455.5 1821.8,1454.9 1822.3,1456.0 1822.7,1453.9 1823.2,1455.3 1823.7,1454.1 1824.1,1454.0 1824.6,1454.4 1825.1,1453.8 1825.5,1453.8 1826.0,1455.0 1826.5,1454.3 1826.9,1454.6 1827.4,1454.8 1827.9,1455.6 1828.3,1454.2 1828.8,1454.9 1829.3,1454.2 1829.7,1455.2 1830.2,1455.2 1830.7,1455.4 1831.1,1454.2 1831.6,1455.9 1832.1,1454.9 1832.5,1454.6 1833.0,1455.6 1833.5,1454.8 1833.9,1456.0 1834.4,1455.5 1834.9,1456.0 1835.3,1455.6 1835.8,1456.0 1836.3,1454.9 1836.7,1453.1 1837.2,1453.7 1837.7,1455.7 1838.1,1456.1 1838.6,1455.0 1839.1,1454.4 1839.6,1454.6 1840.0,1455.1 1840.5,1455.6 1841.0,1456.0 1841.4,1453.8 1841.9,1455.0 1842.4,1456.7 1842.8,1455.3 1843.3,1453.8 1843.8,1454.7 1844.2,1454.5 1844.7,1455.3 1845.2,1455.6 1845.6,1455.4 1846.1,1456.0 1846.6,1455.5 1847.0,1455.9 1847.5,1457.0 1848.0,1456.4 1848.4,1455.1 1848.9,1455.2 1849.4,1454.7 1849.8,1455.9 1850.3,1456.1 1850.8,1455.6 1851.2,1455.8 1851.7,1456.8 1852.2,1456.5 1852.6,1454.9 1853.1,1457.2 1853.6,1456.0 1854.0,1456.6 1854.5,1457.3 1855.0,1456.2 1855.4,1457.4 1855.9,1457.2 1856.4,1457.0 1856.8,1456.5 1857.3,1457.0 1857.8,1457.1 1858.2,1456.9 1858.7,1456.3 1859.2,1455.8 1859.7,1455.5 1860.1,1456.0 1860.6,1456.5 1861.1,1455.9 1861.5,1457.4 1862.0,1455.9 1862.5,1456.7 1862.9,1456.9 1863.4,1456.8 1863.9,1455.1 1864.3,1456.5 1864.8,1456.6 1865.3,1456.3 1865.7,1456.5 1866.2,1455.1 1866.7,1456.8 1867.1,1455.8 1867.6,1456.3 1868.1,1455.8 1868.5,1457.1 1869.0,1454.8 1869.5,1455.8 1869.9,1456.6 1870.4,1455.6 1870.9,1456.6 1871.3,1455.6 1871.8,1457.3 1872.3,1457.1 1872.7,1456.3 1873.2,1457.3 1873.7,1456.1 1874.1,1456.6 1874.6,1455.4 1875.1,1455.8 1875.5,1456.0 1876.0,1456.0 1876.5,1456.2 1876.9,1455.4 1877.4,1458.5 1877.9,1455.5 1878.4,1456.9 1878.8,1456.0 1879.3,1456.0 1879.8,1456.1 1880.2,1457.8 1880.7,1457.2 1881.2,1456.4 1881.6,1457.5 1882.1,1455.7 1882.6,1456.6 1883.0,1457.7 1883.5,1456.1 1884.0,1455.5 1884.4,1458.5 1884.9,1455.6 1885.4,1456.0 1885.8,1459.0 1886.3,1456.1 1886.8,1457.0 1887.2,1455.8 1887.7,1456.2 1888.2,1456.4 1888.6,1456.9 1889.1,1456.0 1889.6,1457.2 1890.0,1456.4 1890.5,1455.8 1891.0,1456.8 1891.4,1455.3 1891.9,1456.8 1892.4,1456.7 1892.8,1454.9 1893.3,1455.3 1893.8,1457.0 1894.2,1454.2 1894.7,1455.7 1895.2,1455.6 1895.6,1455.6 1896.1,1454.6 1896.6,1454.6 1897.0,1456.9 1897.5,1456.7 1898.0,1455.3 1898.5,1454.2 1898.9,1454.7 1899.4,1455.1 1899.9,1455.5 1900.3,1455.2 1900.8,1454.8 1901.3,1454.1 1901.7,1457.4 1902.2,1454.9 1902.7,1455.6 1903.1,1455.1 1903.6,1453.2 1904.1,1454.5 1904.5,1453.9 1905.0,1453.2 1905.5,1455.3 1905.9,1452.1 1906.4,1452.6 1906.9,1449.6 1907.3,1450.8 1907.8,1449.1 1908.3,1448.9 1908.7,1448.8 1909.2,1447.3 1909.7,1445.0 1910.1,1446.7 1910.6,1444.9 1911.1,1442.8 1911.5,1443.2 1912.0,1445.4 1912.5,1444.2 1912.9,1447.3 1913.4,1446.7 1913.9,1446.0 1914.3,1445.3 1914.8,1448.4 1915.3,1450.3 1915.7,1450.7 1916.2,1449.2 1916.7,1450.3 1917.2,1453.4 1917.6,1452.3 1918.1,1453.3 1918.6,1453.9 1919.0,1453.8 1919.5,1454.2 1920.0,1455.0 1920.4,1455.9 1920.9,1457.0 1921.4,1455.5 1921.8,1457.1 1922.3,1456.5 1922.8,1456.6 1923.2,1456.0 1923.7,1456.7 1924.2,1457.9 1924.6,1455.8 1925.1,1457.8 1925.6,1457.4 1926.0,1457.4 1926.5,1457.0 1927.0,1456.2 1927.4,1458.6 1927.9,1457.6 1928.4,1456.1 1928.8,1456.4 1929.3,1456.6 1929.8,1456.3 1930.2,1455.6 1930.7,1455.6 1931.2,1458.2 1931.6,1456.2 1932.1,1457.8 1932.6,1457.6 1933.0,1457.3 1933.5,1456.6 1934.0,1457.0 1934.4,1457.0 1934.9,1457.3 1935.4,1456.1 1935.8,1457.8 1936.3,1456.2 1936.8,1456.9 1937.3,1456.7 1937.7,1456.9 1938.2,1457.4 1938.7,1457.1 1939.1,1457.8 1939.6,1456.9 1940.1,1457.0 1940.5,1456.3 1941.0,1456.9 1941.5,1456.2 1941.9,1457.2 1942.4,1457.1 1942.9,1458.1 1943.3,1458.0 1943.8,1455.9 1944.3,1457.1 1944.7,1457.0 1945.2,1456.2 1945.7,1457.1 1946.1,1456.7 1946.6,1456.5 1947.1,1456.4 1947.5,1455.3 1948.0,1457.2 1948.5,1455.9 1948.9,1456.5 1949.4,1457.0 1949.9,1457.4 1950.3,1456.1 1950.8,1456.3 1951.3,1457.1 1951.7,1457.7 1952.2,1456.9 1952.7,1455.6 1953.1,1455.8 1953.6,1456.2 1954.1,1457.0 1954.5,1455.1 1955.0,1456.5 1955.5,1456.0 1956.0,1455.7 1956.4,1454.4 1956.9,1453.2 1957.4,1452.7 1957.8,1449.8 1958.3,1447.8 1958.8,1444.9 1959.2,1443.3 1959.7,1444.6 1960.2,1445.0 1960.6,1445.6 1961.1,1448.6 1961.6,1450.4 1962.0,1453.2 1962.5,1454.9 1963.0,1454.1 1963.4,1454.2 1963.9,1455.4 1964.4,1457.4 1964.8,1456.5 1965.3,1455.1 1965.8,1457.3 1966.2,1454.2 1966.7,1456.1 1967.2,1454.7 1967.6,1454.3 1968.1,1457.9 1968.6,1456.3 1969.0,1456.3 1969.5,1456.7 1970.0,1455.4 1970.4,1457.3 1970.9,1455.4 1971.4,1455.8 1971.8,1455.9 1972.3,1456.9 1972.8,1455.4 1973.2,1454.4 1973.7,1457.0 1974.2,1455.7 1974.6,1456.8 1975.1,1455.8 1975.6,1457.2 1976.1,1455.8 1976.5,1455.5 1977.0,1454.9 1977.5,1455.8 1977.9,1456.0 1978.4,1454.9 1978.9,1455.6 1979.3,1455.8 1979.8,1455.1 1980.3,1456.1 1980.7,1456.4 1981.2,1458.0 1981.7,1456.0 1982.1,1455.9 1982.6,1455.0 1983.1,1456.4 1983.5,1456.3 1984.0,1458.0 1984.5,1455.8 1984.9,1457.2 1985.4,1457.6 1985.9,1456.6 1986.3,1457.7 1986.8,1457.3 1987.3,1456.3 1987.7,1458.2 1988.2,1457.7 1988.7,1457.7 1989.1,1456.8 1989.6,1458.5 1990.1,1457.7 1990.5,1458.3 1991.0,1457.6 1991.5,1457.8 1991.9,1457.7 1992.4,1457.6 1992.9,1459.4 1993.3,1458.4 1993.8,1457.9 1994.3,1456.9 1994.7,1458.1 1995.2,1459.1 1995.7,1457.0 1996.2,1458.1 1996.6,1458.6 1997.1,1459.1 1997.6,1458.5 1998.0,1458.7 1998.5,1458.8 1999.0,1457.9 1999.4,1457.3 1999.9,1456.8 2000.4,1458.7 2000.8,1457.9 2001.3,1457.7 2001.8,1458.4 2002.2,1458.9 2002.7,1457.4 2003.2,1456.9 2003.6,1458.2 2004.1,1458.1 2004.6,1456.6 2005.0,1455.9 2005.5,1455.4 2006.0,1454.7 2006.4,1454.3 2006.9,1453.2 2007.4,1453.1 2007.8,1452.5 2008.3,1451.9 2008.8,1451.6 2009.2,1452.3 2009.7,1452.6 2010.2,1454.2 2010.6,1454.9 2011.1,1455.4 2011.6,1457.2 2012.0,1455.3 2012.5,1457.0 2013.0,1457.5 2013.4,1457.7 2013.9,1457.4 2014.4,1457.6 2014.9,1458.9 2015.3,1457.9 2015.8,1457.1 2016.3,1457.1 2016.7,1457.2 2017.2,1458.1 2017.7,1458.0 2018.1,1457.7 2018.6,1458.4 2019.1,1457.8 2019.5,1456.1 2020.0,1458.1 2020.5,1457.4 2020.9,1457.3 2021.4,1457.0 2021.9,1456.2 2022.3,1456.4 2022.8,1458.4 2023.3,1458.3 2023.7,1457.5 2024.2,1459.2 2024.7,1457.5 2025.1,1456.8 2025.6,1457.7 2026.1,1458.2 2026.5,1457.8 2027.0,1456.5 2027.5,1457.0 2027.9,1458.3 2028.4,1458.1 2028.9,1457.3 2029.3,1458.2 2029.8,1458.2 2030.3,1457.8 2030.7,1458.5 2031.2,1458.4 2031.7,1458.5 2032.1,1459.0 2032.6,1458.2 2033.1,1458.2 2033.5,1458.9 2034.0,1458.4 2034.5,1457.7 2035.0,1457.0 2035.4,1458.1 2035.9,1459.5 2036.4,1457.2 2036.8,1458.5 2037.3,1458.0 2037.8,1458.8 2038.2,1459.7 2038.7,1458.8 2039.2,1458.6 2039.6,1458.5 2040.1,1459.3 2040.6,1458.9 2041.0,1458.3 2041.5,1459.4 2042.0,1459.3 2042.4,1458.3 2042.9,1457.7 2043.4,1458.8 2043.8,1458.7 2044.3,1457.5 2044.8,1458.2 2045.2,1458.9 2045.7,1458.9 2046.2,1458.0 2046.6,1457.6 2047.1,1458.1 2047.6,1456.9 2048.0,1458.8 2048.5,1457.8 2049.0,1458.9 2049.4,1458.1 2049.9,1456.8 2050.4,1458.0 2050.8,1458.4 2051.3,1458.3 2051.8,1457.8 2052.2,1458.2 2052.7,1458.1 2053.2,1458.5 2053.7,1458.1 2054.1,1457.2 2054.6,1459.1 2055.1,1458.0 2055.5,1456.5 2056.0,1458.6 2056.5,1456.6 2056.9,1456.3 2057.4,1456.0 2057.9,1451.8 2058.3,1449.2 2058.8,1442.3 2059.3,1437.9 2059.7,1436.0 2060.2,1439.1 2060.7,1442.8 2061.1,1449.4 2061.6,1452.6 2062.1,1454.9 2062.5,1455.0 2063.0,1457.0"/>
<path class="curve" stroke="#00f" d="M310.0,1377.8L310.5,1380.9 310.9,1377.2 311.4,1380.7 311.9,1382.1 312.3,1387.2 312.8,1387.4 313.3,1384.9 313.7,1385.1 314.2,1384.6 314.7,1385.2 315.1,1383.3 315.6,1380.9 316.1,1389.8 316.5,1385.7 317.0,1378.5 317.5,1383.4 317.9,1386.7 318.4,1383.4 318.9,1382.3 319.3,1380.7 319.8,1388.1 320.3,1380.2 320.8,1388.7 321.2,1380.1 321.7,1382.7 322.2,1387.0 322.6,1387.1 323.1,1386.2 323.6,1388.4 324.0,1388.5 324.5,1387.3 325.0,1389.3 325.4,1390.0 325.9,1386.7 326.4,1384.2 326.8,1386.4 327.3,1383.1 327.8,1388.6 328.2,1387.7 328.7,1390.0 329.2,1385.2 329.6,1391.4 330.1,1386.2 330.6,1386.1 331.0,1386.5 331.5,1386.9 332.0,1389.0 332.4,1391.5 332.9,1390.7 333.4,1389.3 333.8,1395.3 334.3,1391.1 334.8,1393.5 335.2,1388.9 335.7,1388.5 336.2,1389.0 336.6,1393.8 337.1,1396.0 337.6,1390.2 338.0,1390.1 338.5,1391.7 339.0,1392.3 339.5,1390.7 339.9,1388.1 340.4,1388.9 340.9,1395.6 341.3,1394.1 341.8,1392.4 342.3,1394.3 342.7,1392.2 343.2,1393.2 343.7,1397.6 344.1,1399.2 344.6,1393.0 345.1,1395.6 345.5,1393.4 346.0,1399.7 346.5,1391.6 346.9,1390.4 347.4,1397.2 347.9,1395.1 348.3,1394.4 348.8,1395.8 349.3,1395.8 349.7,1394.2 350.2,1394.8 350.7,1394.5 351.1,1394.7 351.6,1398.9 352.1,1392.5 352.5,1397.1 353.0,1395.2 353.5,1396.0 353.9,1395.2 354.4,1393.1 354.9,1390.7 355.3,1390.5 355.8,1398.1 356.3,1399.0 356.7,1394.5 357.2,1393.4 357.7,1391.4 358.1,1397.5 358.6,1393.2 359.1,1391.6 359.6,1395.2 360.0,1397.0 360.5,1394.6 361.0,1397.4 361.4,1391.5 361.9,1392.6 362.4,1397.1 362.8,1392.5 363.3,1393.8 363.8,1395.4 364.2,1396.6 364.7,1400.1 365.2,1394.2 365.6,1395.9 366.1,1392.3 366.6,1392.2 367.0,1397.5 367.5,1396.4 368.0,1398.8 368.4,1397.1 368.9,1397.4 369.4,1394.1 369.8,1399.9 370.3,1398.0 370.8,1402.2 371.2,1394.7 371.7,1399.3 372.2,1394.9 372.6,1401.3 373.1,1398.9 373.6,1399.6 374.0,1400.9 374.5,1396.9 375.0,1399.7 375.4,1393.4 375.9,1397.6 376.4,1397.2 376.8,1397.3 377.3,1393.5 377.8,1396.5 378.3,1399.2 378.7,1391.9 379.2,1395.5 379.7,1395.9 380.1,1397.2 380.6,1398.9 381.1,1397.9 381.5,1401.5 382.0,1399.7 382.5,1393.7 382.9,1398.4 383.4,1399.9 383.9,1396.5 384.3,1400.9 384.8,1402.8 385.3,1398.2 385.7,1399.8 386.2,1393.3 386.7,1396.6 387.1,1401.2 387.6,1395.8 388.1,1399.4 388.5,1400.3 389.0,1398.3 389.5,1401.6 389.9,1398.0 390.4,1403.3 390.9,1394.3 391.3,1398.4 391.8,1398.2 392.3,1399.4 392.7,1402.4 393.2,1396.9 393.7,1401.8 394.1,1398.9 394.6,1398.6 395.1,1397.0 395.5,1400.5 396.0,1403.9 396.5,1398.4 396.9,1398.1 397.4,1395.1 397.9,1394.8 398.4,1396.8 398.8,1401.7 399.3,1397.5 399.8,1397.2 400.2,1398.7 400.7,1399.3 401.2,1397.1 401.6,1396.4 402.1,1400.8 402.6,1402.4 403.0,1399.1 403.5,1402.4 404.0,1402.6 404.4,1402.8 404.9,1403.6 405.4,1400.1 405.8,1399.8 406.3,1399.1 406.8,1403.7 407.2,1402.6 407.7,1395.8 408.2,1402.8 408.6,1403.6 409.1,1401.7 409.6,1401.6 410.0,1402.8 410.5,1401.9 411.0,1399.6 411.4,1406.9 411.9,1403.4 412.4,1402.8 412.8,1396.2 413.3,1403.4 413.8,1398.5 414.2,1404.7 414.7,1402.1 415.2,1404.7 415.6,1401.6 416.1,1402.0 416.6,1405.4 417.0,1403.7 417.5,1401.6 418.0,1404.7 418.5,1397.4 418.9,1403.0 419.4,1401.5 419.9,1407.6 420.3,1403.0 420.8,1400.0 421.3,1404.4 421.7,1399.1 422.2,1401.1 422.7,1405.3 423.1,1406.9 423.6,1400.4 424.1,1404.2 424.5,1402.5 425.0,1402.8 425.5,1405.2 425.9,1406.7 426.4,1404.3 426.9,1403.3 427.3,1402.5 427.8,1402.1 428.3,1406.5 428.7,1407.6 429.2,1403.9 429.7,1405.1 430.1,1408.9 430.6,1401.2 431.1,1398.6 431.5,1402.6 432.0,1407.6 432.5,1401.7 432.9,1401.0 433.4,1403.9 433.9,1405.6 434.3,1400.8 434.8,1405.2 435.3,1405.4 435.7,1406.1 436.2,1405.0 436.7,1405.4 437.2,1401.9 437.6,1407.3 438.1,1406.2 438.6,1405.1 439.0,1400.3 439.5,1402.6 440.0,1398.3 440.4,1405.3 440.9,1405.5 441.4,1401.6 441.8,1407.9 442.3,1408.7 442.8,1405.3 443.2,1403.2 443.7,1408.2 444.2,1402.9 444.6,1406.9 445.1,1401.1 445.6,1408.6 446.0,1404.1 446.5,1401.0 447.0,1403.1 447.4,1405.5 447.9,1402.5 448.4,1404.1 448.8,1406.4 449.3,1405.6 449.8,1406.8 450.2,1404.0 450.7,1401.7 451.2,1405.1 451.6,1409.3 452.1,1402.6 452.6,1398.8 453.0,1407.9 453.5,1406.2 454.0,1400.6 454.4,1400.2 454.9,1400.6 455.4,1402.1 455.8,1405.9 456.3,1400.7 456.8,1402.1 457.3,1400.7 457.7,1403.4 458.2,1402.1 458.7,1403.5 459.1,1405.5 459.6,1407.6 460.1,1401.5 460.5,1403.0 461.0,1398.3 461.5,1407.6 461.9,1401.4 462.4,1401.1 462.9,1400.7 463.3,1401.7 463.8,1403.6 464.3,1400.3 464.7,1401.3 465.2,1400.9 465.7,1397.6 466.1,1398.6 466.6,1400.7 467.1,1404.7 467.5,1401.6 468.0,1402.5 468.5,1400.5 468.9,1401.0 469.4,1399.7 469.9,1400.7 470.3,1402.6 470.8,1400.8 471.3,1402.3 471.7,1401.3 472.2,1398.4 472.7,1396.6 473.1,1398.5 473.6,1398.9 474.1,1399.8 474.5,1399.7 475.0,1396.4 475.5,1395.0 476.0,1400.6 476.4,1401.9 476.9,1401.7 477.4,1401.8 477.8,1396.8 478.3,1397.0 478.8,1396.7 479.2,1398.5 479.7,1402.0 480.2,1401.1 480.6,1393.4 481.1,1399.9 481.6,1393.1 482.0,1400.9 482.5,1399.7 483.0,1401.0 483.4,1405.0 483.9,1394.8 484.4,1395.9 484.8,1398.4 485.3,1400.9 485.8,1397.5 486.2,1396.1 486.7,1398.5 487.2,1396.3 487.6,1397.0 488.1,1393.8 488.6,1398.7 489.0,1392.0 489.5,1402.3 490.0,1399.5 490.4,1394.9 490.9,1393.1 491.4,1399.9 491.8,1390.9 492.3,1395.8 492.8,1398.6 493.2,1398.3 493.7,1398.6 494.2,1398.3 494.6,1398.8 495.1,1399.6 495.6,1395.9 496.1,1398.1 496.5,1396.5 497.0,1397.0 497.5,1391.0 497.9,1395.1 498.4,1395.3 498.9,1392.3 499.3,1396.5 499.8,1396.8 500.3,1398.4 500.7,1399.5 501.2,1390.6 501.7,1394.1 502.1,1395.0 502.6,1395.6 503.1,1399.6 503.5,1397.7 504.0,1392.9 504.5,1394.1 504.9,1393.3 505.4,1394.4 505.9,1393.1 506.3,1399.0 506.8,1390.2 507.3,1395.3 507.7,1397.7 508.2,1395.6 508.7,1392.4 509.1,1396.7 509.6,1393.6 510.1,1395.1 510.5,1394.6 511.0,1397.1 511.5,1392.1 511.9,1394.0 512.4,1394.1 512.9,1390.9 513.3,1394.9 513.8,1393.1 514.3,1394.3 514.8,1392.5 515.2,1396.9 515.7,1390.9 516.2,1393.6 516.6,1394.6 517.1,1394.7 517.6,1393.5 518.0,1391.1 518.5,1397.7 519.0,1398.1 519.4,1393.1 519.9,1394.4 520.4,1395.9 520.8,1397.2 521.3,1394.9 521.8,1392.7 522.2,1392.4 522.7,1395.9 523.2,1397.0 523.6,1393.5 524.1,1395.7 524.6,1397.3 525.0,1389.0 525.5,1388.6 526.0,1394.2 526.4,1393.9 526.9,1395.5 527.4,1394.2 527.8,1398.0 528.3,1398.4 528.8,1390.5 529.2,1395.9 529.7,1393.3 530.2,1392.2 530.6,1392.1 531.1,1392.4 531.6,1393.5 532.0,1392.9 532.5,1392.5 533.0,1385.3 533.4,1393.0 533.9,1393.0 534.4,1395.8 534.9,1391.4 535.3,1388.1 535.8,1390.0 536.3,1391.3 536.7,1389.6 537.2,1390.2 537.7,1389.0 538.1,1396.0 538.6,1394.0 539.1,1393.2 539.5,1389.6 540.0,1393.5 540.5,1391.0 540.9,1393.7 541.4,1389.2 541.9,1393.3 542.3,1391.1 542.8,1392.2 543.3,1392.7 543.7,1391.1 544.2,1394.7 544.7,1388.9 545.1,1388.1 545.6,1391.3 546.1,1394.5 546.5,1392.4 547.0,1388.8 547.5,1396.8 547.9,1390.8 548.4,1390.2 548.9,1387.3 549.3,1391.3 549.8,1388.5 550.3,1394.4 550.7,1387.2 551.2,1388.6 551.7,1390.3 552.1,1394.3 552.6,1391.7 553.1,1386.9 553.6,1395.8 554.0,1390.2 554.5,1388.2 555.0,1383.0 555.4,1388.7 555.9,1386.8 556.4,1393.0 556.8,1391.8 557.3,1385.4 557.8,1389.8 558.2,1392.9 558.7,1391.9 559.2,1391.2 559.6,1393.0 560.1,1391.6 560.6,1390.8 561.0,1390.5 561.5,1390.4 562.0,1386.2 562.4,1392.6 562.9,1392.8 563.4,1386.9 563.8,1391.3 564.3,1388.2 564.8,1388.9 565.2,1388.8 565.7,1388.2 566.2,1391.0 566.6,1389.3 567.1,1387.2 567.6,1394.7 568.0,1389.1 568.5,1388.2 569.0,1388.1 569.4,1388.4 569.9,1385.3 570.4,1385.8 570.8,1385.4 571.3,1385.3 571.8,1388.4 572.2,1385.6 572.7,1393.9 573.2,1394.5 573.7,1389.6 574.1,1393.0 574.6,1385.3 575.1,1384.0 575.5,1391.9 576.0,1390.3 576.5,1386.8 576.9,1387.2 577.4,1388.7 577.9,1390.5 578.3,1390.8 578.8,1388.2 579.3,1386.8 579.7,1390.4 580.2,1390.3 580.7,1389.0 581.1,1386.3 581.6,1388.2 582.1,1383.7 582.5,1387.0 583.0,1389.0 583.5,1385.9 583.9,1384.8 584.4,1382.4 584.9,1384.7 585.3,1383.4 585.8,1388.4 586.3,1386.7 586.7,1391.4 587.2,1384.6 587.7,1388.6 588.1,1385.2 588.6,1380.3 589.1,1387.1 589.5,1388.4 590.0,1383.9 590.5,1389.2 590.9,1387.4 591.4,1388.4 591.9,1386.8 592.3,1385.9 592.8,1387.8 593.3,1388.9 593.8,1382.6 594.2,1386.6 594.7,1383.8 595.2,1384.7 595.6,1383.7 596.1,1380.9 596.6,1386.2 597.0,1380.3 597.5,1386.2 598.0,1388.6 598.4,1389.4 598.9,1379.4 599.4,1390.0 599.8,1389.9 600.3,1387.2 600.8,1387.3 601.2,1385.8 601.7,1383.2 602.2,1382.0 602.6,1380.5 603.1,1388.1 603.6,1382.1 604.0,1381.5 604.5,1388.5 605.0,1383.6 605.4,1388.9 605.9,1383.3 606.4,1388.9 606.8,1384.2 607.3,1382.2 607.8,1385.9 608.2,1382.1 608.7,1383.8 609.2,1388.1 609.6,1380.1 610.1,1383.5 610.6,1383.4 611.0,1389.7 611.5,1379.8 612.0,1387.4 612.5,1393.6 612.9,1377.7 613.4,1387.5 613.9,1388.1 614.3,1384.4 614.8,1385.4 615.3,1388.0 615.7,1382.3 616.2,1388.4 616.7,1388.4 617.1,1381.1 617.6,1382.6 618.1,1381.8 618.5,1386.1 619.0,1381.9 619.5,1388.7 619.9,1388.3 620.4,1390.2 620.9,1387.2 621.3,1388.7 621.8,1385.5 622.3,1386.6 622.7,1389.2 623.2,1385.3 623.7,1387.1 624.1,1387.4 624.6,1389.3 625.1,1379.3 625.5,1388.1 626.0,1389.4 626.5,1389.2 626.9,1384.5 627.4,1387.5 627.9,1387.8 628.3,1393.2 628.8,1388.6 629.3,1383.6 629.7,1387.8 630.2,1380.7 630.7,1382.2 631.1,1384.7 631.6,1385.2 632.1,1389.1 632.6,1386.1 633.0,1383.7 633.5,1388.2 634.0,1385.2 634.4,1384.4 634.9,1383.4 635.4,1384.9 635.8,1387.8 636.3,1383.7 636.8,1389.4 637.2,1385.9 637.7,1386.9 638.2,1378.7 638.6,1384.9 639.1,1381.1 639.6,1386.7 640.0,1385.6 640.5,1382.8 641.0,1381.7 641.4,1384.6 641.9,1385.4 642.4,1376.7 642.8,1385.0 643.3,1387.0 643.8,1381.5 644.2,1388.0 644.7,1384.1 645.2,1380.2 645.6,1386.1 646.1,1388.0 646.6,1383.9 647.0,1384.7 647.5,1382.9 648.0,1381.7 648.4,1383.8 648.9,1380.6 649.4,1381.8 649.8,1382.4 650.3,1382.2 650.8,1383.1 651.3,1383.2 651.7,1381.0 652.2,1384.6 652.7,1382.8 653.1,1382.2 653.6,1378.8 654.1,1374.4 654.5,1380.2 655.0,1381.1 655.5,1376.8 655.9,1370.0 656.4,1373.9 656.9,1378.2 657.3,1374.9 657.8,1376.8 658.3,1372.3 658.7,1373.3 659.2,1381.0 659.7,1380.1 660.1,1378.7 660.6,1380.4 661.1,1381.8 661.5,1374.2 662.0,1373.5 662.5,1380.7 662.9,1377.7 663.4,1380.8 663.9,1378.1 664.3,1386.2 664.8,1380.9 665.3,1377.1 665.7,1382.4 666.2,1381.3 666.7,1381.7 667.1,1386.7 667.6,1385.9 668.1,1380.9 668.5,1386.1 669.0,1381.7 669.5,1380.4 669.9,1378.7 670.4,1379.5 670.9,1380.5 671.4,1381.1 671.8,1382.1 672.3,1374.2 672.8,1386.3 673.2,1381.6 673.7,1381.6 674.2,1379.5 674.6,1378.1 675.1,1379.5 675.6,1382.5 676.0,1378.5 676.5,1381.4 677.0,1386.6 677.4,1378.8 677.9,1380.6 678.4,1377.5 678.8,1376.3 679.3,1375.6 679.8,1379.6 680.2,1376.5 680.7,1376.7 681.2,1371.1 681.6,1377.7 682.1,1374.0 682.6,1372.7 683.0,1371.2 683.5,1376.0 684.0,1385.9 684.4,1372.3 684.9,1383.2 685.4,1384.3 685.8,1383.4 686.3,1379.2 686.8,1381.3 687.2,1385.7 687.7,1380.2 688.2,1377.6 688.6,1379.1 689.1,1381.2 689.6,1379.6 690.1,1378.5 690.5,1379.9 691.0,1380.1 691.5,1384.7 691.9,1376.5 692.4,1378.6 692.9,1378.8 693.3,1379.0 693.8,1378.7 694.3,1386.1 694.7,1385.8 695.2,1379.5 695.7,1384.2 696.1,1377.2 696.6,1380.4 697.1,1380.5 697.5,1376.5 698.0,1384.6 698.5,1381.2 698.9,1383.0 699.4,1374.9 699.9,1380.4 700.3,1379.6 700.8,1380.9 701.3,1381.5 701.7,1377.8 702.2,1380.0 702.7,1381.6 703.1,1384.6 703.6,1385.5 704.1,1382.7 704.5,1384.8 705.0,1378.8 705.5,1376.9 705.9,1377.9 706.4,1382.5 706.9,1380.6 707.3,1376.6 707.8,1380.5 708.3,1380.6 708.7,1380.5 709.2,1378.5 709.7,1380.9 710.2,1382.8 710.6,1380.9 711.1,1372.0 711.6,1377.6 712.0,1377.5 712.5,1382.8 713.0,1381.3 713.4,1386.8 713.9,1384.0 714.4,1383.3 714.8,1389.6 715.3,1381.3 715.8,1378.2 716.2,1381.9 716.7,1382.2 717.2,1381.0 717.6,1378.5 718.1,1386.6 718.6,1377.2 719.0,1386.3 719.5,1380.7 720.0,1377.5 720.4,1385.6 720.9,1379.6 721.4,1380.2 721.8,1380.2 722.3,1384.3 722.8,1379.3 723.2,1382.3 723.7,1379.7 724.2,1377.5 724.6,1380.8 725.1,1377.6 725.6,1377.7 726.0,1384.3 726.5,1377.8 727.0,1380.0 727.4,1375.8 727.9,1376.4 728.4,1374.9 728.9,1380.4 729.3,1376.5 729.8,1378.2 730.3,1382.0 730.7,1374.7 731.2,1380.0 731.7,1380.4 732.1,1380.4 732.6,1377.5 733.1,1386.6 733.5,1384.8 734.0,1385.7 734.5,1377.9 734.9,1388.2 735.4,1380.5 735.9,1384.9 736.3,1380.0 736.8,1381.8 737.3,1377.4 737.7,1380.1 738.2,1380.0 738.7,1377.4 739.1,1378.7 739.6,1378.5 740.1,1382.6 740.5,1379.5 741.0,1384.4 741.5,1380.3 741.9,1382.6 742.4,1383.4 742.9,1384.0 743.3,1385.1 743.8,1378.5 744.3,1380.1 744.7,1378.6 745.2,1383.9 745.7,1373.7 746.1,1385.3 746.6,1377.7 747.1,1382.1 747.5,1379.0 748.0,1381.6 748.5,1379.6 749.0,1379.6 749.4,1378.5 749.9,1380.5 750.4,1381.2 750.8,1381.6 751.3,1388.8 751.8,1385.8 752.2,1380.7 752.7,1384.1 753.2,1384.4 753.6,1381.6 754.1,1382.4 754.6,1385.7 755.0,1386.5 755.5,1385.6 756.0,1386.2 756.4,1380.2 756.9,1383.8 757.4,1381.3 757.8,1381.4 758.3,1379.9 758.8,1375.8 759.2,1376.9 759.7,1377.4 760.2,1382.6 760.6,1386.4 761.1,1380.5 761.6,1377.6 762.0,1376.2 762.5,1384.3 763.0,1386.6 763.4,1387.4 763.9,1384.1 764.4,1378.2 764.8,1376.8 765.3,1384.2 765.8,1380.7 766.2,1385.2 766.7,1379.4 767.2,1385.1 767.6,1389.8 768.1,1387.7 768.6,1387.1 769.1,1384.5 769.5,1388.4 770.0,1387.4 770.5,1387.7 770.9,1384.3 771.4,1393.6 771.9,1384.0 772.3,1387.4 772.8,1387.6 773.3,1389.1 773.7,1390.7 774.2,1388.5 774.7,1389.7 775.1,1387.5 775.6,1386.8 776.1,1388.5 776.5,1384.6 777.0,1387.1 777.5,1388.8 777.9,1387.3 778.4,1389.0 778.9,1382.8 779.3,1385.9 779.8,1389.6 780.3,1390.0 780.7,1385.7 781.2,1385.4 781.7,1385.7 782.1,1387.1 782.6,1385.4 783.1,1389.2 783.5,1391.1 784.0,1388.8 784.5,1385.6 784.9,1390.2 785.4,1391.7 785.9,1389.8 786.3,1387.9 786.8,1386.9 787.3,1385.7 787.8,1389.4 788.2,1395.2 788.7,1385.2 789.2,1393.0 789.6,1386.9 790.1,1392.6 790.6,1389.6 791.0,1392.3 791.5,1387.7 792.0,1392.1 792.4,1396.1 792.9,1392.4 793.4,1396.2 793.8,1396.4 794.3,1399.3 794.8,1391.2 795.2,1397.0 795.7,1395.0 796.2,1394.3 796.6,1394.2 797.1,1391.4 797.6,1390.5 798.0,1389.9 798.5,1394.3 799.0,1393.9 799.4,1393.5 799.9,1397.7 800.4,1394.0 800.8,1397.9 801.3,1398.6 801.8,1394.2 802.2,1395.9 802.7,1393.9 803.2,1392.9 803.6,1392.5 804.1,1394.9 804.6,1393.4 805.0,1396.4 805.5,1392.0 806.0,1395.7 806.4,1394.0 806.9,1391.5 807.4,1397.4 807.9,1393.4 808.3,1399.5 808.8,1393.5 809.3,1390.9 809.7,1397.2 810.2,1395.1 810.7,1398.9 811.1,1396.6 811.6,1388.7 812.1,1396.2 812.5,1393.9 813.0,1397.2 813.5,1393.6 813.9,1394.8 814.4,1394.9 814.9,1396.4 815.3,1396.5 815.8,1393.7 816.3,1393.6 816.7,1390.7 817.2,1396.0 817.7,1393.8 818.1,1395.4 818.6,1392.5 819.1,1397.6 819.5,1397.1 820.0,1394.9 820.5,1394.5 820.9,1396.8 821.4,1394.7 821.9,1395.8 822.3,1396.3 822.8,1391.1 823.3,1397.3 823.7,1399.1 824.2,1397.2 824.7,1392.7 825.1,1399.0 825.6,1399.6 826.1,1397.6 826.6,1401.6 827.0,1396.9 827.5,1397.0 828.0,1394.9 828.4,1397.3 828.9,1396.3 829.4,1400.3 829.8,1399.1 830.3,1398.9 830.8,1402.8 831.2,1401.0 831.7,1400.1 832.2,1400.3 832.6,1397.6 833.1,1402.6 833.6,1400.8 834.0,1400.5 834.5,1402.2 835.0,1399.4 835.4,1397.4 835.9,1405.9 836.4,1401.1 836.8,1399.2 837.3,1401.1 837.8,1401.8 838.2,1403.7 838.7,1401.9 839.2,1399.4 839.6,1399.3 840.1,1403.2 840.6,1405.1 841.0,1405.2 841.5,1400.9 842.0,1403.5 842.4,1400.7 842.9,1402.6 843.4,1401.9 843.8,1400.1 844.3,1398.8 844.8,1402.7 845.2,1395.2 845.7,1400.4 846.2,1401.4 846.7,1401.4 847.1,1397.7 847.6,1402.0 848.1,1398.9 848.5,1395.2 849.0,1390.4 849.5,1398.4 849.9,1393.2 850.4,1394.0 850.9,1396.2 851.3,1393.4 851.8,1393.8 852.3,1392.7 852.7,1389.1 853.2,1387.7 853.7,1390.5 854.1,1394.5 854.6,1385.1 855.1,1389.3 855.5,1387.7 856.0,1394.6 856.5,1387.7 856.9,1390.9 857.4,1387.2 857.9,1387.5 858.3,1392.2 858.8,1390.4 859.3,1385.5 859.7,1389.5 860.2,1392.9 860.7,1397.1 861.1,1394.4 861.6,1390.9 862.1,1402.3 862.5,1399.0 863.0,1401.9 863.5,1393.8 863.9,1405.6 864.4,1402.9 864.9,1399.8 865.4,1404.9 865.8,1403.7 866.3,1406.9 866.8,1405.1 867.2,1408.9 867.7,1407.2 868.2,1408.0 868.6,1409.7 869.1,1410.4 869.6,1410.4 870.0,1408.2 870.5,1409.2 871.0,1407.9 871.4,1410.7 871.9,1410.1 872.4,1412.5 872.8,1411.8 873.3,1416.0 873.8,1406.1 874.2,1406.0 874.7,1409.4 875.2,1410.9 875.6,1412.0 876.1,1413.1 876.6,1409.2 877.0,1412.3 877.5,1407.3 878.0,1413.2 878.4,1411.8 878.9,1413.8 879.4,1412.0 879.8,1407.2 880.3,1416.1 880.8,1415.9 881.2,1415.9 881.7,1410.9 882.2,1414.1 882.6,1413.3 883.1,1416.0 883.6,1413.6 884.0,1409.3 884.5,1413.9 885.0,1416.6 885.5,1416.2 885.9,1418.0 886.4,1414.5 886.9,1410.6 887.3,1412.2 887.8,1417.1 888.3,1413.8 888.7,1417.1 889.2,1415.4 889.7,1417.7 890.1,1416.1 890.6,1417.3 891.1,1414.7 891.5,1417.1 892.0,1416.1 892.5,1412.2 892.9,1418.9 893.4,1415.1 893.9,1417.8 894.3,1420.6 894.8,1420.8 895.3,1421.8 895.7,1418.4 896.2,1419.9 896.7,1420.7 897.1,1417.6 897.6,1420.8 898.1,1418.7 898.5,1421.3 899.0,1420.0 899.5,1421.8 899.9,1424.4 900.4,1422.2 900.9,1418.7 901.3,1422.7 901.8,1419.2 902.3,1420.6 902.7,1423.2 903.2,1423.4 903.7,1425.4 904.2,1422.2 904.6,1424.7 905.1,1423.9 905.6,1426.5 906.0,1420.5 906.5,1424.7 907.0,1421.4 907.4,1419.6 907.9,1423.7 908.4,1422.3 908.8,1424.6 909.3,1424.8 909.8,1418.0 910.2,1420.3 910.7,1420.6 911.2,1425.3 911.6,1422.1 912.1,1423.7 912.6,1424.5 913.0,1420.1 913.5,1420.5 914.0,1423.1 914.4,1423.1 914.9,1423.3 915.4,1424.8 915.8,1422.9 916.3,1423.3 916.8,1424.6 917.2,1423.8 917.7,1423.6 918.2,1422.8 918.6,1421.0 919.1,1424.1 919.6,1425.6 920.0,1425.2 920.5,1422.5 921.0,1425.7 921.4,1422.1 921.9,1425.8 922.4,1425.5 922.8,1426.8 923.3,1424.4 923.8,1425.8 924.3,1427.8 924.7,1425.2 925.2,1422.0 925.7,1422.9 926.1,1423.4 926.6,1424.3 927.1,1423.6 927.5,1427.6 928.0,1426.8 928.5,1424.9 928.9,1424.8 929.4,1428.9 929.9,1424.5 930.3,1424.6 930.8,1426.6 931.3,1427.0 931.7,1427.4 932.2,1426.9 932.7,1425.5 933.1,1429.2 933.6,1426.1 934.1,1424.2 934.5,1423.4 935.0,1424.7 935.5,1423.5 935.9,1424.5 936.4,1424.5 936.9,1427.9 937.3,1430.8 937.8,1427.4 938.3,1425.2 938.7,1429.9 939.2,1428.1 939.7,1429.3 940.1,1424.6 940.6,1426.4 941.1,1428.8 941.5,1429.2 942.0,1427.8 942.5,1428.5 942.9,1428.3 943.4,1428.3 943.9,1427.8 944.4,1430.4 944.8,1428.1 945.3,1428.3 945.8,1425.5 946.2,1429.5 946.7,1426.7 947.2,1429.9 947.6,1425.6 948.1,1429.1 948.6,1428.9 949.0,1429.4 949.5,1427.8 950.0,1430.7 950.4,1428.8 950.9,1429.7 951.4,1430.9 951.8,1427.0 952.3,1428.2 952.8,1429.1 953.2,1427.7 953.7,1426.6 954.2,1427.8 954.6,1429.6 955.1,1428.6 955.6,1429.6 956.0,1430.1 956.5,1429.3 957.0,1428.5 957.4,1428.2 957.9,1430.3 958.4,1429.5 958.8,1429.2 959.3,1426.2 959.8,1429.7 960.2,1430.7 960.7,1431.5 961.2,1430.8 961.6,1431.9 962.1,1430.4 962.6,1429.6 963.1,1430.0 963.5,1429.7 964.0,1431.4 964.5,1430.3 964.9,1431.5 965.4,1428.7 965.9,1428.5 966.3,1431.4 966.8,1433.7 967.3,1432.6 967.7,1431.9 968.2,1432.8 968.7,1432.2 969.1,1430.4 969.6,1430.1 970.1,1428.4 970.5,1431.8 971.0,1429.9 971.5,1433.6 971.9,1431.1 972.4,1428.6 972.9,1433.4 973.3,1433.8 973.8,1433.7 974.3,1431.9 974.7,1432.3 975.2,1434.6 975.7,1431.9 976.1,1433.0 976.6,1433.6 977.1,1432.7 977.5,1432.5 978.0,1434.1 978.5,1433.5 978.9,1434.0 979.4,1432.7 979.9,1430.9 980.3,1434.5 980.8,1433.8 981.3,1434.6 981.7,1434.7 982.2,1431.5 982.7,1434.8 983.2,1432.1 983.6,1435.2 984.1,1435.5 984.6,1433.7 985.0,1431.9 985.5,1434.6 986.0,1428.5 986.4,1434.2 986.9,1435.3 987.4,1434.5 987.8,1438.9 988.3,1435.4 988.8,1433.8 989.2,1435.7 989.7,1433.3 990.2,1435.0 990.6,1432.5 991.1,1434.3 991.6,1430.7 992.0,1434.5 992.5,1431.6 993.0,1434.5 993.4,1429.5 993.9,1433.0 994.4,1432.7 994.8,1431.0 995.3,1433.0 995.8,1431.1 996.2,1431.6 996.7,1432.9 997.2,1432.8 997.6,1433.3 998.1,1430.3 998.6,1429.2 999.0,1432.2 999.5,1432.0 1000.0,1433.0 1000.4,1435.1 1000.9,1431.8 1001.4,1434.4 1001.9,1430.7 1002.3,1431.0 1002.8,1431.6 1003.3,1430.0 1003.7,1434.5 1004.2,1432.8 1004.7,1433.0 1005.1,1430.8 1005.6,1430.4 1006.1,1431.6 1006.5,1435.4 1007.0,1431.2 1007.5,1433.8 1007.9,1432.7 1008.4,1433.3 1008.9,1431.8 1009.3,1430.3 1009.8,1431.7 1010.3,1432.8 1010.7,1433.6 1011.2,1431.6 1011.7,1431.9 1012.1,1430.6 1012.6,1433.6 1013.1,1431.8 1013.5,1434.2 1014.0,1434.5 1014.5,1437.1 1014.9,1431.9 1015.4,1431.9 1015.9,1432.4 1016.3,1433.2 1016.8,1437.5 1017.3,1433.3 1017.7,1431.5 1018.2,1430.5 1018.7,1433.1 1019.1,1434.3 1019.6,1432.6 1020.1,1432.3 1020.5,1434.1 1021.0,1432.0 1021.5,1435.2 1022.0,1432.1 1022.4,1434.2 1022.9,1431.7 1023.4,1433.1 1023.8,1431.9 1024.3,1434.7 1024.8,1430.9 1025.2,1433.5 1025.7,1436.9 1026.2,1436.6 1026.6,1437.8 1027.1,1435.2 1027.6,1433.4 1028.0,1437.7 1028.5,1431.9 1029.0,1434.7 1029.4,1433.3 1029.9,1432.6 1030.4,1432.7 1030.8,1434.7 1031.3,1432.6 1031.8,1432.9 1032.2,1434.0 1032.7,1436.9 1033.2,1430.4 1033.6,1433.0 1034.1,1434.9 1034.6,1434.3 1035.0,1436.6 1035.5,1430.3 1036.0,1436.0 1036.4,1431.6 1036.9,1432.0 1037.4,1431.4 1037.8,1433.0 1038.3,1430.0 1038.8,1430.7 1039.2,1432.4 1039.7,1433.8 1040.2,1436.6 1040.7,1435.5 1041.1,1434.4 1041.6,1436.2 1042.1,1433.8 1042.5,1434.4 1043.0,1431.2 1043.5,1431.1 1043.9,1432.6 1044.4,1431.5 1044.9,1429.7 1045.3,1432.3 1045.8,1431.2 1046.3,1432.3 1046.7,1432.6 1047.2,1432.9 1047.7,1431.9 1048.1,1430.8 1048.6,1432.1 1049.1,1432.7 1049.5,1436.4 1050.0,1430.9 1050.5,1433.1 1050.9,1431.0 1051.4,1432.6 1051.9,1433.8 1052.3,1435.9 1052.8,1429.9 1053.3,1432.4 1053.7,1432.7 1054.2,1433.7 1054.7,1432.6 1055.1,1434.0 1055.6,1436.2 1056.1,1432.2 1056.5,1434.8 1057.0,1434.2 1057.5,1434.9 1057.9,1431.6 1058.4,1433.9 1058.9,1431.0 1059.3,1433.0 1059.8,1430.4 1060.3,1435.2 1060.8,1431.8 1061.2,1435.3 1061.7,1435.8 1062.2,1436.6 1062.6,1434.3 1063.1,1435.0 1063.6,1433.3 1064.0,1435.0 1064.5,1436.6 1065.0,1436.1 1065.4,1434.9 1065.9,1435.2 1066.4,1434.9 1066.8,1434.5 1067.3,1436.0 1067.8,1436.2 1068.2,1434.1 1068.7,1433.4 1069.2,1434.2 1069.6,1435.0 1070.1,1433.7 1070.6,1435.1 1071.0,1435.9 1071.5,1437.5 1072.0,1435.8 1072.4,1433.2 1072.9,1437.4 1073.4,1433.1 1073.8,1437.0 1074.3,1434.1 1074.8,1435.6 1075.2,1434.2 1075.7,1433.5 1076.2,1436.2 1076.6,1435.8 1077.1,1436.3 1077.6,1435.6 1078.0,1435.1 1078.5,1437.3 1079.0,1437.5 1079.5,1440.0 1079.9,1437.8 1080.4,1437.6 1080.9,1437.4 1081.3,1437.3 1081.8,1437.7 1082.3,1435.5 1082.7,1433.6 1083.2,1437.6 1083.7,1436.8 1084.1,1436.6 1084.6,1437.1 1085.1,1434.8 1085.5,1434.6 1086.0,1436.6 1086.5,1436.1 1086.9,1436.0 1087.4,1437.3 1087.9,1433.6 1088.3,1438.3 1088.8,1437.0 1089.3,1437.8 1089.7,1436.1 1090.2,1436.7 1090.7,1434.3 1091.1,1437.3 1091.6,1434.7 1092.1,1437.5 1092.5,1435.9 1093.0,1434.4 1093.5,1436.2 1093.9,1436.0 1094.4,1436.4 1094.9,1435.9 1095.3,1433.7 1095.8,1432.7 1096.3,1433.3 1096.7,1435.4 1097.2,1432.0 1097.7,1433.5 1098.1,1436.0 1098.6,1434.7 1099.1,1434.1 1099.6,1434.3 1100.0,1435.3 1100.5,1436.8 1101.0,1434.6 1101.4,1433.4 1101.9,1434.4 1102.4,1432.4 1102.8,1436.6 1103.3,1436.2 1103.8,1437.4 1104.2,1433.2 1104.7,1436.7 1105.2,1435.0 1105.6,1431.2 1106.1,1434.1 1106.6,1433.8 1107.0,1433.0 1107.5,1434.1 1108.0,1434.2 1108.4,1436.3 1108.9,1435.4 1109.4,1434.1 1109.8,1435.7 1110.3,1434.5 1110.8,1434.9 1111.2,1437.7 1111.7,1436.1 1112.2,1435.6 1112.6,1431.0 1113.1,1434.5 1113.6,1432.4 1114.0,1438.6 1114.5,1435.0 1115.0,1436.4 1115.4,1433.3 1115.9,1432.6 1116.4,1436.2 1116.8,1435.0 1117.3,1436.6 1117.8,1433.3 1118.2,1435.8 1118.7,1435.7 1119.2,1433.9 1119.7,1434.5 1120.1,1435.2 1120.6,1435.0 1121.1,1434.9 1121.5,1436.7 1122.0,1432.6 1122.5,1432.6 1122.9,1432.6 1123.4,1433.6 1123.9,1433.5 1124.3,1430.5 1124.8,1429.5 1125.3,1429.7 1125.7,1429.3 1126.2,1427.6 1126.7,1428.2 1127.1,1432.1 1127.6,1434.4 1128.1,1430.0 1128.5,1430.4 1129.0,1429.3 1129.5,1431.8 1129.9,1429.4 1130.4,1428.9 1130.9,1430.4 1131.3,1429.6 1131.8,1430.3 1132.3,1430.7 1132.7,1432.3 1133.2,1434.7 1133.7,1429.0 1134.1,1434.3 1134.6,1433.2 1135.1,1432.0 1135.5,1434.9 1136.0,1434.6 1136.5,1434.7 1136.9,1433.3 1137.4,1433.9 1137.9,1434.3 1138.4,1433.7 1138.8,1436.8 1139.3,1436.8 1139.8,1436.4 1140.2,1439.0 1140.7,1437.4 1141.2,1436.8 1141.6,1437.1 1142.1,1439.9 1142.6,1438.1 1143.0,1442.1 1143.5,1441.1 1144.0,1442.4 1144.4,1439.1 1144.9,1436.9 1145.4,1443.1 1145.8,1438.9 1146.3,1436.6 1146.8,1438.9 1147.2,1440.0 1147.7,1438.1 1148.2,1440.6 1148.6,1438.1 1149.1,1437.6 1149.6,1435.9 1150.0,1436.0 1150.5,1437.1 1151.0,1434.7 1151.4,1431.9 1151.9,1429.0 1152.4,1434.7 1152.8,1432.8 1153.3,1431.0 1153.8,1434.2 1154.2,1434.7 1154.7,1435.8 1155.2,1435.5 1155.6,1432.3 1156.1,1434.9 1156.6,1435.1 1157.0,1436.1 1157.5,1435.9 1158.0,1435.1 1158.5,1434.1 1158.9,1436.7 1159.4,1435.6 1159.9,1438.5 1160.3,1435.4 1160.8,1435.3 1161.3,1433.7 1161.7,1435.5 1162.2,1437.7 1162.7,1434.6 1163.1,1433.9 1163.6,1436.9 1164.1,1439.7 1164.5,1437.4 1165.0,1437.8 1165.5,1437.8 1165.9,1436.7 1166.4,1438.1 1166.9,1436.8 1167.3,1439.3 1167.8,1435.3 1168.3,1436.5 1168.7,1439.9 1169.2,1435.8 1169.7,1436.7 1170.1,1436.5 1170.6,1436.6 1171.1,1434.2 1171.5,1438.7 1172.0,1436.5 1172.5,1439.3 1172.9,1436.3 1173.4,1440.4 1173.9,1435.5 1174.3,1435.2 1174.8,1436.2 1175.3,1438.0 1175.7,1436.5 1176.2,1436.4 1176.7,1437.0 1177.2,1436.0 1177.6,1437.4 1178.1,1437.6 1178.6,1437.3 1179.0,1438.1 1179.5,1440.1 1180.0,1440.3 1180.4,1436.1 1180.9,1434.3 1181.4,1436.7 1181.8,1438.0 1182.3,1437.4 1182.8,1437.5 1183.2,1437.3 1183.7,1436.2 1184.2,1438.3 1184.6,1437.3 1185.1,1435.9 1185.6,1435.4 1186.0,1437.9 1186.5,1438.5 1187.0,1438.3 1187.4,1438.8 1187.9,1434.9 1188.4,1437.1 1188.8,1441.3 1189.3,1438.2 1189.8,1441.5 1190.2,1438.8 1190.7,1435.7 1191.2,1439.4 1191.6,1440.6 1192.1,1440.2 1192.6,1437.9 1193.0,1441.3 1193.5,1442.5 1194.0,1439.5 1194.4,1441.8 1194.9,1440.4 1195.4,1439.9 1195.8,1441.3 1196.3,1440.5 1196.8,1441.1 1197.3,1440.4 1197.7,1440.4 1198.2,1439.1 1198.7,1442.5 1199.1,1441.5 1199.6,1439.6 1200.1,1439.5 1200.5,1441.8 1201.0,1440.1 1201.5,1440.1 1201.9,1440.6 1202.4,1442.0 1202.9,1442.5 1203.3,1440.3 1203.8,1441.2 1204.3,1441.2 1204.7,1442.5 1205.2,1441.7 1205.7,1441.8 1206.1,1441.0 1206.6,1443.2 1207.1,1441.5 1207.5,1441.1 1208.0,1443.0 1208.5,1445.2 1208.9,1443.3 1209.4,1441.5 1209.9,1446.0 1210.3,1444.1 1210.8,1442.5 1211.3,1442.7 1211.7,1442.3 1212.2,1439.5 1212.7,1442.2 1213.1,1443.9 1213.6,1442.8 1214.1,1443.0 1214.5,1444.7 1215.0,1443.5 1215.5,1445.4 1216.0,1439.7 1216.4,1442.7 1216.9,1441.9 1217.4,1445.2 1217.8,1444.0 1218.3,1445.7 1218.8,1443.6 1219.2,1440.9 1219.7,1444.9 1220.2,1441.7 1220.6,1444.3 1221.1,1446.4 1221.6,1443.4 1222.0,1444.4 1222.5,1440.6 1223.0,1443.9 1223.4,1443.8 1223.9,1444.2 1224.4,1445.3 1224.8,1445.9 1225.3,1443.3 1225.8,1444.0 1226.2,1445.8 1226.7,1443.9 1227.2,1444.6 1227.6,1444.4 1228.1,1442.5 1228.6,1446.8 1229.0,1443.3 1229.5,1445.0 1230.0,1444.6 1230.4,1442.7 1230.9,1444.3 1231.4,1445.8 1231.8,1443.4 1232.3,1442.7 1232.8,1440.9 1233.2,1443.6 1233.7,1444.6 1234.2,1445.4 1234.6,1444.0 1235.1,1445.6 1235.6,1445.7 1236.1,1444.5 1236.5,1443.7 1237.0,1442.2 1237.5,1442.6 1237.9,1445.5 1238.4,1446.5 1238.9,1442.4 1239.3,1444.4 1239.8,1445.0 1240.3,1442.3 1240.7,1443.7 1241.2,1444.5 1241.7,1447.4 1242.1,1443.8 1242.6,1445.6 1243.1,1442.8 1243.5,1444.8 1244.0,1443.5 1244.5,1442.9 1244.9,1444.8 1245.4,1444.2 1245.9,1445.2 1246.3,1442.0 1246.8,1443.5 1247.3,1447.2 1247.7,1441.8 1248.2,1444.1 1248.7,1445.5 1249.1,1444.3 1249.6,1443.3 1250.1,1443.6 1250.5,1445.2 1251.0,1444.1 1251.5,1446.0 1251.9,1444.1 1252.4,1444.2 1252.9,1444.6 1253.3,1442.7 1253.8,1443.4 1254.3,1443.8 1254.8,1444.9 1255.2,1445.7 1255.7,1444.1 1256.2,1445.4 1256.6,1442.9 1257.1,1444.6 1257.6,1443.2 1258.0,1444.0 1258.5,1446.5 1259.0,1445.3 1259.4,1445.7 1259.9,1444.1 1260.4,1444.8 1260.8,1444.8 1261.3,1445.4 1261.8,1443.7 1262.2,1441.5 1262.7,1443.9 1263.2,1443.9 1263.6,1443.4 1264.1,1445.7 1264.6,1444.8 1265.0,1447.1 1265.5,1445.8 1266.0,1446.8 1266.4,1445.1 1266.9,1446.6 1267.4,1446.1 1267.8,1445.7 1268.3,1445.4 1268.8,1446.0 1269.2,1445.2 1269.7,1445.2 1270.2,1445.2 1270.6,1443.1 1271.1,1444.3 1271.6,1445.0 1272.0,1445.0 1272.5,1445.5 1273.0,1446.6 1273.4,1445.9 1273.9,1442.6 1274.4,1446.0 1274.9,1445.6 1275.3,1441.0 1275.8,1446.6 1276.3,1446.8 1276.7,1444.6 1277.2,1447.7 1277.7,1445.4 1278.1,1446.0 1278.6,1448.4 1279.1,1445.7 1279.5,1446.7 1280.0,1445.3 1280.5,1445.2 1280.9,1445.4 1281.4,1446.2 1281.9,1443.8 1282.3,1446.9 1282.8,1445.9 1283.3,1443.8 1283.7,1447.9 1284.2,1447.6 1284.7,1449.1 1285.1,1446.0 1285.6,1448.2 1286.1,1446.3 1286.5,1446.6 1287.0,1445.5 1287.5,1446.8 1287.9,1447.1 1288.4,1446.3 1288.9,1447.9 1289.3,1446.5 1289.8,1447.1 1290.3,1446.7 1290.7,1449.3 1291.2,1448.0 1291.7,1447.5 1292.1,1446.1 1292.6,1448.4 1293.1,1449.0 1293.5,1445.7 1294.0,1446.7 1294.5,1447.3 1295.0,1446.4 1295.4,1447.7 1295.9,1448.8 1296.4,1447.4 1296.8,1446.4 1297.3,1447.4 1297.8,1446.2 1298.2,1446.7 1298.7,1445.3 1299.2,1447.6 1299.6,1449.1 1300.1,1448.4 1300.6,1449.6 1301.0,1449.0 1301.5,1446.2 1302.0,1449.9 1302.4,1447.7 1302.9,1446.6 1303.4,1448.5 1303.8,1447.7 1304.3,1446.6 1304.8,1445.3 1305.2,1448.1 1305.7,1448.4 1306.2,1448.4 1306.6,1451.1 1307.1,1448.7 1307.6,1446.7 1308.0,1448.3 1308.5,1446.4 1309.0,1450.2 1309.4,1447.4 1309.9,1448.3 1310.4,1447.7 1310.8,1450.7 1311.3,1449.4 1311.8,1448.3 1312.2,1448.9 1312.7,1447.5 1313.2,1448.8 1313.7,1448.9 1314.1,1447.8 1314.6,1449.7 1315.1,1449.6 1315.5,1445.7 1316.0,1449.4 1316.5,1449.8 1316.9,1448.8 1317.4,1450.8 1317.9,1447.9 1318.3,1448.7 1318.8,1447.8 1319.3,1448.7 1319.7,1446.2 1320.2,1450.1 1320.7,1450.6 1321.1,1450.5 1321.6,1447.7 1322.1,1448.4 1322.5,1449.5 1323.0,1447.6 1323.5,1447.3 1323.9,1448.8 1324.4,1447.6 1324.9,1448.8 1325.3,1447.8 1325.8,1447.6 1326.3,1448.7 1326.7,1446.9 1327.2,1447.0 1327.7,1448.9 1328.1,1450.7 1328.6,1451.2 1329.1,1448.7 1329.5,1448.5 1330.0,1450.6 1330.5,1449.3 1330.9,1450.1 1331.4,1448.9 1331.9,1450.7 1332.3,1450.7 1332.8,1448.3 1333.3,1448.6 1333.8,1448.1 1334.2,1450.6 1334.7,1451.0 1335.2,1449.6 1335.6,1447.9 1336.1,1449.3 1336.6,1448.9 1337.0,1445.8 1337.5,1448.5 1338.0,1450.6 1338.4,1450.3 1338.9,1449.9 1339.4,1448.8 1339.8,1451.4 1340.3,1449.5 1340.8,1449.4 1341.2,1449.3 1341.7,1450.9 1342.2,1449.6 1342.6,1450.4 1343.1,1451.6 1343.6,1451.6 1344.0,1450.9 1344.5,1448.7 1345.0,1449.6 1345.4,1448.8 1345.9,1448.9 1346.4,1450.3 1346.8,1448.7 1347.3,1450.9 1347.8,1450.1 1348.2,1451.0 1348.7,1449.2 1349.2,1448.2 1349.6,1450.7 1350.1,1450.2 1350.6,1447.5 1351.0,1449.5 1351.5,1449.9 1352.0,1451.8 1352.5,1449.6 1352.9,1449.6 1353.4,1449.4 1353.9,1449.6 1354.3,1448.4 1354.8,1447.7 1355.3,1448.6 1355.7,1444.5 1356.2,1446.5 1356.7,1447.8 1357.1,1448.9 1357.6,1447.3 1358.1,1444.9 1358.5,1445.9 1359.0,1438.9 1359.5,1444.5 1359.9,1442.7 1360.4,1443.0 1360.9,1442.7 1361.3,1440.0 1361.8,1442.2 1362.3,1441.9 1362.7,1442.3 1363.2,1443.6 1363.7,1443.0 1364.1,1444.4 1364.6,1446.3 1365.1,1445.1 1365.5,1444.7 1366.0,1445.1 1366.5,1446.9 1366.9,1447.0 1367.4,1448.5 1367.9,1447.8 1368.3,1447.8 1368.8,1448.8 1369.3,1451.3 1369.7,1450.3 1370.2,1450.9 1370.7,1450.8 1371.1,1449.5 1371.6,1450.2 1372.1,1451.1 1372.6,1449.5 1373.0,1449.1 1373.5,1450.5 1374.0,1451.1 1374.4,1449.7 1374.9,1450.7 1375.4,1451.4 1375.8,1452.1 1376.3,1450.6 1376.8,1451.2 1377.2,1450.2 1377.7,1449.7 1378.2,1450.8 1378.6,1452.9 1379.1,1451.6 1379.6,1451.8 1380.0,1451.6 1380.5,1452.5 1381.0,1453.3 1381.4,1449.4 1381.9,1450.4 1382.4,1447.6 1382.8,1448.9 1383.3,1452.8 1383.8,1452.5 1384.2,1452.2 1384.7,1452.2 1385.2,1450.8 1385.6,1453.2 1386.1,1453.7 1386.6,1452.5 1387.0,1451.8 1387.5,1451.5 1388.0,1451.2 1388.4,1450.6 1388.9,1452.0 1389.4,1452.4 1389.8,1451.6 1390.3,1453.9 1390.8,1453.0 1391.3,1450.9 1391.7,1452.6 1392.2,1451.6 1392.7,1451.3 1393.1,1451.9 1393.6,1452.3 1394.1,1450.5 1394.5,1452.5 1395.0,1451.4 1395.5,1453.1 1395.9,1454.8 1396.4,1453.1 1396.9,1454.3 1397.3,1453.3 1397.8,1453.2 1398.3,1450.0 1398.7,1454.4 1399.2,1455.1 1399.7,1454.7 1400.1,1451.9 1400.6,1454.5 1401.1,1452.3 1401.5,1453.4 1402.0,1454.9 1402.5,1453.8 1402.9,1453.1 1403.4,1453.9 1403.9,1451.3 1404.3,1453.6 1404.8,1453.7 1405.3,1452.1 1405.7,1451.4 1406.2,1453.5 1406.7,1454.5 1407.1,1452.5 1407.6,1453.7 1408.1,1451.1 1408.5,1453.5 1409.0,1453.7 1409.5,1452.4 1409.9,1453.7 1410.4,1452.9 1410.9,1452.5 1411.4,1452.4 1411.8,1452.1 1412.3,1453.0 1412.8,1454.8 1413.2,1452.3 1413.7,1453.9 1414.2,1452.1 1414.6,1449.1 1415.1,1453.7 1415.6,1451.7 1416.0,1452.0 1416.5,1450.8 1417.0,1452.0 1417.4,1453.0 1417.9,1452.1 1418.4,1451.9 1418.8,1450.0 1419.3,1453.5 1419.8,1451.5 1420.2,1452.8 1420.7,1452.5 1421.2,1454.4 1421.6,1453.7 1422.1,1452.0 1422.6,1453.2 1423.0,1452.5 1423.5,1450.3 1424.0,1453.6 1424.4,1452.9 1424.9,1451.7 1425.4,1454.5 1425.8,1452.4 1426.3,1454.4 1426.8,1450.7 1427.2,1451.2 1427.7,1453.4 1428.2,1455.3 1428.6,1453.2 1429.1,1454.3 1429.6,1454.0 1430.1,1453.0 1430.5,1453.8 1431.0,1455.0 1431.5,1452.6 1431.9,1453.4 1432.4,1453.9 1432.9,1451.5 1433.3,1454.0 1433.8,1453.1 1434.3,1454.6 1434.7,1453.0 1435.2,1451.6 1435.7,1452.9 1436.1,1453.5 1436.6,1455.9 1437.1,1453.7 1437.5,1456.7 1438.0,1453.6 1438.5,1454.2 1438.9,1453.2 1439.4,1454.4 1439.9,1455.4 1440.3,1454.3 1440.8,1455.8 1441.3,1451.9 1441.7,1452.8 1442.2,1454.3 1442.7,1453.6 1443.1,1453.5 1443.6,1454.3 1444.1,1453.8 1444.5,1455.1 1445.0,1455.6 1445.5,1457.0 1445.9,1455.1 1446.4,1455.2 1446.9,1456.0 1447.3,1453.4 1447.8,1457.0 1448.3,1455.3 1448.7,1455.2 1449.2,1456.2 1449.7,1457.1 1450.2,1456.8 1450.6,1455.9 1451.1,1455.1 1451.6,1454.3 1452.0,1454.8 1452.5,1452.9 1453.0,1455.8 1453.4,1455.0 1453.9,1453.7 1454.4,1455.7 1454.8,1455.7 1455.3,1455.2 1455.8,1455.2 1456.2,1454.8 1456.7,1456.7 1457.2,1454.3 1457.6,1456.1 1458.1,1454.5 1458.6,1455.0 1459.0,1454.2 1459.5,1456.0 1460.0,1457.0 1460.4,1454.9 1460.9,1454.1 1461.4,1452.5 1461.8,1454.4 1462.3,1456.5 1462.8,1457.4 1463.2,1456.4 1463.7,1455.1 1464.2,1455.5 1464.6,1455.5 1465.1,1453.7 1465.6,1454.5 1466.0,1455.7 1466.5,1455.3 1467.0,1456.2 1467.4,1454.9 1467.9,1456.4 1468.4,1456.1 1468.8,1456.0 1469.3,1455.5 1469.8,1454.3 1470.3,1454.3 1470.7,1455.0 1471.2,1453.7 1471.7,1455.1 1472.1,1454.1 1472.6,1455.7 1473.1,1455.4 1473.5,1457.2 1474.0,1455.5 1474.5,1456.8 1474.9,1455.3 1475.4,1453.2 1475.9,1455.5 1476.3,1456.9 1476.8,1455.1 1477.3,1453.6 1477.7,1455.3 1478.2,1455.1 1478.7,1454.2 1479.1,1455.0 1479.6,1453.9 1480.1,1456.3 1480.5,1455.4 1481.0,1454.0 1481.5,1455.4 1481.9,1454.5 1482.4,1455.2 1482.9,1454.8 1483.3,1456.2 1483.8,1456.5 1484.3,1455.0 1484.7,1454.4 1485.2,1453.3 1485.7,1454.6 1486.1,1454.9 1486.6,1453.7 1487.1,1455.2 1487.5,1456.2 1488.0,1454.2 1488.5,1455.0 1489.0,1456.2 1489.4,1453.5 1489.9,1453.3 1490.4,1456.3 1490.8,1454.5 1491.3,1453.6 1491.8,1454.4 1492.2,1455.8 1492.7,1455.5 1493.2,1453.8 1493.6,1455.4 1494.1,1455.7 1494.6,1454.8 1495.0,1455.1 1495.5,1454.7 1496.0,1455.2 1496.4,1455.0 1496.9,1455.0 1497.4,1453.9 1497.8,1454.5 1498.3,1454.1 1498.8,1456.5 1499.2,1455.6 1499.7,1454.6 1500.2,1453.4 1500.6,1455.4 1501.1,1452.9 1501.6,1456.2 1502.0,1454.8 1502.5,1456.3 1503.0,1456.4 1503.4,1454.9 1503.9,1454.9 1504.4,1455.7 1504.8,1453.1 1505.3,1455.6 1505.8,1455.6 1506.2,1456.2 1506.7,1456.1 1507.2,1455.9 1507.6,1454.7 1508.1,1455.1 1508.6,1455.1 1509.1,1458.1 1509.5,1454.2 1510.0,1456.4 1510.5,1457.1 1510.9,1454.8 1511.4,1456.5 1511.9,1455.5 1512.3,1456.5 1512.8,1453.8 1513.3,1456.8 1513.7,1454.0 1514.2,1456.1 1514.7,1455.1 1515.1,1456.5 1515.6,1456.3 1516.1,1457.6 1516.5,1456.3 1517.0,1455.5 1517.5,1458.0 1517.9,1455.8 1518.4,1457.2 1518.9,1456.1 1519.3,1455.9 1519.8,1456.4 1520.3,1455.4 1520.7,1456.5 1521.2,1455.9 1521.7,1455.3 1522.1,1457.3 1522.6,1455.9 1523.1,1456.0 1523.5,1457.1 1524.0,1456.5 1524.5,1456.2 1524.9,1456.2 1525.4,1455.7 1525.9,1457.8 1526.3,1455.9 1526.8,1457.7 1527.3,1456.0 1527.8,1456.3 1528.2,1455.5 1528.7,1456.0 1529.2,1456.8 1529.6,1456.2 1530.1,1455.6 1530.6,1456.9 1531.0,1456.7 1531.5,1457.7 1532.0,1456.3 1532.4,1454.8 1532.9,1456.3 1533.4,1455.8 1533.8,1455.8 1534.3,1457.5 1534.8,1457.1 1535.2,1454.2 1535.7,1456.1 1536.2,1457.2 1536.6,1455.1 1537.1,1457.6 1537.6,1456.7 1538.0,1456.9 1538.5,1456.6 1539.0,1457.4 1539.4,1455.7 1539.9,1457.3 1540.4,1455.1 1540.8,1457.3 1541.3,1456.7 1541.8,1458.1 1542.2,1457.6 1542.7,1455.0 1543.2,1454.9 1543.6,1457.6 1544.1,1454.4 1544.6,1455.6 1545.0,1454.9 1545.5,1455.9 1546.0,1456.1 1546.4,1453.9 1546.9,1455.9 1547.4,1456.1 1547.9,1456.6 1548.3,1457.1 1548.8,1455.8 1549.3,1456.1 1549.7,1457.1 1550.2,1457.1 1550.7,1458.0 1551.1,1456.8 1551.6,1456.3 1552.1,1456.7 1552.5,1456.8 1553.0,1455.2 1553.5,1456.6 1553.9,1456.9 1554.4,1455.0 1554.9,1456.5 1555.3,1455.2 1555.8,1455.1 1556.3,1455.3 1556.7,1455.9 1557.2,1456.1 1557.7,1456.0 1558.1,1457.6 1558.6,1454.7 1559.1,1456.3 1559.5,1455.3 1560.0,1457.4 1560.5,1454.5 1560.9,1456.4 1561.4,1456.2 1561.9,1454.7 1562.3,1456.9 1562.8,1455.4 1563.3,1456.0 1563.7,1454.3 1564.2,1455.6 1564.7,1455.0 1565.1,1456.3 1565.6,1456.5 1566.1,1456.5 1566.6,1457.0 1567.0,1456.3 1567.5,1455.5 1568.0,1456.4 1568.4,1457.1 1568.9,1456.6 1569.4,1454.4 1569.8,1455.5 1570.3,1456.1 1570.8,1455.6 1571.2,1454.9 1571.7,1454.1 1572.2,1455.6 1572.6,1455.9 1573.1,1456.8 1573.6,1456.4 1574.0,1456.6 1574.5,1454.5 1575.0,1458.3 1575.4,1455.3 1575.9,1456.0 1576.4,1456.7 1576.8,1457.4 1577.3,1457.0 1577.8,1455.8 1578.2,1457.2 1578.7,1455.6 1579.2,1455.5 1579.6,1456.5 1580.1,1457.6 1580.6,1455.6 1581.0,1457.6 1581.5,1456.1 1582.0,1455.5 1582.4,1454.9 1582.9,1454.4 1583.4,1455.3 1583.8,1457.9 1584.3,1457.2 1584.8,1457.6 1585.2,1456.3 1585.7,1457.6 1586.2,1456.0 1586.7,1456.9 1587.1,1455.8 1587.6,1456.7 1588.1,1457.0 1588.5,1455.0 1589.0,1457.4 1589.5,1456.7 1589.9,1458.4 1590.4,1456.9 1590.9,1455.7 1591.3,1455.8 1591.8,1455.6 1592.3,1457.9 1592.7,1456.4 1593.2,1456.0 1593.7,1455.6 1594.1,1459.0 1594.6,1456.4 1595.1,1455.3 1595.5,1457.1 1596.0,1457.6 1596.5,1457.4 1596.9,1457.9 1597.4,1458.2 1597.9,1456.9 1598.3,1456.0 1598.8,1457.5 1599.3,1458.7 1599.7,1457.5 1600.2,1457.0 1600.7,1456.8 1601.1,1455.8 1601.6,1457.0 1602.1,1455.5 1602.5,1456.9 1603.0,1455.6 1603.5,1457.2 1603.9,1456.9 1604.4,1457.5 1604.9,1456.3 1605.4,1457.2 1605.8,1458.4 1606.3,1459.4 1606.8,1455.5 1607.2,1458.6 1607.7,1459.0 1608.2,1457.1 1608.6,1457.3 1609.1,1457.4 1609.6,1456.9 1610.0,1457.7 1610.5,1458.0 1611.0,1456.6 1611.4,1456.7 1611.9,1456.9 1612.4,1457.8 1612.8,1458.2 1613.3,1456.4 1613.8,1458.6 1614.2,1457.8 1614.7,1456.7 1615.2,1456.9 1615.6,1456.7 1616.1,1457.9 1616.6,1460.1 1617.0,1456.3 1617.5,1457.1 1618.0,1457.7 1618.4,1456.4 1618.9,1458.3 1619.4,1456.7 1619.8,1457.6 1620.3,1457.1 1620.8,1457.1 1621.2,1458.3 1621.7,1458.3 1622.2,1456.6 1622.6,1457.4 1623.1,1456.7 1623.6,1457.4 1624.0,1456.8 1624.5,1457.0 1625.0,1459.8 1625.5,1456.7 1625.9,1458.5 1626.4,1457.3 1626.9,1458.5 1627.3,1456.3 1627.8,1455.7 1628.3,1459.1 1628.7,1457.4 1629.2,1459.0 1629.7,1457.2 1630.1,1456.6 1630.6,1457.7 1631.1,1458.0 1631.5,1459.5 1632.0,1455.9 1632.5,1459.5 1632.9,1458.9 1633.4,1458.7 1633.9,1458.2 1634.3,1456.6 1634.8,1458.4 1635.3,1455.8 1635.7,1458.0 1636.2,1456.6 1636.7,1458.5 1637.1,1456.8 1637.6,1458.4 1638.1,1456.5 1638.5,1455.8 1639.0,1458.4 1639.5,1458.3 1639.9,1456.7 1640.4,1457.4 1640.9,1458.6 1641.3,1456.1 1641.8,1456.6 1642.3,1457.5 1642.7,1457.8 1643.2,1456.8 1643.7,1457.3 1644.1,1457.0 1644.6,1456.3 1645.1,1458.4 1645.6,1458.0 1646.0,1458.0 1646.5,1458.5 1647.0,1457.7 1647.4,1457.4 1647.9,1456.2 1648.4,1457.4 1648.8,1458.1 1649.3,1458.3 1649.8,1458.2 1650.2,1458.3 1650.7,1459.5 1651.2,1456.5 1651.6,1457.6 1652.1,1458.3 1652.6,1458.2 1653.0,1457.5 1653.5,1458.0 1654.0,1458.3 1654.4,1456.8 1654.9,1460.1 1655.4,1458.3 1655.8,1458.4 1656.3,1456.2 1656.8,1459.7 1657.2,1459.7 1657.7,1458.0 1658.2,1457.2 1658.6,1458.5 1659.1,1458.9 1659.6,1458.0 1660.0,1460.0 1660.5,1458.6 1661.0,1457.8 1661.4,1458.2 1661.9,1458.5 1662.4,1459.2 1662.8,1459.6 1663.3,1459.0 1663.8,1458.9 1664.3,1459.1 1664.7,1459.2 1665.2,1460.9 1665.7,1457.7 1666.1,1459.7 1666.6,1458.3 1667.1,1459.2 1667.5,1459.1 1668.0,1457.5 1668.5,1459.7 1668.9,1458.9 1669.4,1460.3 1669.9,1460.2 1670.3,1458.5 1670.8,1459.8 1671.3,1460.1 1671.7,1460.2 1672.2,1459.3 1672.7,1460.7 1673.1,1460.3 1673.6,1459.3 1674.1,1458.9 1674.5,1460.2 1675.0,1459.2 1675.5,1461.4 1675.9,1457.8 1676.4,1458.7 1676.9,1460.3 1677.3,1459.8 1677.8,1461.1 1678.3,1460.6 1678.7,1459.3 1679.2,1459.8 1679.7,1458.4 1680.1,1461.0 1680.6,1459.3 1681.1,1459.2 1681.5,1459.1 1682.0,1457.8 1682.5,1460.6 1682.9,1459.9 1683.4,1459.5 1683.9,1459.6 1684.4,1458.2 1684.8,1459.2 1685.3,1458.8 1685.8,1458.0 1686.2,1459.6 1686.7,1459.9 1687.2,1457.5 1687.6,1458.2 1688.1,1459.5 1688.6,1458.5 1689.0,1456.8 1689.5,1458.0 1690.0,1459.0 1690.4,1459.6 1690.9,1459.1 1691.4,1458.7 1691.8,1457.6 1692.3,1459.6 1692.8,1459.4 1693.2,1458.6 1693.7,1456.0 1694.2,1456.6 1694.6,1458.1 1695.1,1457.6 1695.6,1456.7 1696.0,1458.4 1696.5,1458.2 1697.0,1458.9 1697.4,1458.5 1697.9,1456.2 1698.4,1457.5 1698.8,1456.7 1699.3,1459.2 1699.8,1458.5 1700.2,1457.6 1700.7,1457.5 1701.2,1458.6 1701.6,1457.8 1702.1,1458.4 1702.6,1456.9 1703.1,1458.3 1703.5,1460.0 1704.0,1459.0 1704.5,1457.2 1704.9,1456.5 1705.4,1457.1 1705.9,1458.2 1706.3,1459.4 1706.8,1456.7 1707.3,1456.8 1707.7,1456.3 1708.2,1458.6 1708.7,1457.7 1709.1,1459.2 1709.6,1457.2 1710.1,1459.0 1710.5,1458.3 1711.0,1459.5 1711.5,1458.0 1711.9,1457.7 1712.4,1457.7 1712.9,1456.8 1713.3,1457.2 1713.8,1457.7 1714.3,1458.4 1714.7,1456.8 1715.2,1457.8 1715.7,1458.9 1716.1,1458.3 1716.6,1456.8 1717.1,1457.5 1717.5,1459.4 1718.0,1458.0 1718.5,1460.1 1718.9,1459.3 1719.4,1457.5 1719.9,1458.0 1720.3,1458.1 1720.8,1457.1 1721.3,1459.6 1721.7,1457.8 1722.2,1459.1 1722.7,1457.6 1723.2,1457.6 1723.6,1457.8 1724.1,1457.8 1724.6,1457.6 1725.0,1456.7 1725.5,1457.1 1726.0,1457.5 1726.4,1457.2 1726.9,1458.8 1727.4,1457.5 1727.8,1458.5 1728.3,1459.0 1728.8,1457.2 1729.2,1458.0 1729.7,1458.1 1730.2,1458.0 1730.6,1457.8 1731.1,1457.5 1731.6,1457.3 1732.0,1457.3 1732.5,1459.2 1733.0,1459.4 1733.4,1458.2 1733.9,1458.0 1734.4,1457.1 1734.8,1456.6 1735.3,1459.5 1735.8,1457.6 1736.2,1458.1 1736.7,1456.3 1737.2,1457.5 1737.6,1456.1 1738.1,1457.4 1738.6,1457.1 1739.0,1457.1 1739.5,1457.6 1740.0,1457.3 1740.4,1455.0 1740.9,1456.1 1741.4,1454.9 1741.9,1454.5 1742.3,1456.2 1742.8,1457.5 1743.3,1454.2 1743.7,1453.7 1744.2,1453.3 1744.7,1454.9 1745.1,1453.5 1745.6,1452.5 1746.1,1454.5 1746.5,1455.1 1747.0,1453.5 1747.5,1456.1 1747.9,1454.9 1748.4,1455.9 1748.9,1456.0 1749.3,1455.4 1749.8,1456.3 1750.3,1456.4 1750.7,1455.3 1751.2,1459.4 1751.7,1458.0 1752.1,1456.5 1752.6,1457.3 1753.1,1457.1 1753.5,1458.2 1754.0,1457.9 1754.5,1458.0 1754.9,1457.8 1755.4,1457.6 1755.9,1456.2 1756.3,1458.3 1756.8,1457.3 1757.3,1459.5 1757.7,1459.1 1758.2,1459.4 1758.7,1458.9 1759.1,1458.7 1759.6,1458.8 1760.1,1459.6 1760.5,1459.5 1761.0,1458.3 1761.5,1458.7 1762.0,1458.8 1762.4,1458.8 1762.9,1456.7 1763.4,1458.5 1763.8,1459.1 1764.3,1459.9 1764.8,1458.9 1765.2,1459.5 1765.7,1457.9 1766.2,1458.8 1766.6,1458.8 1767.1,1460.0 1767.6,1459.5 1768.0,1458.4 1768.5,1459.8 1769.0,1458.9 1769.4,1459.4 1769.9,1458.3 1770.4,1459.1 1770.8,1458.7 1771.3,1459.8 1771.8,1458.8 1772.2,1459.8 1772.7,1461.1 1773.2,1458.9 1773.6,1457.2 1774.1,1459.0 1774.6,1457.7 1775.0,1458.4 1775.5,1459.5 1776.0,1460.5 1776.4,1459.3 1776.9,1459.5 1777.4,1460.0 1777.8,1458.7 1778.3,1458.7 1778.8,1460.2 1779.2,1457.4 1779.7,1458.7 1780.2,1460.2 1780.7,1458.9 1781.1,1458.9 1781.6,1458.6 1782.1,1460.9 1782.5,1457.7 1783.0,1459.7 1783.5,1459.2 1783.9,1458.5 1784.4,1459.5 1784.9,1459.9 1785.3,1457.9 1785.8,1459.5 1786.3,1458.4 1786.7,1458.5 1787.2,1458.1 1787.7,1458.1 1788.1,1460.3 1788.6,1460.9 1789.1,1459.7 1789.5,1458.0 1790.0,1459.1 1790.5,1458.9 1790.9,1457.6 1791.4,1458.2 1791.9,1459.5 1792.3,1459.8 1792.8,1458.8 1793.3,1458.2 1793.7,1460.3 1794.2,1460.2 1794.7,1460.9 1795.1,1458.5 1795.6,1458.6 1796.1,1460.9 1796.5,1459.6 1797.0,1459.8 1797.5,1458.4 1797.9,1458.7 1798.4,1459.6 1798.9,1459.7 1799.3,1458.4 1799.8,1459.0 1800.3,1459.8 1800.8,1460.2 1801.2,1460.4 1801.7,1459.8 1802.2,1460.2 1802.6,1460.9 1803.1,1460.6 1803.6,1459.6 1804.0,1460.5 1804.5,1461.7 1805.0,1460.8 1805.4,1461.6 1805.9,1461.2 1806.4,1460.0 1806.8,1461.8 1807.3,1461.8 1807.8,1460.1 1808.2,1460.7 1808.7,1460.6 1809.2,1459.3 1809.6,1461.0 1810.1,1461.0 1810.6,1461.4 1811.0,1458.5 1811.5,1461.9 1812.0,1460.6 1812.4,1459.2 1812.9,1461.9 1813.4,1460.6 1813.8,1461.1 1814.3,1462.2 1814.8,1460.9 1815.2,1462.5 1815.7,1460.7 1816.2,1460.5 1816.6,1461.4 1817.1,1461.3 1817.6,1461.0 1818.0,1460.1 1818.5,1460.5 1819.0,1461.9 1819.4,1460.4 1819.9,1459.7 1820.4,1460.2 1820.9,1461.6 1821.3,1460.1 1821.8,1460.0 1822.3,1460.7 1822.7,1461.1 1823.2,1460.1 1823.7,1460.1 1824.1,1459.8 1824.6,1460.8 1825.1,1459.9 1825.5,1460.8 1826.0,1461.0 1826.5,1460.9 1826.9,1461.3 1827.4,1461.0 1827.9,1460.2 1828.3,1460.7 1828.8,1461.0 1829.3,1458.3 1829.7,1460.4 1830.2,1460.8 1830.7,1461.8 1831.1,1459.6 1831.6,1459.6 1832.1,1460.3 1832.5,1460.0 1833.0,1459.8 1833.5,1459.8 1833.9,1459.7 1834.4,1461.1 1834.9,1459.7 1835.3,1460.1 1835.8,1461.7 1836.3,1460.2 1836.7,1459.3 1837.2,1460.5 1837.7,1459.8 1838.1,1460.0 1838.6,1459.6 1839.1,1460.2 1839.6,1460.1 1840.0,1459.4 1840.5,1460.1 1841.0,1458.4 1841.4,1459.8 1841.9,1459.6 1842.4,1459.3 1842.8,1461.6 1843.3,1457.4 1843.8,1458.4 1844.2,1459.2 1844.7,1460.1 1845.2,1459.7 1845.6,1460.7 1846.1,1459.2 1846.6,1460.7 1847.0,1460.5 1847.5,1459.6 1848.0,1460.5 1848.4,1461.0 1848.9,1460.2 1849.4,1461.4 1849.8,1460.1 1850.3,1461.5 1850.8,1461.2 1851.2,1458.1 1851.7,1461.2 1852.2,1459.5 1852.6,1459.6 1853.1,1459.8 1853.6,1460.5 1854.0,1459.1 1854.5,1460.5 1855.0,1459.8 1855.4,1460.1 1855.9,1460.0 1856.4,1460.3 1856.8,1459.3 1857.3,1460.4 1857.8,1461.2 1858.2,1460.9 1858.7,1461.2 1859.2,1459.4 1859.7,1460.8 1860.1,1459.8 1860.6,1460.2 1861.1,1460.0 1861.5,1460.4 1862.0,1461.4 1862.5,1460.1 1862.9,1457.9 1863.4,1459.6 1863.9,1460.2 1864.3,1460.5 1864.8,1461.8 1865.3,1460.3 1865.7,1459.5 1866.2,1460.3 1866.7,1460.9 1867.1,1460.7 1867.6,1460.3 1868.1,1458.9 1868.5,1460.9 1869.0,1460.8 1869.5,1460.5 1869.9,1460.4 1870.4,1460.2 1870.9,1460.8 1871.3,1461.0 1871.8,1460.9 1872.3,1459.5 1872.7,1459.7 1873.2,1460.7 1873.7,1459.3 1874.1,1461.1 1874.6,1461.1 1875.1,1460.8 1875.5,1462.3 1876.0,1460.8 1876.5,1461.1 1876.9,1460.4 1877.4,1459.0 1877.9,1460.2 1878.4,1460.1 1878.8,1458.6 1879.3,1461.2 1879.8,1459.8 1880.2,1460.5 1880.7,1461.9 1881.2,1459.8 1881.6,1461.3 1882.1,1461.6 1882.6,1461.8 1883.0,1461.4 1883.5,1461.0 1884.0,1458.8 1884.4,1459.8 1884.9,1459.4 1885.4,1460.2 1885.8,1461.4 1886.3,1460.4 1886.8,1461.7 1887.2,1458.9 1887.7,1459.2 1888.2,1459.3 1888.6,1459.7 1889.1,1461.6 1889.6,1461.5 1890.0,1459.2 1890.5,1458.8 1891.0,1460.7 1891.4,1461.6 1891.9,1461.7 1892.4,1460.4 1892.8,1461.5 1893.3,1459.1 1893.8,1459.5 1894.2,1460.5 1894.7,1459.2 1895.2,1460.3 1895.6,1459.0 1896.1,1460.3 1896.6,1459.8 1897.0,1459.2 1897.5,1457.4 1898.0,1460.9 1898.5,1460.5 1898.9,1460.3 1899.4,1459.0 1899.9,1458.8 1900.3,1458.8 1900.8,1459.6 1901.3,1459.0 1901.7,1459.9 1902.2,1459.6 1902.7,1460.3 1903.1,1460.3 1903.6,1458.7 1904.1,1459.6 1904.5,1458.6 1905.0,1458.1 1905.5,1459.6 1905.9,1459.5 1906.4,1459.0 1906.9,1458.4 1907.3,1459.0 1907.8,1458.9 1908.3,1457.3 1908.7,1457.3 1909.2,1455.6 1909.7,1455.2 1910.1,1457.1 1910.6,1455.8 1911.1,1455.0 1911.5,1455.6 1912.0,1454.2 1912.5,1454.0 1912.9,1454.6 1913.4,1454.5 1913.9,1454.2 1914.3,1457.0 1914.8,1456.0 1915.3,1456.2 1915.7,1457.5 1916.2,1455.9 1916.7,1455.6 1917.2,1456.6 1917.6,1456.3 1918.1,1457.4 1918.6,1457.5 1919.0,1458.9 1919.5,1456.5 1920.0,1458.6 1920.4,1459.4 1920.9,1459.3 1921.4,1460.3 1921.8,1459.0 1922.3,1459.8 1922.8,1459.6 1923.2,1458.4 1923.7,1459.8 1924.2,1461.2 1924.6,1460.3 1925.1,1460.5 1925.6,1459.9 1926.0,1459.0 1926.5,1460.0 1927.0,1458.7 1927.4,1459.6 1927.9,1460.3 1928.4,1460.5 1928.8,1459.9 1929.3,1459.9 1929.8,1459.8 1930.2,1460.4 1930.7,1459.7 1931.2,1459.8 1931.6,1458.8 1932.1,1458.5 1932.6,1459.7 1933.0,1459.8 1933.5,1459.9 1934.0,1459.6 1934.4,1460.5 1934.9,1460.4 1935.4,1461.1 1935.8,1459.9 1936.3,1459.4 1936.8,1459.8 1937.3,1460.4 1937.7,1460.0 1938.2,1460.9 1938.7,1459.6 1939.1,1460.4 1939.6,1460.5 1940.1,1460.6 1940.5,1461.0 1941.0,1460.3 1941.5,1460.6 1941.9,1460.4 1942.4,1460.2 1942.9,1461.7 1943.3,1460.1 1943.8,1460.2 1944.3,1459.7 1944.7,1461.5 1945.2,1460.0 1945.7,1461.3 1946.1,1462.1 1946.6,1460.6 1947.1,1459.7 1947.5,1461.1 1948.0,1460.2 1948.5,1461.3 1948.9,1461.5 1949.4,1461.0 1949.9,1461.5 1950.3,1460.5 1950.8,1461.5 1951.3,1460.2 1951.7,1459.3 1952.2,1460.7 1952.7,1462.6 1953.1,1461.3 1953.6,1460.9 1954.1,1460.5 1954.5,1460.4 1955.0,1461.6 1955.5,1461.8 1956.0,1461.1 1956.4,1460.6 1956.9,1459.8 1957.4,1460.1 1957.8,1461.4 1958.3,1460.0 1958.8,1460.7 1959.2,1460.3 1959.7,1461.3 1960.2,1459.6 1960.6,1461.1 1961.1,1461.1 1961.6,1461.5 1962.0,1462.0 1962.5,1461.2 1963.0,1462.0 1963.4,1459.9 1963.9,1460.4 1964.4,1460.8 1964.8,1461.7 1965.3,1461.2 1965.8,1461.4 1966.2,1460.9 1966.7,1460.4 1967.2,1459.9 1967.6,1460.4 1968.1,1460.9 1968.6,1460.9 1969.0,1460.6 1969.5,1461.1 1970.0,1460.3 1970.4,1462.1 1970.9,1460.7 1971.4,1461.6 1971.8,1461.0 1972.3,1461.4 1972.8,1460.4 1973.2,1461.2 1973.7,1462.2 1974.2,1461.7 1974.6,1461.2 1975.1,1461.2 1975.6,1460.4 1976.1,1460.4 1976.5,1461.9 1977.0,1460.7 1977.5,1460.2 1977.9,1461.9 1978.4,1460.7 1978.9,1462.0 1979.3,1462.1 1979.8,1461.8 1980.3,1461.4 1980.7,1462.1 1981.2,1461.6 1981.7,1460.9 1982.1,1462.7 1982.6,1460.5 1983.1,1461.3 1983.5,1462.0 1984.0,1462.3 1984.5,1460.1 1984.9,1461.0 1985.4,1461.1 1985.9,1462.0 1986.3,1461.9 1986.8,1461.3 1987.3,1461.6 1987.7,1460.8 1988.2,1461.7 1988.7,1460.7 1989.1,1459.9 1989.6,1460.7 1990.1,1460.4 1990.5,1460.8 1991.0,1460.3 1991.5,1461.0 1991.9,1460.4 1992.4,1461.0 1992.9,1461.5 1993.3,1460.6 1993.8,1461.5 1994.3,1461.3 1994.7,1462.1 1995.2,1461.7 1995.7,1461.6 1996.2,1460.7 1996.6,1461.3 1997.1,1459.5 1997.6,1461.7 1998.0,1461.1 1998.5,1460.1 1999.0,1461.2 1999.4,1461.6 1999.9,1462.5 2000.4,1461.0 2000.8,1462.1 2001.3,1462.1 2001.8,1461.7 2002.2,1461.4 2002.7,1461.6 2003.2,1460.6 2003.6,1460.1 2004.1,1460.5 2004.6,1460.0 2005.0,1461.1 2005.5,1461.2 2006.0,1461.5 2006.4,1461.7 2006.9,1461.1 2007.4,1462.0 2007.8,1461.0 2008.3,1461.8 2008.8,1461.0 2009.2,1461.1 2009.7,1461.4 2010.2,1459.8 2010.6,1460.3 2011.1,1460.9 2011.6,1459.9 2012.0,1460.8 2012.5,1462.0 2013.0,1460.0 2013.4,1460.5 2013.9,1461.2 2014.4,1460.1 2014.9,1464.1 2015.3,1461.9 2015.8,1462.4 2016.3,1460.9 2016.7,1460.6 2017.2,1460.0 2017.7,1463.1 2018.1,1459.7 2018.6,1461.5 2019.1,1461.4 2019.5,1461.4 2020.0,1461.3 2020.5,1460.5 2020.9,1460.6 2021.4,1463.6 2021.9,1461.2 2022.3,1461.5 2022.8,1461.6 2023.3,1460.1 2023.7,1460.7 2024.2,1461.1 2024.7,1461.9 2025.1,1461.0 2025.6,1461.8 2026.1,1460.2 2026.5,1461.3 2027.0,1460.7 2027.5,1461.2 2027.9,1460.7 2028.4,1462.3 2028.9,1460.7 2029.3,1462.4 2029.8,1460.9 2030.3,1463.0 2030.7,1460.9 2031.2,1461.2 2031.7,1461.1 2032.1,1460.6 2032.6,1462.4 2033.1,1461.8 2033.5,1460.8 2034.0,1461.9 2034.5,1460.2 2035.0,1461.3 2035.4,1461.5 2035.9,1461.7 2036.4,1460.6 2036.8,1462.7 2037.3,1460.2 2037.8,1461.5 2038.2,1462.2 2038.7,1462.3 2039.2,1461.4 2039.6,1461.8 2040.1,1460.5 2040.6,1459.2 2041.0,1461.0 2041.5,1461.7 2042.0,1460.6 2042.4,1462.3 2042.9,1461.0 2043.4,1461.2 2043.8,1460.9 2044.3,1461.8 2044.8,1460.8 2045.2,1461.7 2045.7,1461.9 2046.2,1460.8 2046.6,1461.4 2047.1,1461.5 2047.6,1461.5 2048.0,1461.5 2048.5,1461.5 2049.0,1461.0 2049.4,1461.7 2049.9,1460.8 2050.4,1461.7 2050.8,1461.8 2051.3,1461.5 2051.8,1461.2 2052.2,1461.4 2052.7,1460.4 2053.2,1462.0 2053.7,1462.4 2054.1,1461.7 2054.6,1462.8 2055.1,1460.6 2055.5,1461.2 2056.0,1462.4 2056.5,1462.8 2056.9,1460.4 2057.4,1462.5 2057.9,1462.0 2058.3,1460.8 2058.8,1461.6 2059.3,1461.6 2059.7,1462.4 2060.2,1462.6 2060.7,1462.4 2061.1,1461.6 2061.6,1462.1 2062.1,1462.7 2062.5,1460.4 2063.0,1461.3"/>
</g>
<g fill="#000">
<polygon points="817.5,197.0 834.0,217.5 817.5,238.0 801.0,217.5"/>
<polygon points="684.6,1057.8 701.1,1078.3 684.6,1098.8 668.1,1078.3"/>
<polygon points="1048.4,1321.7 1064.9,1342.2 1048.4,1362.7 1031.9,1342.2"/>
<polygon points="1137.5,1352.4 1154.0,1372.9 1137.5,1393.4 1121.0,1372.9"/>
<polygon points="1185.5,1345.8 1202.0,1366.3 1185.5,1386.8 1169.0,1366.3"/>
<polygon points="1264.5,1366.8 1281.0,1387.3 1264.5,1407.8 1248.0,1387.3"/>
<polygon points="1368.2,1363.8 1384.7,1384.3 1368.2,1404.8 1351.7,1384.3"/>
<polygon points="1481.2,1375.6 1497.7,1396.1 1481.2,1416.6 1464.7,1396.1"/>
<polygon points="1597.4,1361.9 1613.9,1382.4 1597.4,1402.9 1580.9,1382.4"/>
<polygon points="1789.4,1369.0 1805.9,1389.5 1789.4,1410.0 1772.9,1389.5"/>
<path fill-rule="evenodd" d="M461.1,1232.3 L507.1,1232.3 L482.5,1284.3 Z M470.7,1236.7 L485.1,1271.8 L501.5,1236.7 Z"/>
<path fill-rule="evenodd" d="M633.0,1194.0 L679.0,1194.0 L654.4,1246.0 Z M642.6,1198.4 L657.0,1233.5 L673.4,1198.4 Z"/>
<path fill-rule="evenodd" d="M657.1,1101.1 L703.1,1101.1 L678.5,1153.1 Z M666.7,1105.5 L681.1,1140.6 L697.5,1105.5 Z"/>
<path fill-rule="evenodd" d="M754.0,1232.3 L800.0,1232.3 L775.4,1284.3 Z M763.6,1236.7 L778.0,1271.8 L794.4,1236.7 Z"/>
<path fill-rule="evenodd" d="M990.1,1331.1 L1036.1,1331.1 L1011.5,1383.1 Z M999.7,1335.5 L1014.1,1370.6 L1030.5,1335.5 Z"/>
</g>
<g class="curve">
<path stroke="#000" d="M1349.5,214.1 H1510.2"/>
<path stroke="#f00" d="M1349.5,311.2 H1510.2"/>
<path stroke="#00f" d="M1349.5,408.1 H1510.2"/>
</g>
<text transform="translate(1527.4,237.5) scale(1,1.035)">YM</text>
<text transform="translate(1527.4,334.1) scale(1,1.035)">CY</text>
<text transform="translate(1527.4,431.0) scale(1,1.035)">HA</text>
<g fill="#000"><polygon points="1460.8,513.1 1477.3,533.6 1460.8,554.1 1444.3,533.6"/><path fill-rule="evenodd" d="M1430.0,647.0 L1476.0,647.0 L1451.4,699.0 Z M1439.6,651.4 L1454.0,686.5 L1470.4,651.4 Z"/></g>
<text transform="translate(1518.8,553.4) scale(1,1.035)">SiO<tspan dx="-0.9" dy="21.5">2</tspan></text>
<text transform="translate(1521.0,702.3) scale(1,1.035)">Al<tspan dx="0.0" dy="22.7">2</tspan><tspan dy="-22.7">Si</tspan><tspan dx="0.0" dy="22.7">2</tspan><tspan dy="-22.7">O</tspan><tspan dx="0.0" dy="22.7">5</tspan><tspan dy="-22.7">(OH)</tspan><tspan dx="0.0" dy="22.7">4</tspan></text>
</svg>
</body>
</html>
